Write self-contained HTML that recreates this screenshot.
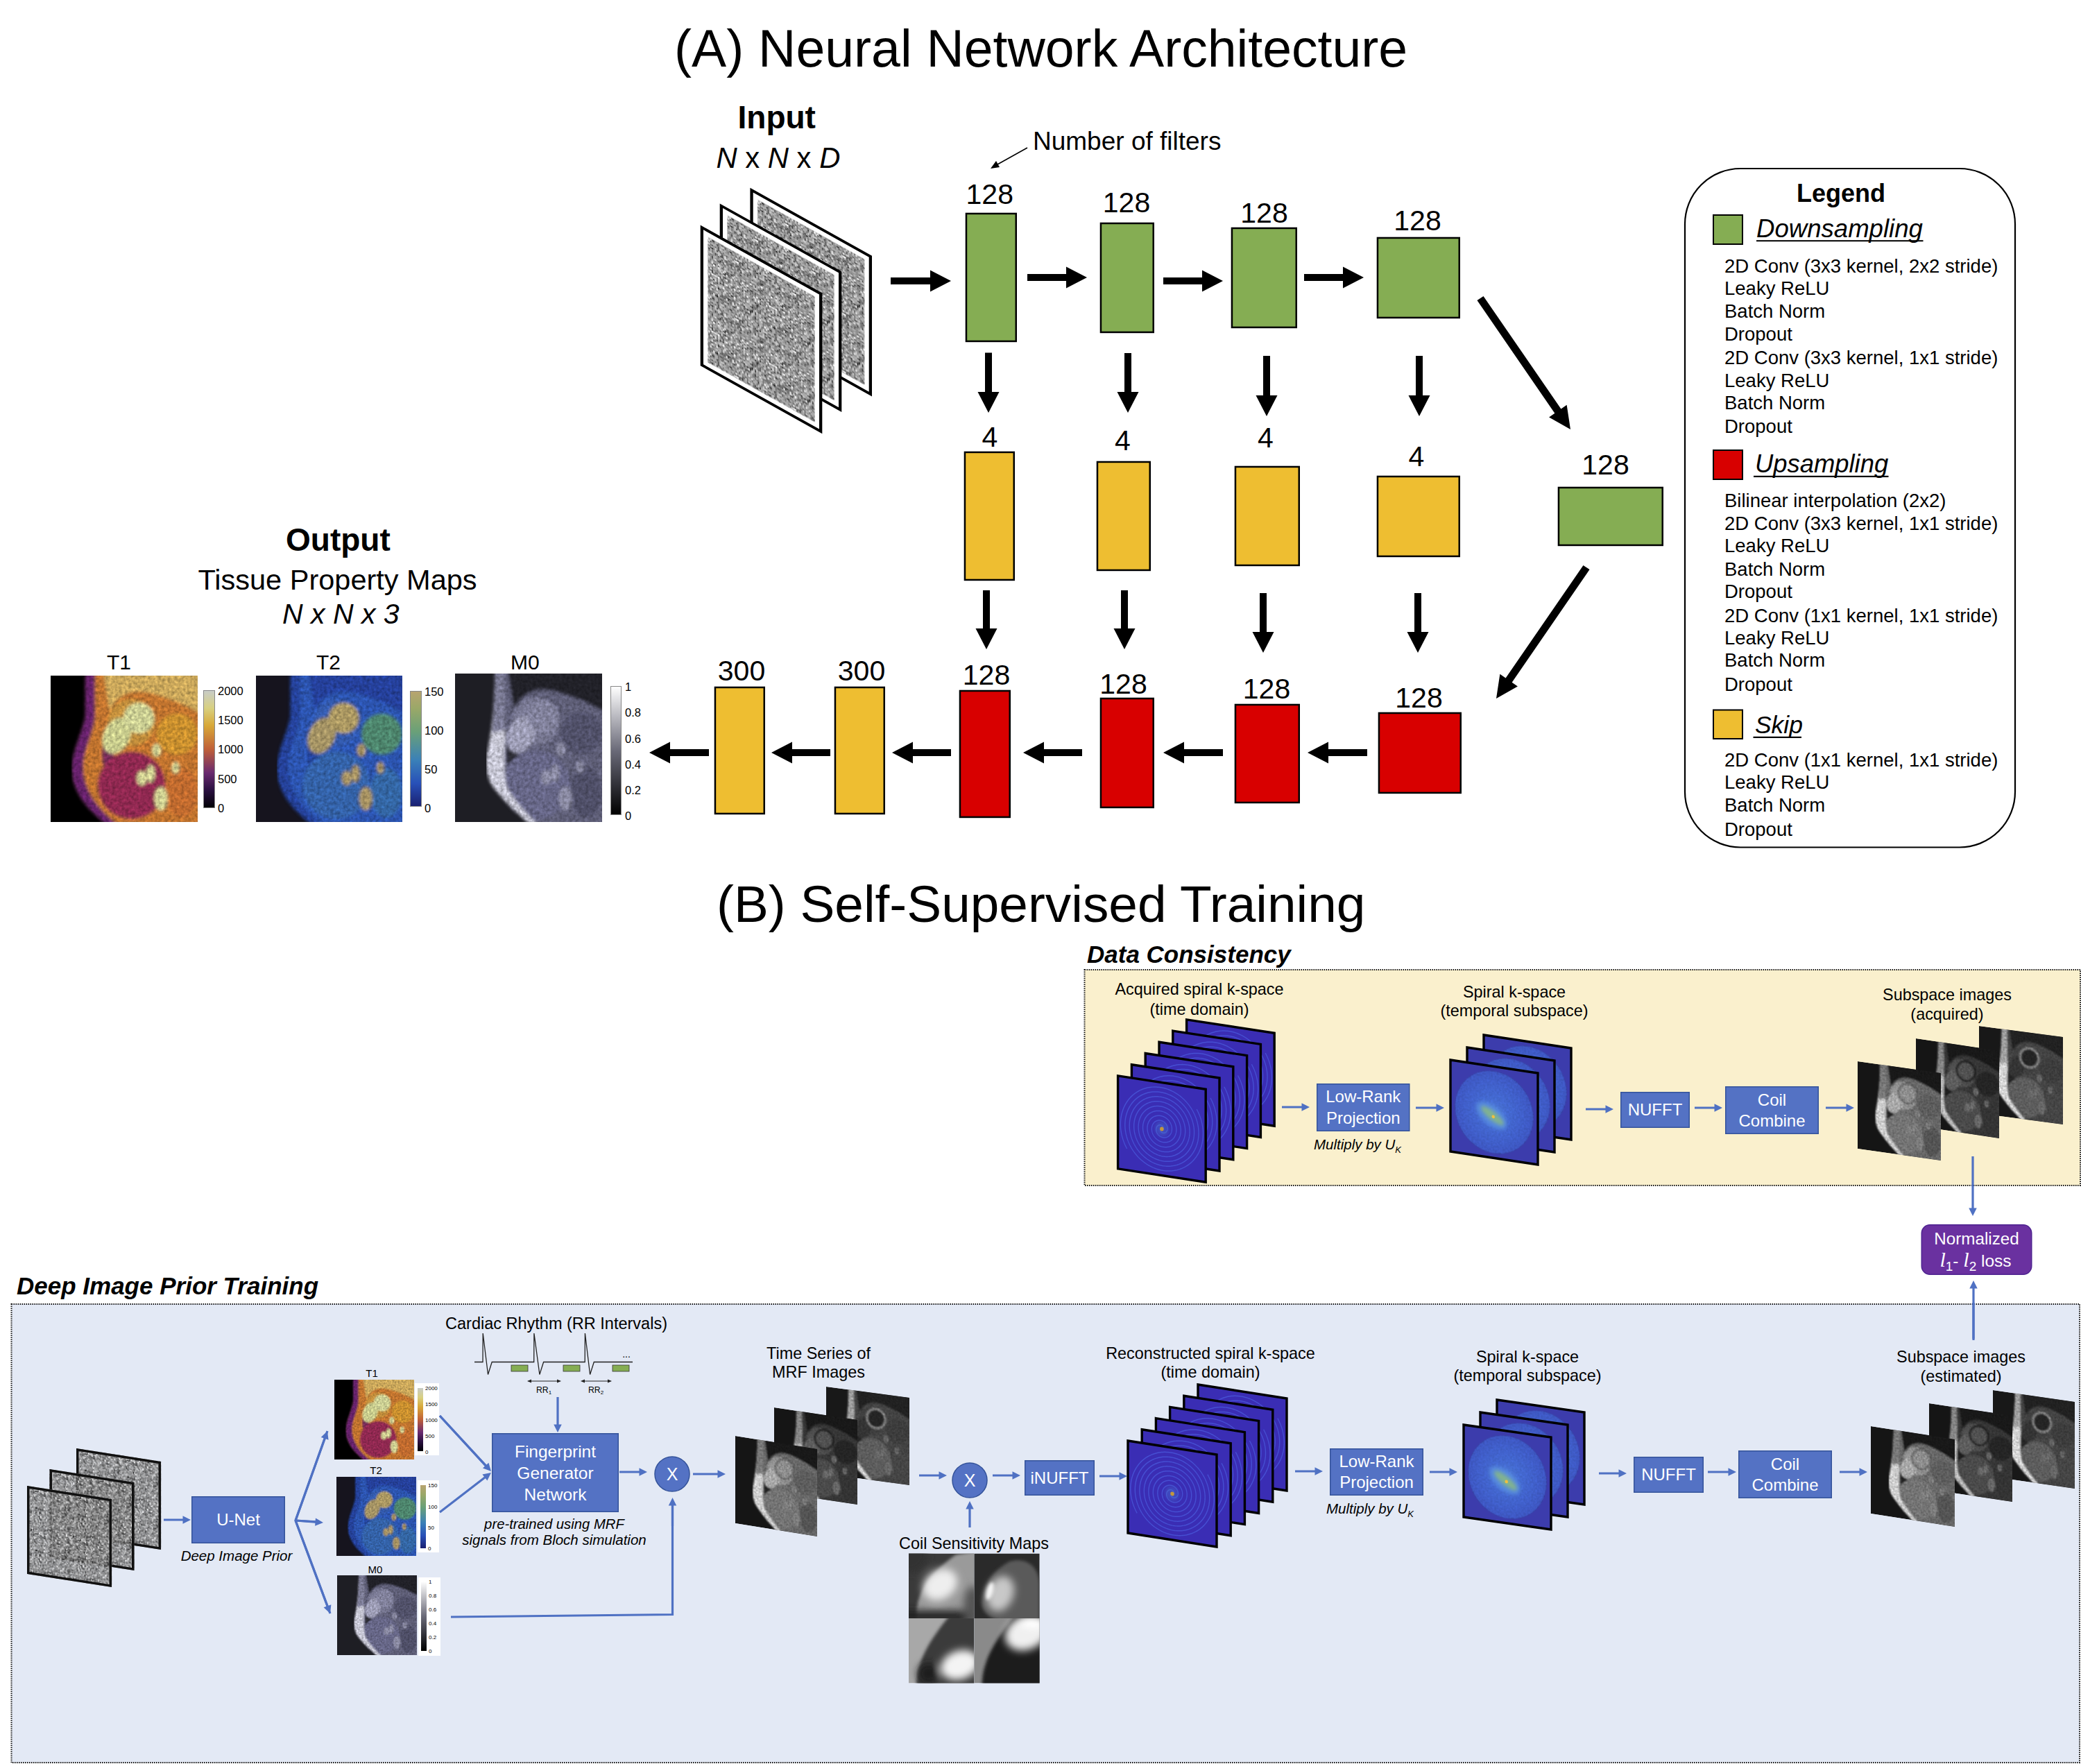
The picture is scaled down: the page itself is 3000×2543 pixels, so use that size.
<!DOCTYPE html>
<html><head><meta charset="utf-8"><style>
html,body{margin:0;padding:0;background:#fff;}
body{width:3000px;height:2543px;overflow:hidden;}
svg{display:block;}
text{font-family:"Liberation Sans", sans-serif;}
</style></head><body>
<svg width="3000" height="2543" viewBox="0 0 3000 2543">
<rect x="0" y="0" width="3000" height="2543" fill="#fff"/>
<defs>
<pattern id="pnoiseA" x="0" y="0" width="82.80" height="82.80" patternUnits="userSpaceOnUse">
<path d="M23.0 4.6h2.3v2.3h-2.3zM80.5 23.0h2.3v2.3h-2.3zM34.5 50.6h2.3v2.3h-2.3zM34.5 55.2h2.3v2.3h-2.3zM2.3 64.4h2.3v2.3h-2.3zM80.5 69.0h2.3v2.3h-2.3zM43.7 75.9h2.3v2.3h-2.3zM73.6 80.5h2.3v2.3h-2.3z" fill="#000000"/>
<path d="M66.7 0.0h2.3v2.3h-2.3zM71.3 0.0h2.3v2.3h-2.3zM78.2 0.0h2.3v2.3h-2.3zM34.5 2.3h2.3v2.3h-2.3zM39.1 2.3h2.3v2.3h-2.3zM48.3 2.3h2.3v2.3h-2.3zM71.3 2.3h2.3v2.3h-2.3zM48.3 6.9h2.3v2.3h-2.3zM16.1 11.5h2.3v2.3h-2.3zM18.4 11.5h2.3v2.3h-2.3zM0.0 13.8h2.3v2.3h-2.3zM2.3 20.7h2.3v2.3h-2.3zM16.1 23.0h2.3v2.3h-2.3zM11.5 25.3h2.3v2.3h-2.3zM29.9 32.2h2.3v2.3h-2.3zM43.7 32.2h2.3v2.3h-2.3zM4.6 34.5h2.3v2.3h-2.3zM27.6 34.5h2.3v2.3h-2.3zM57.5 34.5h2.3v2.3h-2.3zM57.5 39.1h2.3v2.3h-2.3zM6.9 41.4h2.3v2.3h-2.3zM43.7 46.0h2.3v2.3h-2.3zM34.5 48.3h2.3v2.3h-2.3zM16.1 55.2h2.3v2.3h-2.3zM66.7 55.2h2.3v2.3h-2.3zM2.3 57.5h2.3v2.3h-2.3zM59.8 59.8h2.3v2.3h-2.3zM46.0 62.1h2.3v2.3h-2.3zM73.6 64.4h2.3v2.3h-2.3zM18.4 66.7h2.3v2.3h-2.3zM27.6 66.7h2.3v2.3h-2.3zM78.2 66.7h2.3v2.3h-2.3zM23.0 69.0h2.3v2.3h-2.3zM46.0 71.3h2.3v2.3h-2.3zM80.5 71.3h2.3v2.3h-2.3zM25.3 75.9h2.3v2.3h-2.3zM73.6 75.9h2.3v2.3h-2.3zM9.2 80.5h2.3v2.3h-2.3zM62.1 80.5h2.3v2.3h-2.3z" fill="#1c1c1c"/>
<path d="M39.1 0.0h2.3v2.3h-2.3zM41.4 0.0h2.3v2.3h-2.3zM73.6 0.0h2.3v2.3h-2.3zM27.6 2.3h2.3v2.3h-2.3zM20.7 4.6h2.3v2.3h-2.3zM78.2 4.6h2.3v2.3h-2.3zM39.1 6.9h2.3v2.3h-2.3zM78.2 6.9h2.3v2.3h-2.3zM52.9 9.2h2.3v2.3h-2.3zM62.1 9.2h2.3v2.3h-2.3zM29.9 11.5h2.3v2.3h-2.3zM13.8 13.8h2.3v2.3h-2.3zM23.0 13.8h2.3v2.3h-2.3zM41.4 13.8h2.3v2.3h-2.3zM43.7 13.8h2.3v2.3h-2.3zM50.6 16.1h2.3v2.3h-2.3zM55.2 16.1h2.3v2.3h-2.3zM64.4 16.1h2.3v2.3h-2.3zM73.6 16.1h2.3v2.3h-2.3zM16.1 18.4h2.3v2.3h-2.3zM20.7 18.4h2.3v2.3h-2.3zM62.1 18.4h2.3v2.3h-2.3zM9.2 20.7h2.3v2.3h-2.3zM52.9 20.7h2.3v2.3h-2.3zM59.8 20.7h2.3v2.3h-2.3zM78.2 20.7h2.3v2.3h-2.3zM23.0 23.0h2.3v2.3h-2.3zM55.2 23.0h2.3v2.3h-2.3zM59.8 23.0h2.3v2.3h-2.3zM69.0 23.0h2.3v2.3h-2.3zM29.9 25.3h2.3v2.3h-2.3zM20.7 27.6h2.3v2.3h-2.3zM29.9 27.6h2.3v2.3h-2.3zM52.9 27.6h2.3v2.3h-2.3zM50.6 29.9h2.3v2.3h-2.3zM71.3 29.9h2.3v2.3h-2.3zM78.2 29.9h2.3v2.3h-2.3zM2.3 32.2h2.3v2.3h-2.3zM41.4 32.2h2.3v2.3h-2.3zM16.1 34.5h2.3v2.3h-2.3zM43.7 41.4h2.3v2.3h-2.3zM71.3 41.4h2.3v2.3h-2.3zM4.6 43.7h2.3v2.3h-2.3zM20.7 43.7h2.3v2.3h-2.3zM78.2 43.7h2.3v2.3h-2.3zM0.0 46.0h2.3v2.3h-2.3zM36.8 48.3h2.3v2.3h-2.3zM39.1 48.3h2.3v2.3h-2.3zM78.2 48.3h2.3v2.3h-2.3zM71.3 52.9h2.3v2.3h-2.3zM73.6 52.9h2.3v2.3h-2.3zM6.9 55.2h2.3v2.3h-2.3zM59.8 55.2h2.3v2.3h-2.3zM16.1 57.5h2.3v2.3h-2.3zM27.6 57.5h2.3v2.3h-2.3zM64.4 57.5h2.3v2.3h-2.3zM9.2 62.1h2.3v2.3h-2.3zM13.8 62.1h2.3v2.3h-2.3zM43.7 64.4h2.3v2.3h-2.3zM55.2 64.4h2.3v2.3h-2.3zM11.5 66.7h2.3v2.3h-2.3zM32.2 66.7h2.3v2.3h-2.3zM52.9 66.7h2.3v2.3h-2.3zM0.0 69.0h2.3v2.3h-2.3zM6.9 69.0h2.3v2.3h-2.3zM18.4 71.3h2.3v2.3h-2.3zM41.4 73.6h2.3v2.3h-2.3zM46.0 75.9h2.3v2.3h-2.3zM0.0 78.2h2.3v2.3h-2.3z" fill="#393939"/>
<path d="M4.6 0.0h2.3v2.3h-2.3zM29.9 0.0h2.3v2.3h-2.3zM36.8 0.0h2.3v2.3h-2.3zM52.9 0.0h2.3v2.3h-2.3zM62.1 0.0h2.3v2.3h-2.3zM18.4 2.3h2.3v2.3h-2.3zM23.0 2.3h2.3v2.3h-2.3zM29.9 2.3h2.3v2.3h-2.3zM32.2 2.3h2.3v2.3h-2.3zM62.1 2.3h2.3v2.3h-2.3zM16.1 4.6h2.3v2.3h-2.3zM50.6 4.6h2.3v2.3h-2.3zM59.8 4.6h2.3v2.3h-2.3zM64.4 4.6h2.3v2.3h-2.3zM66.7 4.6h2.3v2.3h-2.3zM69.0 4.6h2.3v2.3h-2.3zM13.8 6.9h2.3v2.3h-2.3zM27.6 6.9h2.3v2.3h-2.3zM29.9 6.9h2.3v2.3h-2.3zM34.5 6.9h2.3v2.3h-2.3zM46.0 6.9h2.3v2.3h-2.3zM64.4 6.9h2.3v2.3h-2.3zM25.3 9.2h2.3v2.3h-2.3zM32.2 9.2h2.3v2.3h-2.3zM66.7 9.2h2.3v2.3h-2.3zM75.9 9.2h2.3v2.3h-2.3zM0.0 11.5h2.3v2.3h-2.3zM34.5 11.5h2.3v2.3h-2.3zM57.5 11.5h2.3v2.3h-2.3zM62.1 11.5h2.3v2.3h-2.3zM66.7 11.5h2.3v2.3h-2.3zM80.5 11.5h2.3v2.3h-2.3zM34.5 13.8h2.3v2.3h-2.3zM55.2 13.8h2.3v2.3h-2.3zM4.6 16.1h2.3v2.3h-2.3zM9.2 16.1h2.3v2.3h-2.3zM25.3 16.1h2.3v2.3h-2.3zM32.2 16.1h2.3v2.3h-2.3zM39.1 16.1h2.3v2.3h-2.3zM43.7 16.1h2.3v2.3h-2.3zM46.0 16.1h2.3v2.3h-2.3zM2.3 18.4h2.3v2.3h-2.3zM13.8 18.4h2.3v2.3h-2.3zM25.3 18.4h2.3v2.3h-2.3zM59.8 18.4h2.3v2.3h-2.3zM75.9 18.4h2.3v2.3h-2.3zM25.3 20.7h2.3v2.3h-2.3zM57.5 20.7h2.3v2.3h-2.3zM13.8 23.0h2.3v2.3h-2.3zM36.8 23.0h2.3v2.3h-2.3zM46.0 23.0h2.3v2.3h-2.3zM66.7 23.0h2.3v2.3h-2.3zM75.9 23.0h2.3v2.3h-2.3zM9.2 25.3h2.3v2.3h-2.3zM55.2 25.3h2.3v2.3h-2.3zM64.4 25.3h2.3v2.3h-2.3zM27.6 27.6h2.3v2.3h-2.3zM46.0 27.6h2.3v2.3h-2.3zM59.8 27.6h2.3v2.3h-2.3zM62.1 27.6h2.3v2.3h-2.3zM78.2 27.6h2.3v2.3h-2.3zM0.0 29.9h2.3v2.3h-2.3zM6.9 29.9h2.3v2.3h-2.3zM20.7 29.9h2.3v2.3h-2.3zM25.3 29.9h2.3v2.3h-2.3zM36.8 29.9h2.3v2.3h-2.3zM43.7 29.9h2.3v2.3h-2.3zM55.2 29.9h2.3v2.3h-2.3zM13.8 32.2h2.3v2.3h-2.3zM36.8 32.2h2.3v2.3h-2.3zM48.3 32.2h2.3v2.3h-2.3zM52.9 32.2h2.3v2.3h-2.3zM55.2 32.2h2.3v2.3h-2.3zM57.5 32.2h2.3v2.3h-2.3zM66.7 32.2h2.3v2.3h-2.3zM69.0 32.2h2.3v2.3h-2.3zM2.3 34.5h2.3v2.3h-2.3zM6.9 34.5h2.3v2.3h-2.3zM32.2 34.5h2.3v2.3h-2.3zM43.7 34.5h2.3v2.3h-2.3zM52.9 34.5h2.3v2.3h-2.3zM62.1 34.5h2.3v2.3h-2.3zM66.7 34.5h2.3v2.3h-2.3zM2.3 36.8h2.3v2.3h-2.3zM4.6 36.8h2.3v2.3h-2.3zM16.1 36.8h2.3v2.3h-2.3zM25.3 36.8h2.3v2.3h-2.3zM27.6 36.8h2.3v2.3h-2.3zM73.6 36.8h2.3v2.3h-2.3zM0.0 39.1h2.3v2.3h-2.3zM29.9 39.1h2.3v2.3h-2.3zM34.5 39.1h2.3v2.3h-2.3zM48.3 39.1h2.3v2.3h-2.3zM55.2 39.1h2.3v2.3h-2.3zM32.2 41.4h2.3v2.3h-2.3zM48.3 41.4h2.3v2.3h-2.3zM62.1 41.4h2.3v2.3h-2.3zM75.9 41.4h2.3v2.3h-2.3zM18.4 43.7h2.3v2.3h-2.3zM25.3 43.7h2.3v2.3h-2.3zM29.9 43.7h2.3v2.3h-2.3zM2.3 46.0h2.3v2.3h-2.3zM36.8 46.0h2.3v2.3h-2.3zM39.1 46.0h2.3v2.3h-2.3zM46.0 46.0h2.3v2.3h-2.3zM57.5 46.0h2.3v2.3h-2.3zM64.4 46.0h2.3v2.3h-2.3zM2.3 48.3h2.3v2.3h-2.3zM4.6 48.3h2.3v2.3h-2.3zM6.9 48.3h2.3v2.3h-2.3zM41.4 48.3h2.3v2.3h-2.3zM57.5 48.3h2.3v2.3h-2.3zM75.9 48.3h2.3v2.3h-2.3zM9.2 50.6h2.3v2.3h-2.3zM16.1 50.6h2.3v2.3h-2.3zM32.2 50.6h2.3v2.3h-2.3zM50.6 50.6h2.3v2.3h-2.3zM55.2 50.6h2.3v2.3h-2.3zM66.7 50.6h2.3v2.3h-2.3zM11.5 52.9h2.3v2.3h-2.3zM27.6 52.9h2.3v2.3h-2.3zM55.2 52.9h2.3v2.3h-2.3zM57.5 52.9h2.3v2.3h-2.3zM62.1 52.9h2.3v2.3h-2.3zM78.2 52.9h2.3v2.3h-2.3zM4.6 55.2h2.3v2.3h-2.3zM13.8 55.2h2.3v2.3h-2.3zM20.7 55.2h2.3v2.3h-2.3zM23.0 55.2h2.3v2.3h-2.3zM32.2 55.2h2.3v2.3h-2.3zM36.8 55.2h2.3v2.3h-2.3zM48.3 55.2h2.3v2.3h-2.3zM73.6 55.2h2.3v2.3h-2.3zM78.2 55.2h2.3v2.3h-2.3zM9.2 57.5h2.3v2.3h-2.3zM71.3 57.5h2.3v2.3h-2.3zM4.6 59.8h2.3v2.3h-2.3zM29.9 59.8h2.3v2.3h-2.3zM73.6 59.8h2.3v2.3h-2.3zM2.3 62.1h2.3v2.3h-2.3zM23.0 62.1h2.3v2.3h-2.3zM29.9 62.1h2.3v2.3h-2.3zM32.2 62.1h2.3v2.3h-2.3zM36.8 62.1h2.3v2.3h-2.3zM48.3 62.1h2.3v2.3h-2.3zM6.9 64.4h2.3v2.3h-2.3zM13.8 64.4h2.3v2.3h-2.3zM32.2 64.4h2.3v2.3h-2.3zM59.8 64.4h2.3v2.3h-2.3zM69.0 64.4h2.3v2.3h-2.3zM0.0 66.7h2.3v2.3h-2.3zM39.1 66.7h2.3v2.3h-2.3zM46.0 66.7h2.3v2.3h-2.3zM50.6 66.7h2.3v2.3h-2.3zM34.5 69.0h2.3v2.3h-2.3zM55.2 69.0h2.3v2.3h-2.3zM59.8 69.0h2.3v2.3h-2.3zM62.1 69.0h2.3v2.3h-2.3zM4.6 71.3h2.3v2.3h-2.3zM11.5 71.3h2.3v2.3h-2.3zM20.7 71.3h2.3v2.3h-2.3zM36.8 71.3h2.3v2.3h-2.3zM50.6 71.3h2.3v2.3h-2.3zM2.3 73.6h2.3v2.3h-2.3zM9.2 73.6h2.3v2.3h-2.3zM50.6 73.6h2.3v2.3h-2.3zM2.3 75.9h2.3v2.3h-2.3zM9.2 75.9h2.3v2.3h-2.3zM13.8 75.9h2.3v2.3h-2.3zM16.1 75.9h2.3v2.3h-2.3zM27.6 75.9h2.3v2.3h-2.3zM57.5 75.9h2.3v2.3h-2.3zM62.1 75.9h2.3v2.3h-2.3zM71.3 75.9h2.3v2.3h-2.3zM78.2 75.9h2.3v2.3h-2.3zM2.3 78.2h2.3v2.3h-2.3zM11.5 78.2h2.3v2.3h-2.3zM20.7 78.2h2.3v2.3h-2.3zM29.9 78.2h2.3v2.3h-2.3zM39.1 78.2h2.3v2.3h-2.3zM41.4 78.2h2.3v2.3h-2.3zM50.6 78.2h2.3v2.3h-2.3zM16.1 80.5h2.3v2.3h-2.3zM46.0 80.5h2.3v2.3h-2.3zM78.2 80.5h2.3v2.3h-2.3z" fill="#555555"/>
<path d="M9.2 0.0h2.3v2.3h-2.3zM11.5 0.0h2.3v2.3h-2.3zM32.2 0.0h2.3v2.3h-2.3zM34.5 0.0h2.3v2.3h-2.3zM43.7 0.0h2.3v2.3h-2.3zM46.0 0.0h2.3v2.3h-2.3zM48.3 0.0h2.3v2.3h-2.3zM64.4 0.0h2.3v2.3h-2.3zM69.0 0.0h2.3v2.3h-2.3zM2.3 2.3h2.3v2.3h-2.3zM11.5 2.3h2.3v2.3h-2.3zM13.8 2.3h2.3v2.3h-2.3zM16.1 2.3h2.3v2.3h-2.3zM41.4 2.3h2.3v2.3h-2.3zM43.7 2.3h2.3v2.3h-2.3zM52.9 2.3h2.3v2.3h-2.3zM57.5 2.3h2.3v2.3h-2.3zM78.2 2.3h2.3v2.3h-2.3zM0.0 4.6h2.3v2.3h-2.3zM6.9 4.6h2.3v2.3h-2.3zM9.2 4.6h2.3v2.3h-2.3zM11.5 4.6h2.3v2.3h-2.3zM13.8 4.6h2.3v2.3h-2.3zM32.2 4.6h2.3v2.3h-2.3zM41.4 4.6h2.3v2.3h-2.3zM43.7 4.6h2.3v2.3h-2.3zM57.5 4.6h2.3v2.3h-2.3zM71.3 4.6h2.3v2.3h-2.3zM75.9 4.6h2.3v2.3h-2.3zM6.9 6.9h2.3v2.3h-2.3zM23.0 6.9h2.3v2.3h-2.3zM25.3 6.9h2.3v2.3h-2.3zM32.2 6.9h2.3v2.3h-2.3zM36.8 6.9h2.3v2.3h-2.3zM55.2 6.9h2.3v2.3h-2.3zM57.5 6.9h2.3v2.3h-2.3zM59.8 6.9h2.3v2.3h-2.3zM69.0 6.9h2.3v2.3h-2.3zM75.9 6.9h2.3v2.3h-2.3zM80.5 6.9h2.3v2.3h-2.3zM0.0 9.2h2.3v2.3h-2.3zM6.9 9.2h2.3v2.3h-2.3zM16.1 9.2h2.3v2.3h-2.3zM18.4 9.2h2.3v2.3h-2.3zM29.9 9.2h2.3v2.3h-2.3zM39.1 9.2h2.3v2.3h-2.3zM46.0 9.2h2.3v2.3h-2.3zM78.2 9.2h2.3v2.3h-2.3zM6.9 11.5h2.3v2.3h-2.3zM25.3 11.5h2.3v2.3h-2.3zM32.2 11.5h2.3v2.3h-2.3zM36.8 11.5h2.3v2.3h-2.3zM46.0 11.5h2.3v2.3h-2.3zM48.3 11.5h2.3v2.3h-2.3zM52.9 11.5h2.3v2.3h-2.3zM78.2 11.5h2.3v2.3h-2.3zM4.6 13.8h2.3v2.3h-2.3zM6.9 13.8h2.3v2.3h-2.3zM18.4 13.8h2.3v2.3h-2.3zM25.3 13.8h2.3v2.3h-2.3zM75.9 13.8h2.3v2.3h-2.3zM0.0 16.1h2.3v2.3h-2.3zM11.5 16.1h2.3v2.3h-2.3zM23.0 16.1h2.3v2.3h-2.3zM59.8 16.1h2.3v2.3h-2.3zM66.7 16.1h2.3v2.3h-2.3zM80.5 16.1h2.3v2.3h-2.3zM39.1 18.4h2.3v2.3h-2.3zM48.3 18.4h2.3v2.3h-2.3zM66.7 18.4h2.3v2.3h-2.3zM71.3 18.4h2.3v2.3h-2.3zM80.5 18.4h2.3v2.3h-2.3zM11.5 20.7h2.3v2.3h-2.3zM27.6 20.7h2.3v2.3h-2.3zM32.2 20.7h2.3v2.3h-2.3zM43.7 20.7h2.3v2.3h-2.3zM48.3 20.7h2.3v2.3h-2.3zM50.6 20.7h2.3v2.3h-2.3zM55.2 20.7h2.3v2.3h-2.3zM66.7 20.7h2.3v2.3h-2.3zM75.9 20.7h2.3v2.3h-2.3zM9.2 23.0h2.3v2.3h-2.3zM18.4 23.0h2.3v2.3h-2.3zM27.6 23.0h2.3v2.3h-2.3zM29.9 23.0h2.3v2.3h-2.3zM78.2 23.0h2.3v2.3h-2.3zM0.0 25.3h2.3v2.3h-2.3zM16.1 25.3h2.3v2.3h-2.3zM36.8 25.3h2.3v2.3h-2.3zM43.7 25.3h2.3v2.3h-2.3zM50.6 25.3h2.3v2.3h-2.3zM57.5 25.3h2.3v2.3h-2.3zM75.9 25.3h2.3v2.3h-2.3zM78.2 25.3h2.3v2.3h-2.3zM0.0 27.6h2.3v2.3h-2.3zM11.5 27.6h2.3v2.3h-2.3zM16.1 27.6h2.3v2.3h-2.3zM23.0 27.6h2.3v2.3h-2.3zM32.2 27.6h2.3v2.3h-2.3zM39.1 27.6h2.3v2.3h-2.3zM41.4 27.6h2.3v2.3h-2.3zM50.6 27.6h2.3v2.3h-2.3zM55.2 27.6h2.3v2.3h-2.3zM57.5 27.6h2.3v2.3h-2.3zM69.0 27.6h2.3v2.3h-2.3zM71.3 27.6h2.3v2.3h-2.3zM75.9 27.6h2.3v2.3h-2.3zM2.3 29.9h2.3v2.3h-2.3zM4.6 29.9h2.3v2.3h-2.3zM9.2 29.9h2.3v2.3h-2.3zM34.5 29.9h2.3v2.3h-2.3zM46.0 29.9h2.3v2.3h-2.3zM52.9 29.9h2.3v2.3h-2.3zM4.6 32.2h2.3v2.3h-2.3zM6.9 32.2h2.3v2.3h-2.3zM9.2 32.2h2.3v2.3h-2.3zM16.1 32.2h2.3v2.3h-2.3zM25.3 32.2h2.3v2.3h-2.3zM34.5 32.2h2.3v2.3h-2.3zM39.1 32.2h2.3v2.3h-2.3zM46.0 32.2h2.3v2.3h-2.3zM64.4 32.2h2.3v2.3h-2.3zM71.3 32.2h2.3v2.3h-2.3zM0.0 34.5h2.3v2.3h-2.3zM11.5 34.5h2.3v2.3h-2.3zM29.9 34.5h2.3v2.3h-2.3zM36.8 34.5h2.3v2.3h-2.3zM39.1 34.5h2.3v2.3h-2.3zM48.3 34.5h2.3v2.3h-2.3zM0.0 36.8h2.3v2.3h-2.3zM9.2 36.8h2.3v2.3h-2.3zM23.0 36.8h2.3v2.3h-2.3zM32.2 36.8h2.3v2.3h-2.3zM34.5 36.8h2.3v2.3h-2.3zM43.7 36.8h2.3v2.3h-2.3zM46.0 36.8h2.3v2.3h-2.3zM55.2 36.8h2.3v2.3h-2.3zM80.5 36.8h2.3v2.3h-2.3zM13.8 39.1h2.3v2.3h-2.3zM18.4 39.1h2.3v2.3h-2.3zM20.7 39.1h2.3v2.3h-2.3zM39.1 39.1h2.3v2.3h-2.3zM50.6 39.1h2.3v2.3h-2.3zM80.5 39.1h2.3v2.3h-2.3zM2.3 41.4h2.3v2.3h-2.3zM13.8 41.4h2.3v2.3h-2.3zM23.0 41.4h2.3v2.3h-2.3zM39.1 41.4h2.3v2.3h-2.3zM52.9 41.4h2.3v2.3h-2.3zM55.2 41.4h2.3v2.3h-2.3zM69.0 41.4h2.3v2.3h-2.3zM73.6 41.4h2.3v2.3h-2.3zM78.2 41.4h2.3v2.3h-2.3zM2.3 43.7h2.3v2.3h-2.3zM9.2 43.7h2.3v2.3h-2.3zM11.5 43.7h2.3v2.3h-2.3zM32.2 43.7h2.3v2.3h-2.3zM46.0 43.7h2.3v2.3h-2.3zM48.3 43.7h2.3v2.3h-2.3zM4.6 46.0h2.3v2.3h-2.3zM16.1 46.0h2.3v2.3h-2.3zM50.6 46.0h2.3v2.3h-2.3zM62.1 46.0h2.3v2.3h-2.3zM66.7 46.0h2.3v2.3h-2.3zM71.3 46.0h2.3v2.3h-2.3zM73.6 46.0h2.3v2.3h-2.3zM18.4 48.3h2.3v2.3h-2.3zM29.9 48.3h2.3v2.3h-2.3zM43.7 48.3h2.3v2.3h-2.3zM48.3 48.3h2.3v2.3h-2.3zM52.9 48.3h2.3v2.3h-2.3zM64.4 48.3h2.3v2.3h-2.3zM80.5 48.3h2.3v2.3h-2.3zM4.6 50.6h2.3v2.3h-2.3zM23.0 50.6h2.3v2.3h-2.3zM39.1 50.6h2.3v2.3h-2.3zM41.4 50.6h2.3v2.3h-2.3zM46.0 50.6h2.3v2.3h-2.3zM52.9 50.6h2.3v2.3h-2.3zM59.8 50.6h2.3v2.3h-2.3zM69.0 50.6h2.3v2.3h-2.3zM0.0 52.9h2.3v2.3h-2.3zM16.1 52.9h2.3v2.3h-2.3zM46.0 52.9h2.3v2.3h-2.3zM80.5 52.9h2.3v2.3h-2.3zM11.5 55.2h2.3v2.3h-2.3zM39.1 55.2h2.3v2.3h-2.3zM41.4 55.2h2.3v2.3h-2.3zM55.2 55.2h2.3v2.3h-2.3zM69.0 55.2h2.3v2.3h-2.3zM71.3 55.2h2.3v2.3h-2.3zM75.9 55.2h2.3v2.3h-2.3zM0.0 57.5h2.3v2.3h-2.3zM18.4 57.5h2.3v2.3h-2.3zM20.7 57.5h2.3v2.3h-2.3zM25.3 57.5h2.3v2.3h-2.3zM32.2 57.5h2.3v2.3h-2.3zM39.1 57.5h2.3v2.3h-2.3zM41.4 57.5h2.3v2.3h-2.3zM66.7 57.5h2.3v2.3h-2.3zM78.2 57.5h2.3v2.3h-2.3zM9.2 59.8h2.3v2.3h-2.3zM27.6 59.8h2.3v2.3h-2.3zM39.1 59.8h2.3v2.3h-2.3zM48.3 59.8h2.3v2.3h-2.3zM52.9 59.8h2.3v2.3h-2.3zM55.2 59.8h2.3v2.3h-2.3zM43.7 62.1h2.3v2.3h-2.3zM52.9 62.1h2.3v2.3h-2.3zM57.5 62.1h2.3v2.3h-2.3zM75.9 62.1h2.3v2.3h-2.3zM4.6 64.4h2.3v2.3h-2.3zM11.5 64.4h2.3v2.3h-2.3zM16.1 64.4h2.3v2.3h-2.3zM23.0 64.4h2.3v2.3h-2.3zM27.6 64.4h2.3v2.3h-2.3zM39.1 64.4h2.3v2.3h-2.3zM46.0 64.4h2.3v2.3h-2.3zM64.4 64.4h2.3v2.3h-2.3zM75.9 64.4h2.3v2.3h-2.3zM23.0 66.7h2.3v2.3h-2.3zM29.9 66.7h2.3v2.3h-2.3zM36.8 66.7h2.3v2.3h-2.3zM41.4 66.7h2.3v2.3h-2.3zM55.2 66.7h2.3v2.3h-2.3zM57.5 66.7h2.3v2.3h-2.3zM64.4 66.7h2.3v2.3h-2.3zM66.7 66.7h2.3v2.3h-2.3zM80.5 66.7h2.3v2.3h-2.3zM2.3 69.0h2.3v2.3h-2.3zM11.5 69.0h2.3v2.3h-2.3zM13.8 69.0h2.3v2.3h-2.3zM16.1 69.0h2.3v2.3h-2.3zM20.7 69.0h2.3v2.3h-2.3zM48.3 69.0h2.3v2.3h-2.3zM64.4 69.0h2.3v2.3h-2.3zM71.3 69.0h2.3v2.3h-2.3zM13.8 71.3h2.3v2.3h-2.3zM39.1 71.3h2.3v2.3h-2.3zM52.9 71.3h2.3v2.3h-2.3zM57.5 71.3h2.3v2.3h-2.3zM59.8 71.3h2.3v2.3h-2.3zM64.4 71.3h2.3v2.3h-2.3zM73.6 71.3h2.3v2.3h-2.3zM75.9 71.3h2.3v2.3h-2.3zM25.3 73.6h2.3v2.3h-2.3zM29.9 73.6h2.3v2.3h-2.3zM48.3 73.6h2.3v2.3h-2.3zM64.4 73.6h2.3v2.3h-2.3zM73.6 73.6h2.3v2.3h-2.3zM75.9 73.6h2.3v2.3h-2.3zM78.2 73.6h2.3v2.3h-2.3zM80.5 73.6h2.3v2.3h-2.3zM0.0 75.9h2.3v2.3h-2.3zM18.4 75.9h2.3v2.3h-2.3zM32.2 75.9h2.3v2.3h-2.3zM36.8 75.9h2.3v2.3h-2.3zM39.1 75.9h2.3v2.3h-2.3zM50.6 75.9h2.3v2.3h-2.3zM55.2 75.9h2.3v2.3h-2.3zM75.9 75.9h2.3v2.3h-2.3zM13.8 78.2h2.3v2.3h-2.3zM52.9 78.2h2.3v2.3h-2.3zM59.8 78.2h2.3v2.3h-2.3zM73.6 78.2h2.3v2.3h-2.3zM75.9 78.2h2.3v2.3h-2.3zM11.5 80.5h2.3v2.3h-2.3zM18.4 80.5h2.3v2.3h-2.3zM29.9 80.5h2.3v2.3h-2.3zM34.5 80.5h2.3v2.3h-2.3zM36.8 80.5h2.3v2.3h-2.3zM48.3 80.5h2.3v2.3h-2.3zM57.5 80.5h2.3v2.3h-2.3zM59.8 80.5h2.3v2.3h-2.3zM71.3 80.5h2.3v2.3h-2.3z" fill="#717171"/>
<path d="M0.0 0.0h2.3v2.3h-2.3zM16.1 0.0h2.3v2.3h-2.3zM18.4 0.0h2.3v2.3h-2.3zM25.3 0.0h2.3v2.3h-2.3zM50.6 0.0h2.3v2.3h-2.3zM55.2 0.0h2.3v2.3h-2.3zM57.5 0.0h2.3v2.3h-2.3zM0.0 2.3h2.3v2.3h-2.3zM20.7 2.3h2.3v2.3h-2.3zM55.2 2.3h2.3v2.3h-2.3zM64.4 2.3h2.3v2.3h-2.3zM66.7 2.3h2.3v2.3h-2.3zM80.5 2.3h2.3v2.3h-2.3zM4.6 4.6h2.3v2.3h-2.3zM25.3 4.6h2.3v2.3h-2.3zM27.6 4.6h2.3v2.3h-2.3zM29.9 4.6h2.3v2.3h-2.3zM34.5 4.6h2.3v2.3h-2.3zM36.8 4.6h2.3v2.3h-2.3zM62.1 4.6h2.3v2.3h-2.3zM0.0 6.9h2.3v2.3h-2.3zM9.2 6.9h2.3v2.3h-2.3zM11.5 6.9h2.3v2.3h-2.3zM20.7 6.9h2.3v2.3h-2.3zM41.4 6.9h2.3v2.3h-2.3zM43.7 6.9h2.3v2.3h-2.3zM50.6 6.9h2.3v2.3h-2.3zM73.6 6.9h2.3v2.3h-2.3zM4.6 9.2h2.3v2.3h-2.3zM9.2 9.2h2.3v2.3h-2.3zM13.8 9.2h2.3v2.3h-2.3zM27.6 9.2h2.3v2.3h-2.3zM41.4 9.2h2.3v2.3h-2.3zM48.3 9.2h2.3v2.3h-2.3zM55.2 9.2h2.3v2.3h-2.3zM64.4 9.2h2.3v2.3h-2.3zM73.6 9.2h2.3v2.3h-2.3zM11.5 11.5h2.3v2.3h-2.3zM27.6 11.5h2.3v2.3h-2.3zM41.4 11.5h2.3v2.3h-2.3zM43.7 11.5h2.3v2.3h-2.3zM50.6 11.5h2.3v2.3h-2.3zM71.3 11.5h2.3v2.3h-2.3zM73.6 11.5h2.3v2.3h-2.3zM9.2 13.8h2.3v2.3h-2.3zM16.1 13.8h2.3v2.3h-2.3zM36.8 13.8h2.3v2.3h-2.3zM39.1 13.8h2.3v2.3h-2.3zM48.3 13.8h2.3v2.3h-2.3zM50.6 13.8h2.3v2.3h-2.3zM59.8 13.8h2.3v2.3h-2.3zM62.1 13.8h2.3v2.3h-2.3zM66.7 13.8h2.3v2.3h-2.3zM69.0 13.8h2.3v2.3h-2.3zM71.3 13.8h2.3v2.3h-2.3zM13.8 16.1h2.3v2.3h-2.3zM29.9 16.1h2.3v2.3h-2.3zM36.8 16.1h2.3v2.3h-2.3zM48.3 16.1h2.3v2.3h-2.3zM52.9 16.1h2.3v2.3h-2.3zM62.1 16.1h2.3v2.3h-2.3zM4.6 18.4h2.3v2.3h-2.3zM18.4 18.4h2.3v2.3h-2.3zM23.0 18.4h2.3v2.3h-2.3zM34.5 18.4h2.3v2.3h-2.3zM36.8 18.4h2.3v2.3h-2.3zM41.4 18.4h2.3v2.3h-2.3zM43.7 18.4h2.3v2.3h-2.3zM52.9 18.4h2.3v2.3h-2.3zM69.0 18.4h2.3v2.3h-2.3zM73.6 18.4h2.3v2.3h-2.3zM78.2 18.4h2.3v2.3h-2.3zM0.0 20.7h2.3v2.3h-2.3zM6.9 20.7h2.3v2.3h-2.3zM13.8 20.7h2.3v2.3h-2.3zM18.4 20.7h2.3v2.3h-2.3zM23.0 20.7h2.3v2.3h-2.3zM46.0 20.7h2.3v2.3h-2.3zM62.1 20.7h2.3v2.3h-2.3zM0.0 23.0h2.3v2.3h-2.3zM4.6 23.0h2.3v2.3h-2.3zM32.2 23.0h2.3v2.3h-2.3zM34.5 23.0h2.3v2.3h-2.3zM39.1 23.0h2.3v2.3h-2.3zM57.5 23.0h2.3v2.3h-2.3zM62.1 23.0h2.3v2.3h-2.3zM71.3 23.0h2.3v2.3h-2.3zM2.3 25.3h2.3v2.3h-2.3zM4.6 25.3h2.3v2.3h-2.3zM18.4 25.3h2.3v2.3h-2.3zM32.2 25.3h2.3v2.3h-2.3zM41.4 25.3h2.3v2.3h-2.3zM62.1 25.3h2.3v2.3h-2.3zM69.0 25.3h2.3v2.3h-2.3zM80.5 25.3h2.3v2.3h-2.3zM9.2 27.6h2.3v2.3h-2.3zM18.4 27.6h2.3v2.3h-2.3zM43.7 27.6h2.3v2.3h-2.3zM48.3 27.6h2.3v2.3h-2.3zM18.4 29.9h2.3v2.3h-2.3zM23.0 29.9h2.3v2.3h-2.3zM27.6 29.9h2.3v2.3h-2.3zM32.2 29.9h2.3v2.3h-2.3zM39.1 29.9h2.3v2.3h-2.3zM41.4 29.9h2.3v2.3h-2.3zM64.4 29.9h2.3v2.3h-2.3zM66.7 29.9h2.3v2.3h-2.3zM69.0 29.9h2.3v2.3h-2.3zM73.6 29.9h2.3v2.3h-2.3zM11.5 32.2h2.3v2.3h-2.3zM18.4 32.2h2.3v2.3h-2.3zM23.0 32.2h2.3v2.3h-2.3zM62.1 32.2h2.3v2.3h-2.3zM73.6 32.2h2.3v2.3h-2.3zM80.5 32.2h2.3v2.3h-2.3zM9.2 34.5h2.3v2.3h-2.3zM13.8 34.5h2.3v2.3h-2.3zM20.7 34.5h2.3v2.3h-2.3zM23.0 34.5h2.3v2.3h-2.3zM25.3 34.5h2.3v2.3h-2.3zM50.6 34.5h2.3v2.3h-2.3zM64.4 34.5h2.3v2.3h-2.3zM69.0 34.5h2.3v2.3h-2.3zM71.3 34.5h2.3v2.3h-2.3zM75.9 34.5h2.3v2.3h-2.3zM13.8 36.8h2.3v2.3h-2.3zM39.1 36.8h2.3v2.3h-2.3zM41.4 36.8h2.3v2.3h-2.3zM48.3 36.8h2.3v2.3h-2.3zM50.6 36.8h2.3v2.3h-2.3zM57.5 36.8h2.3v2.3h-2.3zM62.1 36.8h2.3v2.3h-2.3zM69.0 36.8h2.3v2.3h-2.3zM71.3 36.8h2.3v2.3h-2.3zM75.9 36.8h2.3v2.3h-2.3zM78.2 36.8h2.3v2.3h-2.3zM6.9 39.1h2.3v2.3h-2.3zM9.2 39.1h2.3v2.3h-2.3zM16.1 39.1h2.3v2.3h-2.3zM23.0 39.1h2.3v2.3h-2.3zM25.3 39.1h2.3v2.3h-2.3zM27.6 39.1h2.3v2.3h-2.3zM32.2 39.1h2.3v2.3h-2.3zM41.4 39.1h2.3v2.3h-2.3zM52.9 39.1h2.3v2.3h-2.3zM59.8 39.1h2.3v2.3h-2.3zM62.1 39.1h2.3v2.3h-2.3zM64.4 39.1h2.3v2.3h-2.3zM66.7 39.1h2.3v2.3h-2.3zM69.0 39.1h2.3v2.3h-2.3zM71.3 39.1h2.3v2.3h-2.3zM9.2 41.4h2.3v2.3h-2.3zM11.5 41.4h2.3v2.3h-2.3zM18.4 41.4h2.3v2.3h-2.3zM20.7 41.4h2.3v2.3h-2.3zM41.4 41.4h2.3v2.3h-2.3zM57.5 41.4h2.3v2.3h-2.3zM59.8 41.4h2.3v2.3h-2.3zM64.4 41.4h2.3v2.3h-2.3zM80.5 41.4h2.3v2.3h-2.3zM0.0 43.7h2.3v2.3h-2.3zM6.9 43.7h2.3v2.3h-2.3zM13.8 43.7h2.3v2.3h-2.3zM43.7 43.7h2.3v2.3h-2.3zM55.2 43.7h2.3v2.3h-2.3zM57.5 43.7h2.3v2.3h-2.3zM64.4 43.7h2.3v2.3h-2.3zM66.7 43.7h2.3v2.3h-2.3zM69.0 43.7h2.3v2.3h-2.3zM73.6 43.7h2.3v2.3h-2.3zM6.9 46.0h2.3v2.3h-2.3zM9.2 46.0h2.3v2.3h-2.3zM11.5 46.0h2.3v2.3h-2.3zM13.8 46.0h2.3v2.3h-2.3zM20.7 46.0h2.3v2.3h-2.3zM32.2 46.0h2.3v2.3h-2.3zM41.4 46.0h2.3v2.3h-2.3zM52.9 46.0h2.3v2.3h-2.3zM59.8 46.0h2.3v2.3h-2.3zM69.0 46.0h2.3v2.3h-2.3zM0.0 48.3h2.3v2.3h-2.3zM9.2 48.3h2.3v2.3h-2.3zM16.1 48.3h2.3v2.3h-2.3zM20.7 48.3h2.3v2.3h-2.3zM23.0 48.3h2.3v2.3h-2.3zM55.2 48.3h2.3v2.3h-2.3zM62.1 48.3h2.3v2.3h-2.3zM69.0 48.3h2.3v2.3h-2.3zM71.3 48.3h2.3v2.3h-2.3zM73.6 48.3h2.3v2.3h-2.3zM2.3 50.6h2.3v2.3h-2.3zM13.8 50.6h2.3v2.3h-2.3zM25.3 50.6h2.3v2.3h-2.3zM43.7 50.6h2.3v2.3h-2.3zM73.6 50.6h2.3v2.3h-2.3zM75.9 50.6h2.3v2.3h-2.3zM2.3 52.9h2.3v2.3h-2.3zM6.9 52.9h2.3v2.3h-2.3zM9.2 52.9h2.3v2.3h-2.3zM18.4 52.9h2.3v2.3h-2.3zM20.7 52.9h2.3v2.3h-2.3zM23.0 52.9h2.3v2.3h-2.3zM25.3 52.9h2.3v2.3h-2.3zM29.9 52.9h2.3v2.3h-2.3zM34.5 52.9h2.3v2.3h-2.3zM41.4 52.9h2.3v2.3h-2.3zM48.3 52.9h2.3v2.3h-2.3zM52.9 52.9h2.3v2.3h-2.3zM64.4 52.9h2.3v2.3h-2.3zM69.0 52.9h2.3v2.3h-2.3zM75.9 52.9h2.3v2.3h-2.3zM0.0 55.2h2.3v2.3h-2.3zM2.3 55.2h2.3v2.3h-2.3zM27.6 55.2h2.3v2.3h-2.3zM46.0 55.2h2.3v2.3h-2.3zM52.9 55.2h2.3v2.3h-2.3zM80.5 55.2h2.3v2.3h-2.3zM46.0 57.5h2.3v2.3h-2.3zM50.6 57.5h2.3v2.3h-2.3zM57.5 57.5h2.3v2.3h-2.3zM59.8 57.5h2.3v2.3h-2.3zM62.1 57.5h2.3v2.3h-2.3zM73.6 57.5h2.3v2.3h-2.3zM75.9 57.5h2.3v2.3h-2.3zM2.3 59.8h2.3v2.3h-2.3zM6.9 59.8h2.3v2.3h-2.3zM11.5 59.8h2.3v2.3h-2.3zM13.8 59.8h2.3v2.3h-2.3zM32.2 59.8h2.3v2.3h-2.3zM34.5 59.8h2.3v2.3h-2.3zM36.8 59.8h2.3v2.3h-2.3zM46.0 59.8h2.3v2.3h-2.3zM57.5 59.8h2.3v2.3h-2.3zM64.4 59.8h2.3v2.3h-2.3zM69.0 59.8h2.3v2.3h-2.3zM71.3 59.8h2.3v2.3h-2.3zM80.5 59.8h2.3v2.3h-2.3zM6.9 62.1h2.3v2.3h-2.3zM16.1 62.1h2.3v2.3h-2.3zM18.4 62.1h2.3v2.3h-2.3zM20.7 62.1h2.3v2.3h-2.3zM27.6 62.1h2.3v2.3h-2.3zM34.5 62.1h2.3v2.3h-2.3zM41.4 62.1h2.3v2.3h-2.3zM50.6 62.1h2.3v2.3h-2.3zM59.8 62.1h2.3v2.3h-2.3zM64.4 62.1h2.3v2.3h-2.3zM66.7 62.1h2.3v2.3h-2.3zM71.3 62.1h2.3v2.3h-2.3zM73.6 62.1h2.3v2.3h-2.3zM80.5 62.1h2.3v2.3h-2.3zM9.2 64.4h2.3v2.3h-2.3zM50.6 64.4h2.3v2.3h-2.3zM57.5 64.4h2.3v2.3h-2.3zM71.3 64.4h2.3v2.3h-2.3zM80.5 64.4h2.3v2.3h-2.3zM59.8 66.7h2.3v2.3h-2.3zM71.3 66.7h2.3v2.3h-2.3zM73.6 66.7h2.3v2.3h-2.3zM75.9 66.7h2.3v2.3h-2.3zM25.3 69.0h2.3v2.3h-2.3zM27.6 69.0h2.3v2.3h-2.3zM36.8 69.0h2.3v2.3h-2.3zM39.1 69.0h2.3v2.3h-2.3zM41.4 69.0h2.3v2.3h-2.3zM43.7 69.0h2.3v2.3h-2.3zM46.0 69.0h2.3v2.3h-2.3zM50.6 69.0h2.3v2.3h-2.3zM57.5 69.0h2.3v2.3h-2.3zM66.7 69.0h2.3v2.3h-2.3zM78.2 69.0h2.3v2.3h-2.3zM0.0 71.3h2.3v2.3h-2.3zM2.3 71.3h2.3v2.3h-2.3zM6.9 71.3h2.3v2.3h-2.3zM23.0 71.3h2.3v2.3h-2.3zM34.5 71.3h2.3v2.3h-2.3zM43.7 71.3h2.3v2.3h-2.3zM48.3 71.3h2.3v2.3h-2.3zM62.1 71.3h2.3v2.3h-2.3zM78.2 71.3h2.3v2.3h-2.3zM4.6 73.6h2.3v2.3h-2.3zM6.9 73.6h2.3v2.3h-2.3zM11.5 73.6h2.3v2.3h-2.3zM18.4 73.6h2.3v2.3h-2.3zM32.2 73.6h2.3v2.3h-2.3zM39.1 73.6h2.3v2.3h-2.3zM46.0 73.6h2.3v2.3h-2.3zM55.2 73.6h2.3v2.3h-2.3zM59.8 73.6h2.3v2.3h-2.3zM66.7 73.6h2.3v2.3h-2.3zM69.0 73.6h2.3v2.3h-2.3zM20.7 75.9h2.3v2.3h-2.3zM29.9 75.9h2.3v2.3h-2.3zM52.9 75.9h2.3v2.3h-2.3zM59.8 75.9h2.3v2.3h-2.3zM80.5 75.9h2.3v2.3h-2.3zM4.6 78.2h2.3v2.3h-2.3zM6.9 78.2h2.3v2.3h-2.3zM9.2 78.2h2.3v2.3h-2.3zM25.3 78.2h2.3v2.3h-2.3zM27.6 78.2h2.3v2.3h-2.3zM34.5 78.2h2.3v2.3h-2.3zM36.8 78.2h2.3v2.3h-2.3zM43.7 78.2h2.3v2.3h-2.3zM46.0 78.2h2.3v2.3h-2.3zM69.0 78.2h2.3v2.3h-2.3zM80.5 78.2h2.3v2.3h-2.3zM0.0 80.5h2.3v2.3h-2.3zM4.6 80.5h2.3v2.3h-2.3zM6.9 80.5h2.3v2.3h-2.3zM20.7 80.5h2.3v2.3h-2.3zM23.0 80.5h2.3v2.3h-2.3zM39.1 80.5h2.3v2.3h-2.3zM43.7 80.5h2.3v2.3h-2.3zM50.6 80.5h2.3v2.3h-2.3zM69.0 80.5h2.3v2.3h-2.3z" fill="#8e8e8e"/>
<path d="M6.9 0.0h2.3v2.3h-2.3zM20.7 0.0h2.3v2.3h-2.3zM27.6 0.0h2.3v2.3h-2.3zM59.8 0.0h2.3v2.3h-2.3zM80.5 0.0h2.3v2.3h-2.3zM4.6 2.3h2.3v2.3h-2.3zM6.9 2.3h2.3v2.3h-2.3zM59.8 2.3h2.3v2.3h-2.3zM75.9 2.3h2.3v2.3h-2.3zM39.1 4.6h2.3v2.3h-2.3zM48.3 4.6h2.3v2.3h-2.3zM55.2 4.6h2.3v2.3h-2.3zM80.5 4.6h2.3v2.3h-2.3zM2.3 6.9h2.3v2.3h-2.3zM16.1 6.9h2.3v2.3h-2.3zM62.1 6.9h2.3v2.3h-2.3zM66.7 6.9h2.3v2.3h-2.3zM71.3 6.9h2.3v2.3h-2.3zM2.3 9.2h2.3v2.3h-2.3zM11.5 9.2h2.3v2.3h-2.3zM20.7 9.2h2.3v2.3h-2.3zM23.0 9.2h2.3v2.3h-2.3zM36.8 9.2h2.3v2.3h-2.3zM43.7 9.2h2.3v2.3h-2.3zM50.6 9.2h2.3v2.3h-2.3zM57.5 9.2h2.3v2.3h-2.3zM59.8 9.2h2.3v2.3h-2.3zM69.0 9.2h2.3v2.3h-2.3zM71.3 9.2h2.3v2.3h-2.3zM80.5 9.2h2.3v2.3h-2.3zM2.3 11.5h2.3v2.3h-2.3zM4.6 11.5h2.3v2.3h-2.3zM20.7 11.5h2.3v2.3h-2.3zM23.0 11.5h2.3v2.3h-2.3zM39.1 11.5h2.3v2.3h-2.3zM75.9 11.5h2.3v2.3h-2.3zM20.7 13.8h2.3v2.3h-2.3zM27.6 13.8h2.3v2.3h-2.3zM46.0 13.8h2.3v2.3h-2.3zM57.5 13.8h2.3v2.3h-2.3zM64.4 13.8h2.3v2.3h-2.3zM78.2 13.8h2.3v2.3h-2.3zM80.5 13.8h2.3v2.3h-2.3zM2.3 16.1h2.3v2.3h-2.3zM16.1 16.1h2.3v2.3h-2.3zM18.4 16.1h2.3v2.3h-2.3zM20.7 16.1h2.3v2.3h-2.3zM27.6 16.1h2.3v2.3h-2.3zM34.5 16.1h2.3v2.3h-2.3zM41.4 16.1h2.3v2.3h-2.3zM57.5 16.1h2.3v2.3h-2.3zM69.0 16.1h2.3v2.3h-2.3zM71.3 16.1h2.3v2.3h-2.3zM75.9 16.1h2.3v2.3h-2.3zM78.2 16.1h2.3v2.3h-2.3zM29.9 18.4h2.3v2.3h-2.3zM32.2 18.4h2.3v2.3h-2.3zM46.0 18.4h2.3v2.3h-2.3zM4.6 20.7h2.3v2.3h-2.3zM16.1 20.7h2.3v2.3h-2.3zM29.9 20.7h2.3v2.3h-2.3zM34.5 20.7h2.3v2.3h-2.3zM36.8 20.7h2.3v2.3h-2.3zM39.1 20.7h2.3v2.3h-2.3zM41.4 20.7h2.3v2.3h-2.3zM64.4 20.7h2.3v2.3h-2.3zM71.3 20.7h2.3v2.3h-2.3zM80.5 20.7h2.3v2.3h-2.3zM2.3 23.0h2.3v2.3h-2.3zM11.5 23.0h2.3v2.3h-2.3zM25.3 23.0h2.3v2.3h-2.3zM41.4 23.0h2.3v2.3h-2.3zM43.7 23.0h2.3v2.3h-2.3zM64.4 23.0h2.3v2.3h-2.3zM73.6 23.0h2.3v2.3h-2.3zM13.8 25.3h2.3v2.3h-2.3zM20.7 25.3h2.3v2.3h-2.3zM23.0 25.3h2.3v2.3h-2.3zM39.1 25.3h2.3v2.3h-2.3zM52.9 25.3h2.3v2.3h-2.3zM59.8 25.3h2.3v2.3h-2.3zM66.7 25.3h2.3v2.3h-2.3zM73.6 25.3h2.3v2.3h-2.3zM13.8 27.6h2.3v2.3h-2.3zM64.4 27.6h2.3v2.3h-2.3zM73.6 27.6h2.3v2.3h-2.3zM11.5 29.9h2.3v2.3h-2.3zM16.1 29.9h2.3v2.3h-2.3zM29.9 29.9h2.3v2.3h-2.3zM48.3 29.9h2.3v2.3h-2.3zM59.8 29.9h2.3v2.3h-2.3zM62.1 29.9h2.3v2.3h-2.3zM75.9 29.9h2.3v2.3h-2.3zM80.5 29.9h2.3v2.3h-2.3zM0.0 32.2h2.3v2.3h-2.3zM20.7 32.2h2.3v2.3h-2.3zM27.6 32.2h2.3v2.3h-2.3zM32.2 32.2h2.3v2.3h-2.3zM50.6 32.2h2.3v2.3h-2.3zM18.4 34.5h2.3v2.3h-2.3zM41.4 34.5h2.3v2.3h-2.3zM55.2 34.5h2.3v2.3h-2.3zM59.8 34.5h2.3v2.3h-2.3zM73.6 34.5h2.3v2.3h-2.3zM78.2 34.5h2.3v2.3h-2.3zM80.5 34.5h2.3v2.3h-2.3zM6.9 36.8h2.3v2.3h-2.3zM18.4 36.8h2.3v2.3h-2.3zM29.9 36.8h2.3v2.3h-2.3zM36.8 36.8h2.3v2.3h-2.3zM52.9 36.8h2.3v2.3h-2.3zM59.8 36.8h2.3v2.3h-2.3zM64.4 36.8h2.3v2.3h-2.3zM66.7 36.8h2.3v2.3h-2.3zM2.3 39.1h2.3v2.3h-2.3zM11.5 39.1h2.3v2.3h-2.3zM36.8 39.1h2.3v2.3h-2.3zM43.7 39.1h2.3v2.3h-2.3zM46.0 39.1h2.3v2.3h-2.3zM75.9 39.1h2.3v2.3h-2.3zM78.2 39.1h2.3v2.3h-2.3zM4.6 41.4h2.3v2.3h-2.3zM27.6 41.4h2.3v2.3h-2.3zM29.9 41.4h2.3v2.3h-2.3zM36.8 41.4h2.3v2.3h-2.3zM46.0 41.4h2.3v2.3h-2.3zM50.6 41.4h2.3v2.3h-2.3zM66.7 41.4h2.3v2.3h-2.3zM23.0 43.7h2.3v2.3h-2.3zM34.5 43.7h2.3v2.3h-2.3zM36.8 43.7h2.3v2.3h-2.3zM39.1 43.7h2.3v2.3h-2.3zM41.4 43.7h2.3v2.3h-2.3zM52.9 43.7h2.3v2.3h-2.3zM59.8 43.7h2.3v2.3h-2.3zM80.5 43.7h2.3v2.3h-2.3zM23.0 46.0h2.3v2.3h-2.3zM27.6 46.0h2.3v2.3h-2.3zM29.9 46.0h2.3v2.3h-2.3zM55.2 46.0h2.3v2.3h-2.3zM75.9 46.0h2.3v2.3h-2.3zM80.5 46.0h2.3v2.3h-2.3zM11.5 48.3h2.3v2.3h-2.3zM13.8 48.3h2.3v2.3h-2.3zM25.3 48.3h2.3v2.3h-2.3zM18.4 50.6h2.3v2.3h-2.3zM20.7 50.6h2.3v2.3h-2.3zM27.6 50.6h2.3v2.3h-2.3zM71.3 50.6h2.3v2.3h-2.3zM78.2 50.6h2.3v2.3h-2.3zM80.5 50.6h2.3v2.3h-2.3zM4.6 52.9h2.3v2.3h-2.3zM36.8 52.9h2.3v2.3h-2.3zM39.1 52.9h2.3v2.3h-2.3zM50.6 52.9h2.3v2.3h-2.3zM66.7 52.9h2.3v2.3h-2.3zM9.2 55.2h2.3v2.3h-2.3zM18.4 55.2h2.3v2.3h-2.3zM25.3 55.2h2.3v2.3h-2.3zM29.9 55.2h2.3v2.3h-2.3zM43.7 55.2h2.3v2.3h-2.3zM50.6 55.2h2.3v2.3h-2.3zM6.9 57.5h2.3v2.3h-2.3zM11.5 57.5h2.3v2.3h-2.3zM23.0 57.5h2.3v2.3h-2.3zM34.5 57.5h2.3v2.3h-2.3zM43.7 57.5h2.3v2.3h-2.3zM48.3 57.5h2.3v2.3h-2.3zM55.2 57.5h2.3v2.3h-2.3zM69.0 57.5h2.3v2.3h-2.3zM0.0 59.8h2.3v2.3h-2.3zM41.4 59.8h2.3v2.3h-2.3zM66.7 59.8h2.3v2.3h-2.3zM78.2 59.8h2.3v2.3h-2.3zM4.6 62.1h2.3v2.3h-2.3zM39.1 62.1h2.3v2.3h-2.3zM62.1 62.1h2.3v2.3h-2.3zM69.0 62.1h2.3v2.3h-2.3zM0.0 64.4h2.3v2.3h-2.3zM18.4 64.4h2.3v2.3h-2.3zM29.9 64.4h2.3v2.3h-2.3zM52.9 64.4h2.3v2.3h-2.3zM2.3 66.7h2.3v2.3h-2.3zM4.6 66.7h2.3v2.3h-2.3zM6.9 66.7h2.3v2.3h-2.3zM9.2 66.7h2.3v2.3h-2.3zM16.1 66.7h2.3v2.3h-2.3zM25.3 66.7h2.3v2.3h-2.3zM34.5 66.7h2.3v2.3h-2.3zM48.3 66.7h2.3v2.3h-2.3zM62.1 66.7h2.3v2.3h-2.3zM69.0 66.7h2.3v2.3h-2.3zM4.6 69.0h2.3v2.3h-2.3zM9.2 69.0h2.3v2.3h-2.3zM18.4 69.0h2.3v2.3h-2.3zM29.9 69.0h2.3v2.3h-2.3zM32.2 69.0h2.3v2.3h-2.3zM52.9 69.0h2.3v2.3h-2.3zM73.6 69.0h2.3v2.3h-2.3zM75.9 69.0h2.3v2.3h-2.3zM16.1 71.3h2.3v2.3h-2.3zM25.3 71.3h2.3v2.3h-2.3zM29.9 71.3h2.3v2.3h-2.3zM41.4 71.3h2.3v2.3h-2.3zM69.0 71.3h2.3v2.3h-2.3zM71.3 71.3h2.3v2.3h-2.3zM0.0 73.6h2.3v2.3h-2.3zM13.8 73.6h2.3v2.3h-2.3zM23.0 73.6h2.3v2.3h-2.3zM27.6 73.6h2.3v2.3h-2.3zM34.5 73.6h2.3v2.3h-2.3zM52.9 73.6h2.3v2.3h-2.3zM57.5 73.6h2.3v2.3h-2.3zM4.6 75.9h2.3v2.3h-2.3zM11.5 75.9h2.3v2.3h-2.3zM23.0 75.9h2.3v2.3h-2.3zM64.4 75.9h2.3v2.3h-2.3zM66.7 75.9h2.3v2.3h-2.3zM69.0 75.9h2.3v2.3h-2.3zM18.4 78.2h2.3v2.3h-2.3zM55.2 78.2h2.3v2.3h-2.3zM57.5 78.2h2.3v2.3h-2.3zM64.4 78.2h2.3v2.3h-2.3zM66.7 78.2h2.3v2.3h-2.3zM71.3 78.2h2.3v2.3h-2.3zM13.8 80.5h2.3v2.3h-2.3zM25.3 80.5h2.3v2.3h-2.3zM27.6 80.5h2.3v2.3h-2.3zM41.4 80.5h2.3v2.3h-2.3zM52.9 80.5h2.3v2.3h-2.3zM66.7 80.5h2.3v2.3h-2.3zM75.9 80.5h2.3v2.3h-2.3z" fill="#aaaaaa"/>
<path d="M2.3 0.0h2.3v2.3h-2.3zM23.0 0.0h2.3v2.3h-2.3zM75.9 0.0h2.3v2.3h-2.3zM9.2 2.3h2.3v2.3h-2.3zM25.3 2.3h2.3v2.3h-2.3zM50.6 2.3h2.3v2.3h-2.3zM73.6 2.3h2.3v2.3h-2.3zM73.6 4.6h2.3v2.3h-2.3zM4.6 6.9h2.3v2.3h-2.3zM18.4 6.9h2.3v2.3h-2.3zM52.9 6.9h2.3v2.3h-2.3zM34.5 9.2h2.3v2.3h-2.3zM55.2 11.5h2.3v2.3h-2.3zM64.4 11.5h2.3v2.3h-2.3zM2.3 13.8h2.3v2.3h-2.3zM29.9 13.8h2.3v2.3h-2.3zM32.2 13.8h2.3v2.3h-2.3zM52.9 13.8h2.3v2.3h-2.3zM6.9 16.1h2.3v2.3h-2.3zM0.0 18.4h2.3v2.3h-2.3zM6.9 18.4h2.3v2.3h-2.3zM9.2 18.4h2.3v2.3h-2.3zM11.5 18.4h2.3v2.3h-2.3zM27.6 18.4h2.3v2.3h-2.3zM55.2 18.4h2.3v2.3h-2.3zM57.5 18.4h2.3v2.3h-2.3zM64.4 18.4h2.3v2.3h-2.3zM20.7 20.7h2.3v2.3h-2.3zM69.0 20.7h2.3v2.3h-2.3zM73.6 20.7h2.3v2.3h-2.3zM6.9 23.0h2.3v2.3h-2.3zM20.7 23.0h2.3v2.3h-2.3zM48.3 23.0h2.3v2.3h-2.3zM6.9 25.3h2.3v2.3h-2.3zM25.3 25.3h2.3v2.3h-2.3zM27.6 25.3h2.3v2.3h-2.3zM46.0 25.3h2.3v2.3h-2.3zM48.3 25.3h2.3v2.3h-2.3zM71.3 25.3h2.3v2.3h-2.3zM2.3 27.6h2.3v2.3h-2.3zM4.6 27.6h2.3v2.3h-2.3zM6.9 27.6h2.3v2.3h-2.3zM25.3 27.6h2.3v2.3h-2.3zM36.8 27.6h2.3v2.3h-2.3zM80.5 27.6h2.3v2.3h-2.3zM13.8 29.9h2.3v2.3h-2.3zM57.5 29.9h2.3v2.3h-2.3zM75.9 32.2h2.3v2.3h-2.3zM78.2 32.2h2.3v2.3h-2.3zM46.0 34.5h2.3v2.3h-2.3zM11.5 36.8h2.3v2.3h-2.3zM73.6 39.1h2.3v2.3h-2.3zM0.0 41.4h2.3v2.3h-2.3zM16.1 41.4h2.3v2.3h-2.3zM34.5 41.4h2.3v2.3h-2.3zM27.6 43.7h2.3v2.3h-2.3zM50.6 43.7h2.3v2.3h-2.3zM62.1 43.7h2.3v2.3h-2.3zM75.9 43.7h2.3v2.3h-2.3zM48.3 46.0h2.3v2.3h-2.3zM78.2 46.0h2.3v2.3h-2.3zM27.6 48.3h2.3v2.3h-2.3zM50.6 48.3h2.3v2.3h-2.3zM0.0 50.6h2.3v2.3h-2.3zM6.9 50.6h2.3v2.3h-2.3zM11.5 50.6h2.3v2.3h-2.3zM29.9 50.6h2.3v2.3h-2.3zM48.3 50.6h2.3v2.3h-2.3zM57.5 50.6h2.3v2.3h-2.3zM62.1 50.6h2.3v2.3h-2.3zM64.4 50.6h2.3v2.3h-2.3zM32.2 52.9h2.3v2.3h-2.3zM59.8 52.9h2.3v2.3h-2.3zM57.5 55.2h2.3v2.3h-2.3zM62.1 55.2h2.3v2.3h-2.3zM64.4 55.2h2.3v2.3h-2.3zM4.6 57.5h2.3v2.3h-2.3zM29.9 57.5h2.3v2.3h-2.3zM18.4 59.8h2.3v2.3h-2.3zM23.0 59.8h2.3v2.3h-2.3zM50.6 59.8h2.3v2.3h-2.3zM25.3 62.1h2.3v2.3h-2.3zM20.7 64.4h2.3v2.3h-2.3zM25.3 64.4h2.3v2.3h-2.3zM34.5 64.4h2.3v2.3h-2.3zM41.4 64.4h2.3v2.3h-2.3zM62.1 64.4h2.3v2.3h-2.3zM78.2 64.4h2.3v2.3h-2.3zM43.7 66.7h2.3v2.3h-2.3zM69.0 69.0h2.3v2.3h-2.3zM9.2 71.3h2.3v2.3h-2.3zM27.6 71.3h2.3v2.3h-2.3zM55.2 71.3h2.3v2.3h-2.3zM36.8 73.6h2.3v2.3h-2.3zM43.7 73.6h2.3v2.3h-2.3zM62.1 73.6h2.3v2.3h-2.3zM71.3 73.6h2.3v2.3h-2.3zM6.9 75.9h2.3v2.3h-2.3zM41.4 75.9h2.3v2.3h-2.3zM32.2 78.2h2.3v2.3h-2.3zM48.3 78.2h2.3v2.3h-2.3zM62.1 78.2h2.3v2.3h-2.3zM78.2 78.2h2.3v2.3h-2.3zM2.3 80.5h2.3v2.3h-2.3zM32.2 80.5h2.3v2.3h-2.3zM64.4 80.5h2.3v2.3h-2.3zM80.5 80.5h2.3v2.3h-2.3z" fill="#c6c6c6"/>
<path d="M13.8 0.0h2.3v2.3h-2.3zM36.8 2.3h2.3v2.3h-2.3zM46.0 2.3h2.3v2.3h-2.3zM69.0 2.3h2.3v2.3h-2.3zM2.3 4.6h2.3v2.3h-2.3zM18.4 4.6h2.3v2.3h-2.3zM46.0 4.6h2.3v2.3h-2.3zM13.8 11.5h2.3v2.3h-2.3zM59.8 11.5h2.3v2.3h-2.3zM69.0 11.5h2.3v2.3h-2.3zM11.5 13.8h2.3v2.3h-2.3zM73.6 13.8h2.3v2.3h-2.3zM50.6 18.4h2.3v2.3h-2.3zM50.6 23.0h2.3v2.3h-2.3zM34.5 25.3h2.3v2.3h-2.3zM34.5 27.6h2.3v2.3h-2.3zM66.7 27.6h2.3v2.3h-2.3zM59.8 32.2h2.3v2.3h-2.3zM34.5 34.5h2.3v2.3h-2.3zM20.7 36.8h2.3v2.3h-2.3zM25.3 41.4h2.3v2.3h-2.3zM16.1 43.7h2.3v2.3h-2.3zM25.3 46.0h2.3v2.3h-2.3zM34.5 46.0h2.3v2.3h-2.3zM32.2 48.3h2.3v2.3h-2.3zM46.0 48.3h2.3v2.3h-2.3zM36.8 50.6h2.3v2.3h-2.3zM13.8 52.9h2.3v2.3h-2.3zM43.7 52.9h2.3v2.3h-2.3zM13.8 57.5h2.3v2.3h-2.3zM20.7 59.8h2.3v2.3h-2.3zM43.7 59.8h2.3v2.3h-2.3zM62.1 59.8h2.3v2.3h-2.3zM75.9 59.8h2.3v2.3h-2.3zM11.5 62.1h2.3v2.3h-2.3zM55.2 62.1h2.3v2.3h-2.3zM78.2 62.1h2.3v2.3h-2.3zM13.8 66.7h2.3v2.3h-2.3zM20.7 66.7h2.3v2.3h-2.3zM66.7 71.3h2.3v2.3h-2.3zM16.1 73.6h2.3v2.3h-2.3zM20.7 73.6h2.3v2.3h-2.3zM34.5 75.9h2.3v2.3h-2.3zM16.1 78.2h2.3v2.3h-2.3zM23.0 78.2h2.3v2.3h-2.3zM55.2 80.5h2.3v2.3h-2.3z" fill="#e3e3e3"/>
<path d="M52.9 4.6h2.3v2.3h-2.3zM9.2 11.5h2.3v2.3h-2.3zM52.9 23.0h2.3v2.3h-2.3zM4.6 39.1h2.3v2.3h-2.3zM71.3 43.7h2.3v2.3h-2.3zM18.4 46.0h2.3v2.3h-2.3zM59.8 48.3h2.3v2.3h-2.3zM66.7 48.3h2.3v2.3h-2.3zM36.8 57.5h2.3v2.3h-2.3zM52.9 57.5h2.3v2.3h-2.3zM80.5 57.5h2.3v2.3h-2.3zM16.1 59.8h2.3v2.3h-2.3zM25.3 59.8h2.3v2.3h-2.3zM0.0 62.1h2.3v2.3h-2.3zM36.8 64.4h2.3v2.3h-2.3zM48.3 64.4h2.3v2.3h-2.3zM66.7 64.4h2.3v2.3h-2.3zM32.2 71.3h2.3v2.3h-2.3zM48.3 75.9h2.3v2.3h-2.3z" fill="#ffffff"/>
</pattern>
<pattern id="pnoiseB" x="0" y="0" width="61.20" height="61.20" patternUnits="userSpaceOnUse">
<path d="M5.1 0.0h1.7v1.7h-1.7zM5.1 1.7h1.7v1.7h-1.7zM42.5 3.4h1.7v1.7h-1.7zM11.9 5.1h1.7v1.7h-1.7zM0.0 22.1h1.7v1.7h-1.7zM54.4 22.1h1.7v1.7h-1.7zM11.9 28.9h1.7v1.7h-1.7zM13.6 28.9h1.7v1.7h-1.7zM44.2 30.6h1.7v1.7h-1.7zM20.4 37.4h1.7v1.7h-1.7zM17.0 40.8h1.7v1.7h-1.7zM27.2 40.8h1.7v1.7h-1.7zM25.5 44.2h1.7v1.7h-1.7zM57.8 51.0h1.7v1.7h-1.7z" fill="#000000"/>
<path d="M8.5 0.0h1.7v1.7h-1.7zM42.5 1.7h1.7v1.7h-1.7zM15.3 3.4h1.7v1.7h-1.7zM23.8 3.4h1.7v1.7h-1.7zM44.2 5.1h1.7v1.7h-1.7zM59.5 5.1h1.7v1.7h-1.7zM34.0 6.8h1.7v1.7h-1.7zM45.9 6.8h1.7v1.7h-1.7zM23.8 10.2h1.7v1.7h-1.7zM39.1 11.9h1.7v1.7h-1.7zM27.2 13.6h1.7v1.7h-1.7zM44.2 13.6h1.7v1.7h-1.7zM45.9 15.3h1.7v1.7h-1.7zM34.0 17.0h1.7v1.7h-1.7zM20.4 20.4h1.7v1.7h-1.7zM20.4 22.1h1.7v1.7h-1.7zM39.1 22.1h1.7v1.7h-1.7zM59.5 23.8h1.7v1.7h-1.7zM54.4 25.5h1.7v1.7h-1.7zM59.5 25.5h1.7v1.7h-1.7zM32.3 27.2h1.7v1.7h-1.7zM30.6 28.9h1.7v1.7h-1.7zM18.7 30.6h1.7v1.7h-1.7zM49.3 30.6h1.7v1.7h-1.7zM54.4 30.6h1.7v1.7h-1.7zM32.3 32.3h1.7v1.7h-1.7zM56.1 32.3h1.7v1.7h-1.7zM32.3 34.0h1.7v1.7h-1.7zM11.9 35.7h1.7v1.7h-1.7zM18.7 35.7h1.7v1.7h-1.7zM42.5 35.7h1.7v1.7h-1.7zM51.0 35.7h1.7v1.7h-1.7zM52.7 35.7h1.7v1.7h-1.7zM39.1 37.4h1.7v1.7h-1.7zM13.6 39.1h1.7v1.7h-1.7zM10.2 40.8h1.7v1.7h-1.7zM15.3 40.8h1.7v1.7h-1.7zM22.1 40.8h1.7v1.7h-1.7zM59.5 40.8h1.7v1.7h-1.7zM37.4 42.5h1.7v1.7h-1.7zM18.7 44.2h1.7v1.7h-1.7zM47.6 44.2h1.7v1.7h-1.7zM3.4 49.3h1.7v1.7h-1.7zM22.1 49.3h1.7v1.7h-1.7zM3.4 52.7h1.7v1.7h-1.7zM23.8 52.7h1.7v1.7h-1.7zM25.5 59.5h1.7v1.7h-1.7z" fill="#1c1c1c"/>
<path d="M0.0 0.0h1.7v1.7h-1.7zM1.7 0.0h1.7v1.7h-1.7zM23.8 0.0h1.7v1.7h-1.7zM57.8 0.0h1.7v1.7h-1.7zM6.8 3.4h1.7v1.7h-1.7zM25.5 3.4h1.7v1.7h-1.7zM27.2 3.4h1.7v1.7h-1.7zM40.8 3.4h1.7v1.7h-1.7zM54.4 3.4h1.7v1.7h-1.7zM13.6 5.1h1.7v1.7h-1.7zM15.3 5.1h1.7v1.7h-1.7zM34.0 5.1h1.7v1.7h-1.7zM5.1 6.8h1.7v1.7h-1.7zM8.5 6.8h1.7v1.7h-1.7zM18.7 6.8h1.7v1.7h-1.7zM39.1 6.8h1.7v1.7h-1.7zM57.8 6.8h1.7v1.7h-1.7zM8.5 8.5h1.7v1.7h-1.7zM15.3 8.5h1.7v1.7h-1.7zM20.4 8.5h1.7v1.7h-1.7zM22.1 8.5h1.7v1.7h-1.7zM25.5 8.5h1.7v1.7h-1.7zM30.6 8.5h1.7v1.7h-1.7zM25.5 10.2h1.7v1.7h-1.7zM32.3 10.2h1.7v1.7h-1.7zM57.8 10.2h1.7v1.7h-1.7zM59.5 10.2h1.7v1.7h-1.7zM22.1 13.6h1.7v1.7h-1.7zM37.4 13.6h1.7v1.7h-1.7zM42.5 13.6h1.7v1.7h-1.7zM10.2 15.3h1.7v1.7h-1.7zM28.9 15.3h1.7v1.7h-1.7zM44.2 15.3h1.7v1.7h-1.7zM10.2 17.0h1.7v1.7h-1.7zM37.4 17.0h1.7v1.7h-1.7zM59.5 17.0h1.7v1.7h-1.7zM52.7 18.7h1.7v1.7h-1.7zM54.4 20.4h1.7v1.7h-1.7zM59.5 20.4h1.7v1.7h-1.7zM32.3 22.1h1.7v1.7h-1.7zM51.0 23.8h1.7v1.7h-1.7zM23.8 25.5h1.7v1.7h-1.7zM45.9 25.5h1.7v1.7h-1.7zM52.7 25.5h1.7v1.7h-1.7zM57.8 25.5h1.7v1.7h-1.7zM1.7 27.2h1.7v1.7h-1.7zM22.1 27.2h1.7v1.7h-1.7zM44.2 27.2h1.7v1.7h-1.7zM20.4 30.6h1.7v1.7h-1.7zM22.1 30.6h1.7v1.7h-1.7zM27.2 30.6h1.7v1.7h-1.7zM40.8 30.6h1.7v1.7h-1.7zM52.7 30.6h1.7v1.7h-1.7zM10.2 32.3h1.7v1.7h-1.7zM25.5 32.3h1.7v1.7h-1.7zM35.7 32.3h1.7v1.7h-1.7zM54.4 32.3h1.7v1.7h-1.7zM5.1 34.0h1.7v1.7h-1.7zM17.0 34.0h1.7v1.7h-1.7zM18.7 34.0h1.7v1.7h-1.7zM54.4 34.0h1.7v1.7h-1.7zM0.0 35.7h1.7v1.7h-1.7zM5.1 35.7h1.7v1.7h-1.7zM17.0 35.7h1.7v1.7h-1.7zM45.9 35.7h1.7v1.7h-1.7zM49.3 35.7h1.7v1.7h-1.7zM5.1 37.4h1.7v1.7h-1.7zM28.9 37.4h1.7v1.7h-1.7zM44.2 37.4h1.7v1.7h-1.7zM49.3 37.4h1.7v1.7h-1.7zM54.4 39.1h1.7v1.7h-1.7zM57.8 39.1h1.7v1.7h-1.7zM52.7 40.8h1.7v1.7h-1.7zM17.0 42.5h1.7v1.7h-1.7zM39.1 42.5h1.7v1.7h-1.7zM51.0 42.5h1.7v1.7h-1.7zM0.0 44.2h1.7v1.7h-1.7zM17.0 44.2h1.7v1.7h-1.7zM37.4 44.2h1.7v1.7h-1.7zM54.4 44.2h1.7v1.7h-1.7zM18.7 45.9h1.7v1.7h-1.7zM39.1 45.9h1.7v1.7h-1.7zM56.1 45.9h1.7v1.7h-1.7zM10.2 47.6h1.7v1.7h-1.7zM32.3 47.6h1.7v1.7h-1.7zM51.0 47.6h1.7v1.7h-1.7zM10.2 49.3h1.7v1.7h-1.7zM39.1 52.7h1.7v1.7h-1.7zM45.9 52.7h1.7v1.7h-1.7zM57.8 52.7h1.7v1.7h-1.7zM59.5 52.7h1.7v1.7h-1.7zM25.5 54.4h1.7v1.7h-1.7zM42.5 54.4h1.7v1.7h-1.7zM52.7 54.4h1.7v1.7h-1.7zM54.4 54.4h1.7v1.7h-1.7zM1.7 56.1h1.7v1.7h-1.7zM5.1 56.1h1.7v1.7h-1.7zM15.3 56.1h1.7v1.7h-1.7zM49.3 56.1h1.7v1.7h-1.7zM57.8 56.1h1.7v1.7h-1.7zM0.0 57.8h1.7v1.7h-1.7zM28.9 57.8h1.7v1.7h-1.7zM30.6 57.8h1.7v1.7h-1.7zM32.3 57.8h1.7v1.7h-1.7zM34.0 57.8h1.7v1.7h-1.7zM20.4 59.5h1.7v1.7h-1.7zM28.9 59.5h1.7v1.7h-1.7zM32.3 59.5h1.7v1.7h-1.7zM39.1 59.5h1.7v1.7h-1.7zM52.7 59.5h1.7v1.7h-1.7z" fill="#393939"/>
<path d="M20.4 0.0h1.7v1.7h-1.7zM35.7 0.0h1.7v1.7h-1.7zM54.4 0.0h1.7v1.7h-1.7zM3.4 1.7h1.7v1.7h-1.7zM28.9 1.7h1.7v1.7h-1.7zM47.6 1.7h1.7v1.7h-1.7zM1.7 3.4h1.7v1.7h-1.7zM30.6 3.4h1.7v1.7h-1.7zM51.0 3.4h1.7v1.7h-1.7zM56.1 3.4h1.7v1.7h-1.7zM57.8 3.4h1.7v1.7h-1.7zM37.4 5.1h1.7v1.7h-1.7zM51.0 5.1h1.7v1.7h-1.7zM0.0 6.8h1.7v1.7h-1.7zM6.8 6.8h1.7v1.7h-1.7zM10.2 6.8h1.7v1.7h-1.7zM20.4 6.8h1.7v1.7h-1.7zM23.8 6.8h1.7v1.7h-1.7zM25.5 6.8h1.7v1.7h-1.7zM37.4 6.8h1.7v1.7h-1.7zM40.8 6.8h1.7v1.7h-1.7zM47.6 6.8h1.7v1.7h-1.7zM52.7 6.8h1.7v1.7h-1.7zM11.9 8.5h1.7v1.7h-1.7zM18.7 8.5h1.7v1.7h-1.7zM23.8 8.5h1.7v1.7h-1.7zM40.8 8.5h1.7v1.7h-1.7zM54.4 8.5h1.7v1.7h-1.7zM57.8 8.5h1.7v1.7h-1.7zM59.5 8.5h1.7v1.7h-1.7zM20.4 10.2h1.7v1.7h-1.7zM28.9 10.2h1.7v1.7h-1.7zM37.4 10.2h1.7v1.7h-1.7zM39.1 10.2h1.7v1.7h-1.7zM42.5 10.2h1.7v1.7h-1.7zM44.2 10.2h1.7v1.7h-1.7zM45.9 10.2h1.7v1.7h-1.7zM0.0 11.9h1.7v1.7h-1.7zM13.6 11.9h1.7v1.7h-1.7zM20.4 11.9h1.7v1.7h-1.7zM34.0 11.9h1.7v1.7h-1.7zM49.3 11.9h1.7v1.7h-1.7zM57.8 11.9h1.7v1.7h-1.7zM59.5 11.9h1.7v1.7h-1.7zM0.0 13.6h1.7v1.7h-1.7zM1.7 13.6h1.7v1.7h-1.7zM8.5 13.6h1.7v1.7h-1.7zM10.2 13.6h1.7v1.7h-1.7zM17.0 13.6h1.7v1.7h-1.7zM32.3 13.6h1.7v1.7h-1.7zM47.6 13.6h1.7v1.7h-1.7zM1.7 15.3h1.7v1.7h-1.7zM13.6 15.3h1.7v1.7h-1.7zM42.5 15.3h1.7v1.7h-1.7zM51.0 15.3h1.7v1.7h-1.7zM11.9 17.0h1.7v1.7h-1.7zM17.0 17.0h1.7v1.7h-1.7zM20.4 17.0h1.7v1.7h-1.7zM22.1 17.0h1.7v1.7h-1.7zM56.1 17.0h1.7v1.7h-1.7zM6.8 18.7h1.7v1.7h-1.7zM11.9 18.7h1.7v1.7h-1.7zM13.6 18.7h1.7v1.7h-1.7zM37.4 18.7h1.7v1.7h-1.7zM39.1 18.7h1.7v1.7h-1.7zM44.2 18.7h1.7v1.7h-1.7zM45.9 18.7h1.7v1.7h-1.7zM56.1 18.7h1.7v1.7h-1.7zM59.5 18.7h1.7v1.7h-1.7zM0.0 20.4h1.7v1.7h-1.7zM1.7 20.4h1.7v1.7h-1.7zM5.1 20.4h1.7v1.7h-1.7zM15.3 20.4h1.7v1.7h-1.7zM23.8 20.4h1.7v1.7h-1.7zM25.5 20.4h1.7v1.7h-1.7zM34.0 20.4h1.7v1.7h-1.7zM11.9 22.1h1.7v1.7h-1.7zM27.2 22.1h1.7v1.7h-1.7zM37.4 22.1h1.7v1.7h-1.7zM40.8 22.1h1.7v1.7h-1.7zM42.5 22.1h1.7v1.7h-1.7zM56.1 22.1h1.7v1.7h-1.7zM57.8 22.1h1.7v1.7h-1.7zM5.1 23.8h1.7v1.7h-1.7zM30.6 23.8h1.7v1.7h-1.7zM42.5 23.8h1.7v1.7h-1.7zM54.4 23.8h1.7v1.7h-1.7zM5.1 25.5h1.7v1.7h-1.7zM15.3 25.5h1.7v1.7h-1.7zM40.8 25.5h1.7v1.7h-1.7zM49.3 25.5h1.7v1.7h-1.7zM37.4 27.2h1.7v1.7h-1.7zM45.9 27.2h1.7v1.7h-1.7zM51.0 27.2h1.7v1.7h-1.7zM56.1 27.2h1.7v1.7h-1.7zM59.5 27.2h1.7v1.7h-1.7zM6.8 28.9h1.7v1.7h-1.7zM22.1 28.9h1.7v1.7h-1.7zM40.8 28.9h1.7v1.7h-1.7zM45.9 28.9h1.7v1.7h-1.7zM56.1 28.9h1.7v1.7h-1.7zM1.7 30.6h1.7v1.7h-1.7zM15.3 30.6h1.7v1.7h-1.7zM17.0 30.6h1.7v1.7h-1.7zM57.8 30.6h1.7v1.7h-1.7zM1.7 32.3h1.7v1.7h-1.7zM11.9 32.3h1.7v1.7h-1.7zM15.3 32.3h1.7v1.7h-1.7zM30.6 32.3h1.7v1.7h-1.7zM59.5 32.3h1.7v1.7h-1.7zM8.5 34.0h1.7v1.7h-1.7zM25.5 34.0h1.7v1.7h-1.7zM35.7 34.0h1.7v1.7h-1.7zM37.4 34.0h1.7v1.7h-1.7zM1.7 35.7h1.7v1.7h-1.7zM3.4 35.7h1.7v1.7h-1.7zM13.6 35.7h1.7v1.7h-1.7zM25.5 35.7h1.7v1.7h-1.7zM0.0 37.4h1.7v1.7h-1.7zM3.4 37.4h1.7v1.7h-1.7zM10.2 37.4h1.7v1.7h-1.7zM17.0 37.4h1.7v1.7h-1.7zM34.0 37.4h1.7v1.7h-1.7zM40.8 37.4h1.7v1.7h-1.7zM56.1 37.4h1.7v1.7h-1.7zM25.5 39.1h1.7v1.7h-1.7zM30.6 39.1h1.7v1.7h-1.7zM40.8 39.1h1.7v1.7h-1.7zM1.7 40.8h1.7v1.7h-1.7zM34.0 40.8h1.7v1.7h-1.7zM37.4 40.8h1.7v1.7h-1.7zM30.6 42.5h1.7v1.7h-1.7zM32.3 42.5h1.7v1.7h-1.7zM34.0 42.5h1.7v1.7h-1.7zM57.8 42.5h1.7v1.7h-1.7zM1.7 44.2h1.7v1.7h-1.7zM20.4 44.2h1.7v1.7h-1.7zM28.9 44.2h1.7v1.7h-1.7zM40.8 44.2h1.7v1.7h-1.7zM49.3 44.2h1.7v1.7h-1.7zM15.3 45.9h1.7v1.7h-1.7zM20.4 45.9h1.7v1.7h-1.7zM28.9 45.9h1.7v1.7h-1.7zM45.9 45.9h1.7v1.7h-1.7zM15.3 47.6h1.7v1.7h-1.7zM25.5 47.6h1.7v1.7h-1.7zM35.7 47.6h1.7v1.7h-1.7zM1.7 49.3h1.7v1.7h-1.7zM5.1 49.3h1.7v1.7h-1.7zM15.3 49.3h1.7v1.7h-1.7zM18.7 49.3h1.7v1.7h-1.7zM34.0 49.3h1.7v1.7h-1.7zM35.7 49.3h1.7v1.7h-1.7zM42.5 49.3h1.7v1.7h-1.7zM49.3 49.3h1.7v1.7h-1.7zM54.4 49.3h1.7v1.7h-1.7zM59.5 49.3h1.7v1.7h-1.7zM0.0 51.0h1.7v1.7h-1.7zM8.5 51.0h1.7v1.7h-1.7zM18.7 51.0h1.7v1.7h-1.7zM22.1 51.0h1.7v1.7h-1.7zM30.6 51.0h1.7v1.7h-1.7zM39.1 51.0h1.7v1.7h-1.7zM54.4 51.0h1.7v1.7h-1.7zM59.5 51.0h1.7v1.7h-1.7zM0.0 52.7h1.7v1.7h-1.7zM6.8 52.7h1.7v1.7h-1.7zM15.3 52.7h1.7v1.7h-1.7zM27.2 52.7h1.7v1.7h-1.7zM17.0 54.4h1.7v1.7h-1.7zM20.4 54.4h1.7v1.7h-1.7zM22.1 54.4h1.7v1.7h-1.7zM34.0 54.4h1.7v1.7h-1.7zM40.8 54.4h1.7v1.7h-1.7zM59.5 54.4h1.7v1.7h-1.7zM20.4 56.1h1.7v1.7h-1.7zM35.7 56.1h1.7v1.7h-1.7zM44.2 56.1h1.7v1.7h-1.7zM45.9 56.1h1.7v1.7h-1.7zM51.0 56.1h1.7v1.7h-1.7zM56.1 56.1h1.7v1.7h-1.7zM59.5 56.1h1.7v1.7h-1.7zM17.0 57.8h1.7v1.7h-1.7zM22.1 57.8h1.7v1.7h-1.7zM35.7 57.8h1.7v1.7h-1.7zM39.1 57.8h1.7v1.7h-1.7zM8.5 59.5h1.7v1.7h-1.7zM11.9 59.5h1.7v1.7h-1.7zM13.6 59.5h1.7v1.7h-1.7zM23.8 59.5h1.7v1.7h-1.7zM27.2 59.5h1.7v1.7h-1.7zM35.7 59.5h1.7v1.7h-1.7zM37.4 59.5h1.7v1.7h-1.7zM42.5 59.5h1.7v1.7h-1.7zM44.2 59.5h1.7v1.7h-1.7zM51.0 59.5h1.7v1.7h-1.7zM59.5 59.5h1.7v1.7h-1.7z" fill="#555555"/>
<path d="M6.8 0.0h1.7v1.7h-1.7zM15.3 0.0h1.7v1.7h-1.7zM18.7 0.0h1.7v1.7h-1.7zM25.5 0.0h1.7v1.7h-1.7zM30.6 0.0h1.7v1.7h-1.7zM39.1 0.0h1.7v1.7h-1.7zM40.8 0.0h1.7v1.7h-1.7zM42.5 0.0h1.7v1.7h-1.7zM52.7 0.0h1.7v1.7h-1.7zM59.5 0.0h1.7v1.7h-1.7zM8.5 1.7h1.7v1.7h-1.7zM10.2 1.7h1.7v1.7h-1.7zM17.0 1.7h1.7v1.7h-1.7zM23.8 1.7h1.7v1.7h-1.7zM30.6 1.7h1.7v1.7h-1.7zM34.0 1.7h1.7v1.7h-1.7zM35.7 1.7h1.7v1.7h-1.7zM39.1 1.7h1.7v1.7h-1.7zM3.4 3.4h1.7v1.7h-1.7zM8.5 3.4h1.7v1.7h-1.7zM32.3 3.4h1.7v1.7h-1.7zM34.0 3.4h1.7v1.7h-1.7zM49.3 3.4h1.7v1.7h-1.7zM8.5 5.1h1.7v1.7h-1.7zM10.2 5.1h1.7v1.7h-1.7zM23.8 5.1h1.7v1.7h-1.7zM32.3 5.1h1.7v1.7h-1.7zM40.8 5.1h1.7v1.7h-1.7zM49.3 5.1h1.7v1.7h-1.7zM13.6 6.8h1.7v1.7h-1.7zM44.2 6.8h1.7v1.7h-1.7zM56.1 6.8h1.7v1.7h-1.7zM59.5 6.8h1.7v1.7h-1.7zM5.1 8.5h1.7v1.7h-1.7zM6.8 8.5h1.7v1.7h-1.7zM10.2 8.5h1.7v1.7h-1.7zM17.0 8.5h1.7v1.7h-1.7zM37.4 8.5h1.7v1.7h-1.7zM39.1 8.5h1.7v1.7h-1.7zM47.6 8.5h1.7v1.7h-1.7zM6.8 10.2h1.7v1.7h-1.7zM13.6 10.2h1.7v1.7h-1.7zM17.0 10.2h1.7v1.7h-1.7zM18.7 10.2h1.7v1.7h-1.7zM22.1 10.2h1.7v1.7h-1.7zM34.0 10.2h1.7v1.7h-1.7zM49.3 10.2h1.7v1.7h-1.7zM54.4 10.2h1.7v1.7h-1.7zM56.1 10.2h1.7v1.7h-1.7zM8.5 11.9h1.7v1.7h-1.7zM11.9 11.9h1.7v1.7h-1.7zM15.3 11.9h1.7v1.7h-1.7zM18.7 11.9h1.7v1.7h-1.7zM25.5 11.9h1.7v1.7h-1.7zM27.2 11.9h1.7v1.7h-1.7zM44.2 11.9h1.7v1.7h-1.7zM51.0 11.9h1.7v1.7h-1.7zM56.1 11.9h1.7v1.7h-1.7zM3.4 13.6h1.7v1.7h-1.7zM5.1 13.6h1.7v1.7h-1.7zM11.9 13.6h1.7v1.7h-1.7zM13.6 13.6h1.7v1.7h-1.7zM20.4 13.6h1.7v1.7h-1.7zM40.8 13.6h1.7v1.7h-1.7zM52.7 13.6h1.7v1.7h-1.7zM54.4 13.6h1.7v1.7h-1.7zM0.0 15.3h1.7v1.7h-1.7zM3.4 15.3h1.7v1.7h-1.7zM8.5 15.3h1.7v1.7h-1.7zM22.1 15.3h1.7v1.7h-1.7zM35.7 15.3h1.7v1.7h-1.7zM37.4 15.3h1.7v1.7h-1.7zM39.1 15.3h1.7v1.7h-1.7zM47.6 15.3h1.7v1.7h-1.7zM49.3 15.3h1.7v1.7h-1.7zM57.8 15.3h1.7v1.7h-1.7zM0.0 17.0h1.7v1.7h-1.7zM1.7 17.0h1.7v1.7h-1.7zM15.3 17.0h1.7v1.7h-1.7zM25.5 17.0h1.7v1.7h-1.7zM35.7 17.0h1.7v1.7h-1.7zM39.1 17.0h1.7v1.7h-1.7zM40.8 17.0h1.7v1.7h-1.7zM44.2 17.0h1.7v1.7h-1.7zM47.6 17.0h1.7v1.7h-1.7zM49.3 17.0h1.7v1.7h-1.7zM54.4 17.0h1.7v1.7h-1.7zM57.8 17.0h1.7v1.7h-1.7zM8.5 18.7h1.7v1.7h-1.7zM25.5 18.7h1.7v1.7h-1.7zM32.3 18.7h1.7v1.7h-1.7zM35.7 18.7h1.7v1.7h-1.7zM47.6 18.7h1.7v1.7h-1.7zM3.4 20.4h1.7v1.7h-1.7zM18.7 20.4h1.7v1.7h-1.7zM27.2 20.4h1.7v1.7h-1.7zM39.1 20.4h1.7v1.7h-1.7zM40.8 20.4h1.7v1.7h-1.7zM57.8 20.4h1.7v1.7h-1.7zM6.8 22.1h1.7v1.7h-1.7zM10.2 22.1h1.7v1.7h-1.7zM23.8 22.1h1.7v1.7h-1.7zM30.6 22.1h1.7v1.7h-1.7zM45.9 22.1h1.7v1.7h-1.7zM51.0 22.1h1.7v1.7h-1.7zM59.5 22.1h1.7v1.7h-1.7zM8.5 23.8h1.7v1.7h-1.7zM13.6 23.8h1.7v1.7h-1.7zM17.0 23.8h1.7v1.7h-1.7zM20.4 23.8h1.7v1.7h-1.7zM45.9 23.8h1.7v1.7h-1.7zM57.8 23.8h1.7v1.7h-1.7zM0.0 25.5h1.7v1.7h-1.7zM30.6 25.5h1.7v1.7h-1.7zM32.3 25.5h1.7v1.7h-1.7zM37.4 25.5h1.7v1.7h-1.7zM0.0 27.2h1.7v1.7h-1.7zM3.4 27.2h1.7v1.7h-1.7zM6.8 27.2h1.7v1.7h-1.7zM13.6 27.2h1.7v1.7h-1.7zM17.0 27.2h1.7v1.7h-1.7zM34.0 27.2h1.7v1.7h-1.7zM35.7 27.2h1.7v1.7h-1.7zM40.8 27.2h1.7v1.7h-1.7zM47.6 27.2h1.7v1.7h-1.7zM49.3 27.2h1.7v1.7h-1.7zM52.7 27.2h1.7v1.7h-1.7zM54.4 27.2h1.7v1.7h-1.7zM5.1 28.9h1.7v1.7h-1.7zM15.3 28.9h1.7v1.7h-1.7zM17.0 28.9h1.7v1.7h-1.7zM18.7 28.9h1.7v1.7h-1.7zM34.0 28.9h1.7v1.7h-1.7zM37.4 28.9h1.7v1.7h-1.7zM42.5 28.9h1.7v1.7h-1.7zM47.6 28.9h1.7v1.7h-1.7zM52.7 28.9h1.7v1.7h-1.7zM57.8 28.9h1.7v1.7h-1.7zM11.9 30.6h1.7v1.7h-1.7zM23.8 30.6h1.7v1.7h-1.7zM28.9 30.6h1.7v1.7h-1.7zM34.0 30.6h1.7v1.7h-1.7zM37.4 30.6h1.7v1.7h-1.7zM51.0 30.6h1.7v1.7h-1.7zM56.1 30.6h1.7v1.7h-1.7zM0.0 32.3h1.7v1.7h-1.7zM3.4 32.3h1.7v1.7h-1.7zM13.6 32.3h1.7v1.7h-1.7zM18.7 32.3h1.7v1.7h-1.7zM20.4 32.3h1.7v1.7h-1.7zM22.1 32.3h1.7v1.7h-1.7zM28.9 32.3h1.7v1.7h-1.7zM34.0 32.3h1.7v1.7h-1.7zM42.5 32.3h1.7v1.7h-1.7zM45.9 32.3h1.7v1.7h-1.7zM47.6 32.3h1.7v1.7h-1.7zM51.0 32.3h1.7v1.7h-1.7zM0.0 34.0h1.7v1.7h-1.7zM3.4 34.0h1.7v1.7h-1.7zM6.8 34.0h1.7v1.7h-1.7zM11.9 34.0h1.7v1.7h-1.7zM13.6 34.0h1.7v1.7h-1.7zM34.0 34.0h1.7v1.7h-1.7zM42.5 34.0h1.7v1.7h-1.7zM44.2 34.0h1.7v1.7h-1.7zM49.3 34.0h1.7v1.7h-1.7zM56.1 34.0h1.7v1.7h-1.7zM40.8 35.7h1.7v1.7h-1.7zM11.9 37.4h1.7v1.7h-1.7zM25.5 37.4h1.7v1.7h-1.7zM30.6 37.4h1.7v1.7h-1.7zM37.4 37.4h1.7v1.7h-1.7zM51.0 37.4h1.7v1.7h-1.7zM11.9 39.1h1.7v1.7h-1.7zM22.1 39.1h1.7v1.7h-1.7zM34.0 39.1h1.7v1.7h-1.7zM35.7 39.1h1.7v1.7h-1.7zM49.3 39.1h1.7v1.7h-1.7zM51.0 39.1h1.7v1.7h-1.7zM52.7 39.1h1.7v1.7h-1.7zM3.4 40.8h1.7v1.7h-1.7zM5.1 40.8h1.7v1.7h-1.7zM32.3 40.8h1.7v1.7h-1.7zM40.8 40.8h1.7v1.7h-1.7zM42.5 40.8h1.7v1.7h-1.7zM0.0 42.5h1.7v1.7h-1.7zM1.7 42.5h1.7v1.7h-1.7zM8.5 42.5h1.7v1.7h-1.7zM13.6 42.5h1.7v1.7h-1.7zM25.5 42.5h1.7v1.7h-1.7zM44.2 42.5h1.7v1.7h-1.7zM47.6 42.5h1.7v1.7h-1.7zM49.3 42.5h1.7v1.7h-1.7zM10.2 44.2h1.7v1.7h-1.7zM13.6 44.2h1.7v1.7h-1.7zM23.8 44.2h1.7v1.7h-1.7zM30.6 44.2h1.7v1.7h-1.7zM35.7 44.2h1.7v1.7h-1.7zM42.5 44.2h1.7v1.7h-1.7zM45.9 44.2h1.7v1.7h-1.7zM3.4 45.9h1.7v1.7h-1.7zM8.5 45.9h1.7v1.7h-1.7zM10.2 45.9h1.7v1.7h-1.7zM13.6 45.9h1.7v1.7h-1.7zM32.3 45.9h1.7v1.7h-1.7zM37.4 45.9h1.7v1.7h-1.7zM49.3 45.9h1.7v1.7h-1.7zM51.0 45.9h1.7v1.7h-1.7zM52.7 45.9h1.7v1.7h-1.7zM54.4 45.9h1.7v1.7h-1.7zM57.8 45.9h1.7v1.7h-1.7zM59.5 45.9h1.7v1.7h-1.7zM1.7 47.6h1.7v1.7h-1.7zM22.1 47.6h1.7v1.7h-1.7zM27.2 47.6h1.7v1.7h-1.7zM40.8 47.6h1.7v1.7h-1.7zM47.6 47.6h1.7v1.7h-1.7zM54.4 47.6h1.7v1.7h-1.7zM56.1 47.6h1.7v1.7h-1.7zM0.0 49.3h1.7v1.7h-1.7zM17.0 49.3h1.7v1.7h-1.7zM23.8 49.3h1.7v1.7h-1.7zM27.2 49.3h1.7v1.7h-1.7zM32.3 49.3h1.7v1.7h-1.7zM39.1 49.3h1.7v1.7h-1.7zM57.8 49.3h1.7v1.7h-1.7zM6.8 51.0h1.7v1.7h-1.7zM11.9 51.0h1.7v1.7h-1.7zM13.6 51.0h1.7v1.7h-1.7zM32.3 51.0h1.7v1.7h-1.7zM40.8 51.0h1.7v1.7h-1.7zM45.9 51.0h1.7v1.7h-1.7zM47.6 51.0h1.7v1.7h-1.7zM49.3 51.0h1.7v1.7h-1.7zM52.7 51.0h1.7v1.7h-1.7zM5.1 52.7h1.7v1.7h-1.7zM11.9 52.7h1.7v1.7h-1.7zM22.1 52.7h1.7v1.7h-1.7zM28.9 52.7h1.7v1.7h-1.7zM30.6 52.7h1.7v1.7h-1.7zM34.0 52.7h1.7v1.7h-1.7zM44.2 52.7h1.7v1.7h-1.7zM6.8 54.4h1.7v1.7h-1.7zM27.2 54.4h1.7v1.7h-1.7zM32.3 54.4h1.7v1.7h-1.7zM39.1 54.4h1.7v1.7h-1.7zM45.9 54.4h1.7v1.7h-1.7zM49.3 54.4h1.7v1.7h-1.7zM57.8 54.4h1.7v1.7h-1.7zM0.0 56.1h1.7v1.7h-1.7zM3.4 56.1h1.7v1.7h-1.7zM8.5 56.1h1.7v1.7h-1.7zM10.2 56.1h1.7v1.7h-1.7zM18.7 56.1h1.7v1.7h-1.7zM22.1 56.1h1.7v1.7h-1.7zM28.9 56.1h1.7v1.7h-1.7zM34.0 56.1h1.7v1.7h-1.7zM37.4 56.1h1.7v1.7h-1.7zM39.1 56.1h1.7v1.7h-1.7zM40.8 56.1h1.7v1.7h-1.7zM47.6 56.1h1.7v1.7h-1.7zM54.4 56.1h1.7v1.7h-1.7zM8.5 57.8h1.7v1.7h-1.7zM15.3 57.8h1.7v1.7h-1.7zM23.8 57.8h1.7v1.7h-1.7zM25.5 57.8h1.7v1.7h-1.7zM45.9 57.8h1.7v1.7h-1.7zM0.0 59.5h1.7v1.7h-1.7zM3.4 59.5h1.7v1.7h-1.7zM10.2 59.5h1.7v1.7h-1.7zM17.0 59.5h1.7v1.7h-1.7zM47.6 59.5h1.7v1.7h-1.7z" fill="#717171"/>
<path d="M11.9 0.0h1.7v1.7h-1.7zM17.0 0.0h1.7v1.7h-1.7zM22.1 0.0h1.7v1.7h-1.7zM28.9 0.0h1.7v1.7h-1.7zM34.0 0.0h1.7v1.7h-1.7zM37.4 0.0h1.7v1.7h-1.7zM45.9 0.0h1.7v1.7h-1.7zM47.6 0.0h1.7v1.7h-1.7zM11.9 1.7h1.7v1.7h-1.7zM13.6 1.7h1.7v1.7h-1.7zM15.3 1.7h1.7v1.7h-1.7zM22.1 1.7h1.7v1.7h-1.7zM27.2 1.7h1.7v1.7h-1.7zM37.4 1.7h1.7v1.7h-1.7zM40.8 1.7h1.7v1.7h-1.7zM45.9 1.7h1.7v1.7h-1.7zM51.0 1.7h1.7v1.7h-1.7zM52.7 1.7h1.7v1.7h-1.7zM57.8 1.7h1.7v1.7h-1.7zM18.7 3.4h1.7v1.7h-1.7zM22.1 3.4h1.7v1.7h-1.7zM37.4 3.4h1.7v1.7h-1.7zM39.1 3.4h1.7v1.7h-1.7zM44.2 3.4h1.7v1.7h-1.7zM45.9 3.4h1.7v1.7h-1.7zM52.7 3.4h1.7v1.7h-1.7zM59.5 3.4h1.7v1.7h-1.7zM5.1 5.1h1.7v1.7h-1.7zM6.8 5.1h1.7v1.7h-1.7zM28.9 5.1h1.7v1.7h-1.7zM35.7 5.1h1.7v1.7h-1.7zM39.1 5.1h1.7v1.7h-1.7zM42.5 5.1h1.7v1.7h-1.7zM52.7 5.1h1.7v1.7h-1.7zM56.1 5.1h1.7v1.7h-1.7zM57.8 5.1h1.7v1.7h-1.7zM3.4 6.8h1.7v1.7h-1.7zM17.0 6.8h1.7v1.7h-1.7zM28.9 6.8h1.7v1.7h-1.7zM30.6 6.8h1.7v1.7h-1.7zM35.7 6.8h1.7v1.7h-1.7zM13.6 8.5h1.7v1.7h-1.7zM28.9 8.5h1.7v1.7h-1.7zM32.3 8.5h1.7v1.7h-1.7zM34.0 8.5h1.7v1.7h-1.7zM42.5 8.5h1.7v1.7h-1.7zM44.2 8.5h1.7v1.7h-1.7zM45.9 8.5h1.7v1.7h-1.7zM51.0 8.5h1.7v1.7h-1.7zM52.7 8.5h1.7v1.7h-1.7zM56.1 8.5h1.7v1.7h-1.7zM0.0 10.2h1.7v1.7h-1.7zM5.1 10.2h1.7v1.7h-1.7zM15.3 10.2h1.7v1.7h-1.7zM27.2 10.2h1.7v1.7h-1.7zM30.6 10.2h1.7v1.7h-1.7zM35.7 10.2h1.7v1.7h-1.7zM47.6 10.2h1.7v1.7h-1.7zM3.4 11.9h1.7v1.7h-1.7zM22.1 11.9h1.7v1.7h-1.7zM35.7 11.9h1.7v1.7h-1.7zM37.4 11.9h1.7v1.7h-1.7zM42.5 11.9h1.7v1.7h-1.7zM47.6 11.9h1.7v1.7h-1.7zM6.8 13.6h1.7v1.7h-1.7zM18.7 13.6h1.7v1.7h-1.7zM25.5 13.6h1.7v1.7h-1.7zM35.7 13.6h1.7v1.7h-1.7zM45.9 13.6h1.7v1.7h-1.7zM51.0 13.6h1.7v1.7h-1.7zM6.8 15.3h1.7v1.7h-1.7zM11.9 15.3h1.7v1.7h-1.7zM15.3 15.3h1.7v1.7h-1.7zM20.4 15.3h1.7v1.7h-1.7zM23.8 15.3h1.7v1.7h-1.7zM27.2 15.3h1.7v1.7h-1.7zM32.3 15.3h1.7v1.7h-1.7zM40.8 15.3h1.7v1.7h-1.7zM59.5 15.3h1.7v1.7h-1.7zM6.8 17.0h1.7v1.7h-1.7zM8.5 17.0h1.7v1.7h-1.7zM13.6 17.0h1.7v1.7h-1.7zM18.7 17.0h1.7v1.7h-1.7zM28.9 17.0h1.7v1.7h-1.7zM51.0 17.0h1.7v1.7h-1.7zM3.4 18.7h1.7v1.7h-1.7zM5.1 18.7h1.7v1.7h-1.7zM18.7 18.7h1.7v1.7h-1.7zM20.4 18.7h1.7v1.7h-1.7zM22.1 18.7h1.7v1.7h-1.7zM27.2 18.7h1.7v1.7h-1.7zM28.9 18.7h1.7v1.7h-1.7zM34.0 18.7h1.7v1.7h-1.7zM40.8 18.7h1.7v1.7h-1.7zM49.3 18.7h1.7v1.7h-1.7zM54.4 18.7h1.7v1.7h-1.7zM6.8 20.4h1.7v1.7h-1.7zM8.5 20.4h1.7v1.7h-1.7zM10.2 20.4h1.7v1.7h-1.7zM11.9 20.4h1.7v1.7h-1.7zM17.0 20.4h1.7v1.7h-1.7zM22.1 20.4h1.7v1.7h-1.7zM28.9 20.4h1.7v1.7h-1.7zM30.6 20.4h1.7v1.7h-1.7zM32.3 20.4h1.7v1.7h-1.7zM37.4 20.4h1.7v1.7h-1.7zM44.2 20.4h1.7v1.7h-1.7zM47.6 20.4h1.7v1.7h-1.7zM52.7 20.4h1.7v1.7h-1.7zM1.7 22.1h1.7v1.7h-1.7zM13.6 22.1h1.7v1.7h-1.7zM15.3 22.1h1.7v1.7h-1.7zM17.0 22.1h1.7v1.7h-1.7zM18.7 22.1h1.7v1.7h-1.7zM28.9 22.1h1.7v1.7h-1.7zM34.0 22.1h1.7v1.7h-1.7zM44.2 22.1h1.7v1.7h-1.7zM52.7 22.1h1.7v1.7h-1.7zM0.0 23.8h1.7v1.7h-1.7zM1.7 23.8h1.7v1.7h-1.7zM6.8 23.8h1.7v1.7h-1.7zM10.2 23.8h1.7v1.7h-1.7zM11.9 23.8h1.7v1.7h-1.7zM15.3 23.8h1.7v1.7h-1.7zM22.1 23.8h1.7v1.7h-1.7zM27.2 23.8h1.7v1.7h-1.7zM35.7 23.8h1.7v1.7h-1.7zM44.2 23.8h1.7v1.7h-1.7zM49.3 23.8h1.7v1.7h-1.7zM52.7 23.8h1.7v1.7h-1.7zM3.4 25.5h1.7v1.7h-1.7zM13.6 25.5h1.7v1.7h-1.7zM17.0 25.5h1.7v1.7h-1.7zM18.7 25.5h1.7v1.7h-1.7zM20.4 25.5h1.7v1.7h-1.7zM22.1 25.5h1.7v1.7h-1.7zM27.2 25.5h1.7v1.7h-1.7zM28.9 25.5h1.7v1.7h-1.7zM34.0 25.5h1.7v1.7h-1.7zM39.1 25.5h1.7v1.7h-1.7zM42.5 25.5h1.7v1.7h-1.7zM44.2 25.5h1.7v1.7h-1.7zM51.0 25.5h1.7v1.7h-1.7zM8.5 27.2h1.7v1.7h-1.7zM11.9 27.2h1.7v1.7h-1.7zM18.7 27.2h1.7v1.7h-1.7zM20.4 27.2h1.7v1.7h-1.7zM23.8 27.2h1.7v1.7h-1.7zM25.5 27.2h1.7v1.7h-1.7zM39.1 27.2h1.7v1.7h-1.7zM42.5 27.2h1.7v1.7h-1.7zM8.5 28.9h1.7v1.7h-1.7zM10.2 28.9h1.7v1.7h-1.7zM20.4 28.9h1.7v1.7h-1.7zM28.9 28.9h1.7v1.7h-1.7zM32.3 28.9h1.7v1.7h-1.7zM35.7 28.9h1.7v1.7h-1.7zM44.2 28.9h1.7v1.7h-1.7zM59.5 28.9h1.7v1.7h-1.7zM5.1 30.6h1.7v1.7h-1.7zM10.2 30.6h1.7v1.7h-1.7zM13.6 30.6h1.7v1.7h-1.7zM25.5 30.6h1.7v1.7h-1.7zM30.6 30.6h1.7v1.7h-1.7zM35.7 30.6h1.7v1.7h-1.7zM42.5 30.6h1.7v1.7h-1.7zM5.1 32.3h1.7v1.7h-1.7zM8.5 32.3h1.7v1.7h-1.7zM23.8 32.3h1.7v1.7h-1.7zM37.4 32.3h1.7v1.7h-1.7zM49.3 32.3h1.7v1.7h-1.7zM52.7 32.3h1.7v1.7h-1.7zM1.7 34.0h1.7v1.7h-1.7zM10.2 34.0h1.7v1.7h-1.7zM23.8 34.0h1.7v1.7h-1.7zM28.9 34.0h1.7v1.7h-1.7zM39.1 34.0h1.7v1.7h-1.7zM51.0 34.0h1.7v1.7h-1.7zM52.7 34.0h1.7v1.7h-1.7zM57.8 34.0h1.7v1.7h-1.7zM8.5 35.7h1.7v1.7h-1.7zM20.4 35.7h1.7v1.7h-1.7zM27.2 35.7h1.7v1.7h-1.7zM28.9 35.7h1.7v1.7h-1.7zM30.6 35.7h1.7v1.7h-1.7zM32.3 35.7h1.7v1.7h-1.7zM44.2 35.7h1.7v1.7h-1.7zM54.4 35.7h1.7v1.7h-1.7zM56.1 35.7h1.7v1.7h-1.7zM59.5 35.7h1.7v1.7h-1.7zM8.5 37.4h1.7v1.7h-1.7zM22.1 37.4h1.7v1.7h-1.7zM23.8 37.4h1.7v1.7h-1.7zM27.2 37.4h1.7v1.7h-1.7zM32.3 37.4h1.7v1.7h-1.7zM35.7 37.4h1.7v1.7h-1.7zM45.9 37.4h1.7v1.7h-1.7zM47.6 37.4h1.7v1.7h-1.7zM59.5 37.4h1.7v1.7h-1.7zM0.0 39.1h1.7v1.7h-1.7zM5.1 39.1h1.7v1.7h-1.7zM18.7 39.1h1.7v1.7h-1.7zM20.4 39.1h1.7v1.7h-1.7zM23.8 39.1h1.7v1.7h-1.7zM28.9 39.1h1.7v1.7h-1.7zM32.3 39.1h1.7v1.7h-1.7zM37.4 39.1h1.7v1.7h-1.7zM42.5 39.1h1.7v1.7h-1.7zM45.9 39.1h1.7v1.7h-1.7zM59.5 39.1h1.7v1.7h-1.7zM8.5 40.8h1.7v1.7h-1.7zM20.4 40.8h1.7v1.7h-1.7zM35.7 40.8h1.7v1.7h-1.7zM39.1 40.8h1.7v1.7h-1.7zM44.2 40.8h1.7v1.7h-1.7zM49.3 40.8h1.7v1.7h-1.7zM54.4 40.8h1.7v1.7h-1.7zM56.1 40.8h1.7v1.7h-1.7zM3.4 42.5h1.7v1.7h-1.7zM6.8 42.5h1.7v1.7h-1.7zM10.2 42.5h1.7v1.7h-1.7zM27.2 42.5h1.7v1.7h-1.7zM28.9 42.5h1.7v1.7h-1.7zM40.8 42.5h1.7v1.7h-1.7zM52.7 42.5h1.7v1.7h-1.7zM56.1 42.5h1.7v1.7h-1.7zM5.1 44.2h1.7v1.7h-1.7zM8.5 44.2h1.7v1.7h-1.7zM11.9 44.2h1.7v1.7h-1.7zM34.0 44.2h1.7v1.7h-1.7zM39.1 44.2h1.7v1.7h-1.7zM56.1 44.2h1.7v1.7h-1.7zM57.8 44.2h1.7v1.7h-1.7zM0.0 45.9h1.7v1.7h-1.7zM1.7 45.9h1.7v1.7h-1.7zM5.1 45.9h1.7v1.7h-1.7zM23.8 45.9h1.7v1.7h-1.7zM30.6 45.9h1.7v1.7h-1.7zM34.0 45.9h1.7v1.7h-1.7zM35.7 45.9h1.7v1.7h-1.7zM40.8 45.9h1.7v1.7h-1.7zM42.5 45.9h1.7v1.7h-1.7zM44.2 45.9h1.7v1.7h-1.7zM47.6 45.9h1.7v1.7h-1.7zM0.0 47.6h1.7v1.7h-1.7zM6.8 47.6h1.7v1.7h-1.7zM8.5 47.6h1.7v1.7h-1.7zM11.9 47.6h1.7v1.7h-1.7zM20.4 47.6h1.7v1.7h-1.7zM23.8 47.6h1.7v1.7h-1.7zM28.9 47.6h1.7v1.7h-1.7zM30.6 47.6h1.7v1.7h-1.7zM37.4 47.6h1.7v1.7h-1.7zM44.2 47.6h1.7v1.7h-1.7zM45.9 47.6h1.7v1.7h-1.7zM49.3 47.6h1.7v1.7h-1.7zM6.8 49.3h1.7v1.7h-1.7zM11.9 49.3h1.7v1.7h-1.7zM20.4 49.3h1.7v1.7h-1.7zM25.5 49.3h1.7v1.7h-1.7zM37.4 49.3h1.7v1.7h-1.7zM40.8 49.3h1.7v1.7h-1.7zM1.7 51.0h1.7v1.7h-1.7zM3.4 51.0h1.7v1.7h-1.7zM5.1 51.0h1.7v1.7h-1.7zM10.2 51.0h1.7v1.7h-1.7zM27.2 51.0h1.7v1.7h-1.7zM28.9 51.0h1.7v1.7h-1.7zM42.5 51.0h1.7v1.7h-1.7zM44.2 51.0h1.7v1.7h-1.7zM56.1 51.0h1.7v1.7h-1.7zM1.7 52.7h1.7v1.7h-1.7zM13.6 52.7h1.7v1.7h-1.7zM17.0 52.7h1.7v1.7h-1.7zM18.7 52.7h1.7v1.7h-1.7zM37.4 52.7h1.7v1.7h-1.7zM40.8 52.7h1.7v1.7h-1.7zM42.5 52.7h1.7v1.7h-1.7zM51.0 52.7h1.7v1.7h-1.7zM52.7 52.7h1.7v1.7h-1.7zM11.9 54.4h1.7v1.7h-1.7zM30.6 54.4h1.7v1.7h-1.7zM35.7 54.4h1.7v1.7h-1.7zM37.4 54.4h1.7v1.7h-1.7zM44.2 54.4h1.7v1.7h-1.7zM6.8 56.1h1.7v1.7h-1.7zM11.9 56.1h1.7v1.7h-1.7zM13.6 56.1h1.7v1.7h-1.7zM17.0 56.1h1.7v1.7h-1.7zM23.8 56.1h1.7v1.7h-1.7zM25.5 56.1h1.7v1.7h-1.7zM30.6 56.1h1.7v1.7h-1.7zM42.5 56.1h1.7v1.7h-1.7zM52.7 56.1h1.7v1.7h-1.7zM1.7 57.8h1.7v1.7h-1.7zM5.1 57.8h1.7v1.7h-1.7zM6.8 57.8h1.7v1.7h-1.7zM10.2 57.8h1.7v1.7h-1.7zM11.9 57.8h1.7v1.7h-1.7zM13.6 57.8h1.7v1.7h-1.7zM18.7 57.8h1.7v1.7h-1.7zM20.4 57.8h1.7v1.7h-1.7zM27.2 57.8h1.7v1.7h-1.7zM42.5 57.8h1.7v1.7h-1.7zM49.3 57.8h1.7v1.7h-1.7zM56.1 57.8h1.7v1.7h-1.7zM59.5 57.8h1.7v1.7h-1.7zM5.1 59.5h1.7v1.7h-1.7zM18.7 59.5h1.7v1.7h-1.7zM22.1 59.5h1.7v1.7h-1.7zM34.0 59.5h1.7v1.7h-1.7zM45.9 59.5h1.7v1.7h-1.7zM54.4 59.5h1.7v1.7h-1.7zM57.8 59.5h1.7v1.7h-1.7z" fill="#8e8e8e"/>
<path d="M3.4 0.0h1.7v1.7h-1.7zM10.2 0.0h1.7v1.7h-1.7zM27.2 0.0h1.7v1.7h-1.7zM49.3 0.0h1.7v1.7h-1.7zM0.0 1.7h1.7v1.7h-1.7zM6.8 1.7h1.7v1.7h-1.7zM25.5 1.7h1.7v1.7h-1.7zM32.3 1.7h1.7v1.7h-1.7zM49.3 1.7h1.7v1.7h-1.7zM54.4 1.7h1.7v1.7h-1.7zM5.1 3.4h1.7v1.7h-1.7zM11.9 3.4h1.7v1.7h-1.7zM13.6 3.4h1.7v1.7h-1.7zM20.4 3.4h1.7v1.7h-1.7zM35.7 3.4h1.7v1.7h-1.7zM1.7 5.1h1.7v1.7h-1.7zM17.0 5.1h1.7v1.7h-1.7zM18.7 5.1h1.7v1.7h-1.7zM25.5 5.1h1.7v1.7h-1.7zM30.6 5.1h1.7v1.7h-1.7zM54.4 5.1h1.7v1.7h-1.7zM51.0 6.8h1.7v1.7h-1.7zM0.0 8.5h1.7v1.7h-1.7zM3.4 8.5h1.7v1.7h-1.7zM27.2 8.5h1.7v1.7h-1.7zM49.3 8.5h1.7v1.7h-1.7zM3.4 10.2h1.7v1.7h-1.7zM8.5 10.2h1.7v1.7h-1.7zM51.0 10.2h1.7v1.7h-1.7zM52.7 10.2h1.7v1.7h-1.7zM1.7 11.9h1.7v1.7h-1.7zM5.1 11.9h1.7v1.7h-1.7zM6.8 11.9h1.7v1.7h-1.7zM28.9 11.9h1.7v1.7h-1.7zM30.6 11.9h1.7v1.7h-1.7zM32.3 11.9h1.7v1.7h-1.7zM52.7 11.9h1.7v1.7h-1.7zM54.4 11.9h1.7v1.7h-1.7zM23.8 13.6h1.7v1.7h-1.7zM28.9 13.6h1.7v1.7h-1.7zM30.6 13.6h1.7v1.7h-1.7zM39.1 13.6h1.7v1.7h-1.7zM49.3 13.6h1.7v1.7h-1.7zM59.5 13.6h1.7v1.7h-1.7zM17.0 15.3h1.7v1.7h-1.7zM18.7 15.3h1.7v1.7h-1.7zM54.4 15.3h1.7v1.7h-1.7zM56.1 15.3h1.7v1.7h-1.7zM3.4 17.0h1.7v1.7h-1.7zM5.1 17.0h1.7v1.7h-1.7zM23.8 17.0h1.7v1.7h-1.7zM30.6 17.0h1.7v1.7h-1.7zM52.7 17.0h1.7v1.7h-1.7zM1.7 18.7h1.7v1.7h-1.7zM10.2 18.7h1.7v1.7h-1.7zM42.5 18.7h1.7v1.7h-1.7zM51.0 18.7h1.7v1.7h-1.7zM57.8 18.7h1.7v1.7h-1.7zM13.6 20.4h1.7v1.7h-1.7zM35.7 20.4h1.7v1.7h-1.7zM42.5 20.4h1.7v1.7h-1.7zM45.9 20.4h1.7v1.7h-1.7zM3.4 22.1h1.7v1.7h-1.7zM5.1 22.1h1.7v1.7h-1.7zM25.5 22.1h1.7v1.7h-1.7zM35.7 22.1h1.7v1.7h-1.7zM49.3 22.1h1.7v1.7h-1.7zM3.4 23.8h1.7v1.7h-1.7zM18.7 23.8h1.7v1.7h-1.7zM25.5 23.8h1.7v1.7h-1.7zM28.9 23.8h1.7v1.7h-1.7zM32.3 23.8h1.7v1.7h-1.7zM34.0 23.8h1.7v1.7h-1.7zM37.4 23.8h1.7v1.7h-1.7zM39.1 23.8h1.7v1.7h-1.7zM56.1 23.8h1.7v1.7h-1.7zM1.7 25.5h1.7v1.7h-1.7zM6.8 25.5h1.7v1.7h-1.7zM8.5 25.5h1.7v1.7h-1.7zM11.9 25.5h1.7v1.7h-1.7zM25.5 25.5h1.7v1.7h-1.7zM35.7 25.5h1.7v1.7h-1.7zM56.1 25.5h1.7v1.7h-1.7zM10.2 27.2h1.7v1.7h-1.7zM27.2 27.2h1.7v1.7h-1.7zM28.9 27.2h1.7v1.7h-1.7zM0.0 28.9h1.7v1.7h-1.7zM1.7 28.9h1.7v1.7h-1.7zM3.4 28.9h1.7v1.7h-1.7zM25.5 28.9h1.7v1.7h-1.7zM39.1 28.9h1.7v1.7h-1.7zM49.3 28.9h1.7v1.7h-1.7zM54.4 28.9h1.7v1.7h-1.7zM0.0 30.6h1.7v1.7h-1.7zM3.4 30.6h1.7v1.7h-1.7zM8.5 30.6h1.7v1.7h-1.7zM32.3 30.6h1.7v1.7h-1.7zM39.1 30.6h1.7v1.7h-1.7zM47.6 30.6h1.7v1.7h-1.7zM59.5 30.6h1.7v1.7h-1.7zM6.8 32.3h1.7v1.7h-1.7zM17.0 32.3h1.7v1.7h-1.7zM40.8 32.3h1.7v1.7h-1.7zM15.3 34.0h1.7v1.7h-1.7zM20.4 34.0h1.7v1.7h-1.7zM30.6 34.0h1.7v1.7h-1.7zM40.8 34.0h1.7v1.7h-1.7zM47.6 34.0h1.7v1.7h-1.7zM59.5 34.0h1.7v1.7h-1.7zM6.8 35.7h1.7v1.7h-1.7zM23.8 35.7h1.7v1.7h-1.7zM34.0 35.7h1.7v1.7h-1.7zM39.1 35.7h1.7v1.7h-1.7zM57.8 35.7h1.7v1.7h-1.7zM1.7 37.4h1.7v1.7h-1.7zM6.8 37.4h1.7v1.7h-1.7zM13.6 37.4h1.7v1.7h-1.7zM15.3 37.4h1.7v1.7h-1.7zM18.7 37.4h1.7v1.7h-1.7zM42.5 37.4h1.7v1.7h-1.7zM52.7 37.4h1.7v1.7h-1.7zM54.4 37.4h1.7v1.7h-1.7zM57.8 37.4h1.7v1.7h-1.7zM3.4 39.1h1.7v1.7h-1.7zM6.8 39.1h1.7v1.7h-1.7zM8.5 39.1h1.7v1.7h-1.7zM17.0 39.1h1.7v1.7h-1.7zM27.2 39.1h1.7v1.7h-1.7zM44.2 39.1h1.7v1.7h-1.7zM56.1 39.1h1.7v1.7h-1.7zM11.9 40.8h1.7v1.7h-1.7zM13.6 40.8h1.7v1.7h-1.7zM23.8 40.8h1.7v1.7h-1.7zM30.6 40.8h1.7v1.7h-1.7zM45.9 40.8h1.7v1.7h-1.7zM47.6 40.8h1.7v1.7h-1.7zM11.9 42.5h1.7v1.7h-1.7zM20.4 42.5h1.7v1.7h-1.7zM22.1 42.5h1.7v1.7h-1.7zM35.7 42.5h1.7v1.7h-1.7zM59.5 42.5h1.7v1.7h-1.7zM3.4 44.2h1.7v1.7h-1.7zM6.8 44.2h1.7v1.7h-1.7zM15.3 44.2h1.7v1.7h-1.7zM22.1 44.2h1.7v1.7h-1.7zM32.3 44.2h1.7v1.7h-1.7zM44.2 44.2h1.7v1.7h-1.7zM51.0 44.2h1.7v1.7h-1.7zM52.7 44.2h1.7v1.7h-1.7zM59.5 44.2h1.7v1.7h-1.7zM6.8 45.9h1.7v1.7h-1.7zM17.0 45.9h1.7v1.7h-1.7zM22.1 45.9h1.7v1.7h-1.7zM25.5 45.9h1.7v1.7h-1.7zM27.2 45.9h1.7v1.7h-1.7zM5.1 47.6h1.7v1.7h-1.7zM18.7 47.6h1.7v1.7h-1.7zM34.0 47.6h1.7v1.7h-1.7zM39.1 47.6h1.7v1.7h-1.7zM52.7 47.6h1.7v1.7h-1.7zM57.8 47.6h1.7v1.7h-1.7zM59.5 47.6h1.7v1.7h-1.7zM8.5 49.3h1.7v1.7h-1.7zM13.6 49.3h1.7v1.7h-1.7zM28.9 49.3h1.7v1.7h-1.7zM30.6 49.3h1.7v1.7h-1.7zM45.9 49.3h1.7v1.7h-1.7zM47.6 49.3h1.7v1.7h-1.7zM52.7 49.3h1.7v1.7h-1.7zM56.1 49.3h1.7v1.7h-1.7zM15.3 51.0h1.7v1.7h-1.7zM20.4 51.0h1.7v1.7h-1.7zM23.8 51.0h1.7v1.7h-1.7zM25.5 51.0h1.7v1.7h-1.7zM34.0 51.0h1.7v1.7h-1.7zM35.7 51.0h1.7v1.7h-1.7zM8.5 52.7h1.7v1.7h-1.7zM10.2 52.7h1.7v1.7h-1.7zM20.4 52.7h1.7v1.7h-1.7zM25.5 52.7h1.7v1.7h-1.7zM54.4 52.7h1.7v1.7h-1.7zM56.1 52.7h1.7v1.7h-1.7zM0.0 54.4h1.7v1.7h-1.7zM3.4 54.4h1.7v1.7h-1.7zM5.1 54.4h1.7v1.7h-1.7zM8.5 54.4h1.7v1.7h-1.7zM28.9 54.4h1.7v1.7h-1.7zM47.6 54.4h1.7v1.7h-1.7zM51.0 54.4h1.7v1.7h-1.7zM56.1 54.4h1.7v1.7h-1.7zM3.4 57.8h1.7v1.7h-1.7zM37.4 57.8h1.7v1.7h-1.7zM44.2 57.8h1.7v1.7h-1.7zM47.6 57.8h1.7v1.7h-1.7zM51.0 57.8h1.7v1.7h-1.7zM52.7 57.8h1.7v1.7h-1.7zM54.4 57.8h1.7v1.7h-1.7zM57.8 57.8h1.7v1.7h-1.7zM15.3 59.5h1.7v1.7h-1.7zM49.3 59.5h1.7v1.7h-1.7z" fill="#aaaaaa"/>
<path d="M13.6 0.0h1.7v1.7h-1.7zM18.7 1.7h1.7v1.7h-1.7zM20.4 1.7h1.7v1.7h-1.7zM59.5 1.7h1.7v1.7h-1.7zM10.2 3.4h1.7v1.7h-1.7zM47.6 3.4h1.7v1.7h-1.7zM3.4 5.1h1.7v1.7h-1.7zM20.4 5.1h1.7v1.7h-1.7zM22.1 5.1h1.7v1.7h-1.7zM47.6 5.1h1.7v1.7h-1.7zM1.7 6.8h1.7v1.7h-1.7zM11.9 6.8h1.7v1.7h-1.7zM15.3 6.8h1.7v1.7h-1.7zM27.2 6.8h1.7v1.7h-1.7zM32.3 6.8h1.7v1.7h-1.7zM42.5 6.8h1.7v1.7h-1.7zM49.3 6.8h1.7v1.7h-1.7zM1.7 8.5h1.7v1.7h-1.7zM35.7 8.5h1.7v1.7h-1.7zM10.2 10.2h1.7v1.7h-1.7zM11.9 10.2h1.7v1.7h-1.7zM17.0 11.9h1.7v1.7h-1.7zM23.8 11.9h1.7v1.7h-1.7zM40.8 11.9h1.7v1.7h-1.7zM15.3 13.6h1.7v1.7h-1.7zM30.6 15.3h1.7v1.7h-1.7zM27.2 17.0h1.7v1.7h-1.7zM32.3 17.0h1.7v1.7h-1.7zM42.5 17.0h1.7v1.7h-1.7zM45.9 17.0h1.7v1.7h-1.7zM0.0 18.7h1.7v1.7h-1.7zM15.3 18.7h1.7v1.7h-1.7zM17.0 18.7h1.7v1.7h-1.7zM23.8 18.7h1.7v1.7h-1.7zM30.6 18.7h1.7v1.7h-1.7zM49.3 20.4h1.7v1.7h-1.7zM8.5 22.1h1.7v1.7h-1.7zM22.1 22.1h1.7v1.7h-1.7zM47.6 22.1h1.7v1.7h-1.7zM40.8 23.8h1.7v1.7h-1.7zM47.6 23.8h1.7v1.7h-1.7zM10.2 25.5h1.7v1.7h-1.7zM47.6 25.5h1.7v1.7h-1.7zM15.3 27.2h1.7v1.7h-1.7zM30.6 27.2h1.7v1.7h-1.7zM57.8 27.2h1.7v1.7h-1.7zM27.2 28.9h1.7v1.7h-1.7zM6.8 30.6h1.7v1.7h-1.7zM45.9 30.6h1.7v1.7h-1.7zM39.1 32.3h1.7v1.7h-1.7zM44.2 32.3h1.7v1.7h-1.7zM57.8 32.3h1.7v1.7h-1.7zM22.1 34.0h1.7v1.7h-1.7zM27.2 34.0h1.7v1.7h-1.7zM45.9 34.0h1.7v1.7h-1.7zM10.2 35.7h1.7v1.7h-1.7zM22.1 35.7h1.7v1.7h-1.7zM35.7 35.7h1.7v1.7h-1.7zM37.4 35.7h1.7v1.7h-1.7zM1.7 39.1h1.7v1.7h-1.7zM10.2 39.1h1.7v1.7h-1.7zM15.3 39.1h1.7v1.7h-1.7zM47.6 39.1h1.7v1.7h-1.7zM0.0 40.8h1.7v1.7h-1.7zM25.5 40.8h1.7v1.7h-1.7zM28.9 40.8h1.7v1.7h-1.7zM51.0 40.8h1.7v1.7h-1.7zM57.8 40.8h1.7v1.7h-1.7zM15.3 42.5h1.7v1.7h-1.7zM18.7 42.5h1.7v1.7h-1.7zM23.8 42.5h1.7v1.7h-1.7zM42.5 42.5h1.7v1.7h-1.7zM45.9 42.5h1.7v1.7h-1.7zM3.4 47.6h1.7v1.7h-1.7zM13.6 47.6h1.7v1.7h-1.7zM17.0 47.6h1.7v1.7h-1.7zM44.2 49.3h1.7v1.7h-1.7zM17.0 51.0h1.7v1.7h-1.7zM51.0 51.0h1.7v1.7h-1.7zM32.3 52.7h1.7v1.7h-1.7zM35.7 52.7h1.7v1.7h-1.7zM1.7 54.4h1.7v1.7h-1.7zM10.2 54.4h1.7v1.7h-1.7zM13.6 54.4h1.7v1.7h-1.7zM15.3 54.4h1.7v1.7h-1.7zM18.7 54.4h1.7v1.7h-1.7zM23.8 54.4h1.7v1.7h-1.7zM1.7 59.5h1.7v1.7h-1.7zM30.6 59.5h1.7v1.7h-1.7zM40.8 59.5h1.7v1.7h-1.7zM56.1 59.5h1.7v1.7h-1.7z" fill="#c6c6c6"/>
<path d="M32.3 0.0h1.7v1.7h-1.7zM44.2 0.0h1.7v1.7h-1.7zM51.0 0.0h1.7v1.7h-1.7zM44.2 1.7h1.7v1.7h-1.7zM0.0 3.4h1.7v1.7h-1.7zM28.9 3.4h1.7v1.7h-1.7zM0.0 5.1h1.7v1.7h-1.7zM27.2 5.1h1.7v1.7h-1.7zM45.9 5.1h1.7v1.7h-1.7zM1.7 10.2h1.7v1.7h-1.7zM10.2 11.9h1.7v1.7h-1.7zM34.0 13.6h1.7v1.7h-1.7zM56.1 13.6h1.7v1.7h-1.7zM57.8 13.6h1.7v1.7h-1.7zM5.1 15.3h1.7v1.7h-1.7zM25.5 15.3h1.7v1.7h-1.7zM52.7 15.3h1.7v1.7h-1.7zM51.0 20.4h1.7v1.7h-1.7zM56.1 20.4h1.7v1.7h-1.7zM5.1 27.2h1.7v1.7h-1.7zM51.0 28.9h1.7v1.7h-1.7zM27.2 32.3h1.7v1.7h-1.7zM15.3 35.7h1.7v1.7h-1.7zM47.6 35.7h1.7v1.7h-1.7zM6.8 40.8h1.7v1.7h-1.7zM5.1 42.5h1.7v1.7h-1.7zM54.4 42.5h1.7v1.7h-1.7zM11.9 45.9h1.7v1.7h-1.7zM37.4 51.0h1.7v1.7h-1.7zM49.3 52.7h1.7v1.7h-1.7zM27.2 56.1h1.7v1.7h-1.7zM32.3 56.1h1.7v1.7h-1.7zM40.8 57.8h1.7v1.7h-1.7zM6.8 59.5h1.7v1.7h-1.7z" fill="#e3e3e3"/>
<path d="M56.1 0.0h1.7v1.7h-1.7zM1.7 1.7h1.7v1.7h-1.7zM56.1 1.7h1.7v1.7h-1.7zM17.0 3.4h1.7v1.7h-1.7zM22.1 6.8h1.7v1.7h-1.7zM54.4 6.8h1.7v1.7h-1.7zM40.8 10.2h1.7v1.7h-1.7zM45.9 11.9h1.7v1.7h-1.7zM34.0 15.3h1.7v1.7h-1.7zM23.8 23.8h1.7v1.7h-1.7zM23.8 28.9h1.7v1.7h-1.7zM39.1 39.1h1.7v1.7h-1.7zM18.7 40.8h1.7v1.7h-1.7zM27.2 44.2h1.7v1.7h-1.7zM42.5 47.6h1.7v1.7h-1.7zM51.0 49.3h1.7v1.7h-1.7zM47.6 52.7h1.7v1.7h-1.7z" fill="#ffffff"/>
</pattern>
<filter id="nblur" x="0" y="0" width="1" height="1"><feGaussianBlur stdDeviation="0.6"/></filter>
<filter id="fnoise" x="0" y="0" width="1" height="1" color-interpolation-filters="sRGB">
<feTurbulence type="fractalNoise" baseFrequency="0.9" numOctaves="3" seed="7" result="t"/>
<feColorMatrix in="t" type="matrix" values="2.8 0 0 0 -0.92  2.8 0 0 0 -0.92  2.8 0 0 0 -0.92  0 0 0 0 1" result="g"/>
<feGaussianBlur in="g" stdDeviation="0.45"/>
</filter>
<filter id="fnoise2" x="0" y="0" width="1" height="1" color-interpolation-filters="sRGB">
<feTurbulence type="fractalNoise" baseFrequency="0.9" numOctaves="3" seed="11" result="t"/>
<feColorMatrix in="t" type="matrix" values="2.5 0 0 0 -0.72  2.5 0 0 0 -0.72  2.5 0 0 0 -0.72  0 0 0 0 1" result="g"/>
<feGaussianBlur in="g" stdDeviation="0.4"/>
</filter>
<filter id="sb" x="-10%" y="-10%" width="120%" height="120%"><feGaussianBlur stdDeviation="0.9"/></filter>
<filter id="sb2" x="-30%" y="-30%" width="160%" height="160%"><feGaussianBlur stdDeviation="2"/></filter>
<filter id="sb4" x="-50%" y="-50%" width="200%" height="200%"><feGaussianBlur stdDeviation="5"/></filter>
<filter id="sb8" x="-50%" y="-50%" width="200%" height="200%"><feGaussianBlur stdDeviation="9"/></filter>
<clipPath id="c100"><rect x="0" y="0" width="100" height="100"/></clipPath>
<linearGradient id="gT1" x1="0" y1="1" x2="0" y2="0">
<stop offset="0" stop-color="#000004"/><stop offset="0.15" stop-color="#2a1040"/><stop offset="0.3" stop-color="#6a2a70"/>
<stop offset="0.5" stop-color="#c06038"/><stop offset="0.7" stop-color="#d8a838"/><stop offset="0.85" stop-color="#d8d080"/><stop offset="1" stop-color="#c8ccc8"/>
</linearGradient>
<linearGradient id="gT2" x1="0" y1="1" x2="0" y2="0">
<stop offset="0" stop-color="#1a2070"/><stop offset="0.2" stop-color="#2850b8"/><stop offset="0.4" stop-color="#3a80b8"/>
<stop offset="0.65" stop-color="#6aa078"/><stop offset="0.85" stop-color="#9aa868"/><stop offset="1" stop-color="#b8a470"/>
</linearGradient>
<linearGradient id="gM0" x1="0" y1="1" x2="0" y2="0">
<stop offset="0" stop-color="#000"/><stop offset="0.5" stop-color="#6a6a78"/><stop offset="1" stop-color="#fff"/>
</linearGradient>
<radialGradient id="gKsub" cx="0.5" cy="0.5" r="0.5">
<stop offset="0" stop-color="#5a90e8"/><stop offset="0.35" stop-color="#4a76e0"/>
<stop offset="0.75" stop-color="#4464d4"/><stop offset="0.97" stop-color="#4058c8"/><stop offset="1" stop-color="#3c3cac"/>
</radialGradient>
<filter id="speck" x="0" y="0" width="100%" height="100%" color-interpolation-filters="sRGB">
<feTurbulence type="fractalNoise" baseFrequency="0.45" numOctaves="2" seed="4" result="n"/>
<feColorMatrix in="n" type="matrix" values="1 0 0 0 0  1 0 0 0 0  1 0 0 0 0  0 0 0 0 1" result="g"/>
<feComposite in="SourceGraphic" in2="g" operator="arithmetic" k1="0.55" k2="0.6" k3="0" k4="0"/>
</filter>
<g id="t1map" clip-path="url(#c100)">
<rect x="0" y="0" width="100" height="100" fill="#000"/>
<g filter="url(#speck)">
<g filter="url(#sb)">
<path d="M 23.5 -2 L 23.5 27 C 22 38, 15 50, 14.5 62 C 14 75, 20 88, 38.6 102 L 102 102 L 102 -2 Z" fill="#dc8434"/>
<path d="M 36 -2 L 102 -2 L 102 26 C 92 20, 80 15, 68 12 C 56 9, 46 12, 40 24 Z" fill="#e8c068"/>
<ellipse cx="39" cy="54" rx="4" ry="11" fill="#8a3068"/>
<circle cx="86" cy="40" r="14" fill="#e6a434"/>
<circle cx="55" cy="75" r="23" fill="#a42e5c"/>
<ellipse cx="89" cy="80" rx="11" ry="17" fill="#dc7a34"/>
<circle cx="55" cy="32" r="16" fill="#e0a444"/>
<ellipse cx="45" cy="41" rx="9" ry="13" transform="rotate(25 45 41)" fill="#e4e8a0"/>
<circle cx="60" cy="29" r="10.5" fill="#e8eca8"/>
<ellipse cx="72" cy="51" rx="3" ry="4.5" fill="#eef0a8"/>
<ellipse cx="68" cy="67" rx="3" ry="6" fill="#eef0a8"/>
<ellipse cx="62" cy="70" rx="3.5" ry="5" fill="#eef0a8"/>
<ellipse cx="85" cy="63" rx="2.5" ry="4" fill="#eef0a8"/>
<ellipse cx="75" cy="84" rx="4.5" ry="8" fill="#eef0a8"/>
<path d="M 23.5 -2 L 23.5 27 C 22 38, 15 50, 14.5 62 C 14 75, 20 88, 38.6 102 L 46 102 C 30 90, 22 76, 22 63 C 22 50, 29 40, 30 28 L 30 -2 Z" fill="#74287a"/>
</g></g></g>
<g id="t2map" clip-path="url(#c100)">
<rect x="0" y="0" width="100" height="100" fill="#16141e"/>
<g filter="url(#speck)">
<g filter="url(#sb)">
<path d="M 23.5 -2 L 23.5 27 C 22 38, 15 50, 14.5 62 C 14 75, 20 88, 38.6 102 L 102 102 L 102 -2 Z" fill="#3060c8"/>
<path d="M 36 -2 L 102 -2 L 102 26 C 92 20, 80 15, 68 12 C 56 9, 46 12, 40 24 Z" fill="#2a4ab0"/>
<ellipse cx="39" cy="54" rx="4" ry="11" fill="#2a50b8"/>
<circle cx="86" cy="40" r="14" fill="#58987c"/>
<circle cx="55" cy="75" r="23" fill="#3a70c0"/>
<ellipse cx="89" cy="80" rx="11" ry="17" fill="#3a74bc"/>
<circle cx="55" cy="32" r="16" fill="#3a68c8"/>
<ellipse cx="45" cy="41" rx="9" ry="13" transform="rotate(25 45 41)" fill="#bca872"/>
<circle cx="60" cy="29" r="10.5" fill="#c4ae70"/>
<ellipse cx="72" cy="51" rx="3" ry="4.5" fill="#c0a870"/>
<ellipse cx="68" cy="67" rx="3" ry="6" fill="#c0a870"/>
<ellipse cx="62" cy="70" rx="3.5" ry="5" fill="#c0a870"/>
<ellipse cx="85" cy="63" rx="2.5" ry="4" fill="#c0a870"/>
<ellipse cx="75" cy="84" rx="4.5" ry="8" fill="#c0a870"/>
<path d="M 23.5 -2 L 23.5 27 C 22 38, 15 50, 14.5 62 C 14 75, 20 88, 38.6 102 L 46 102 C 30 90, 22 76, 22 63 C 22 50, 29 40, 30 28 L 30 -2 Z" fill="#2c4cb0"/>
</g></g></g>
<g id="m0map" clip-path="url(#c100)">
<rect x="0" y="0" width="100" height="100" fill="#1e1e24"/>
<g filter="url(#speck)">
<g filter="url(#sb)">
<path d="M 27 -2 C 27 20, 25 38, 22 52 C 20 64, 22 72, 27 78 C 35 88, 45 96, 51 102 L 102 102 L 102 -2 Z" fill="#6c6c88"/>
<path d="M 36 -2 L 102 -2 L 102 26 C 92 20, 80 15, 68 12 C 56 9, 46 12, 40 24 Z" fill="#26262e"/>
<ellipse cx="39" cy="54" rx="4" ry="11" fill="#30303a"/>
<circle cx="86" cy="40" r="14" fill="#5c5c78"/>
<circle cx="55" cy="75" r="23" fill="#74749a"/>
<ellipse cx="89" cy="80" rx="11" ry="17" fill="#5a5a76"/>
<circle cx="55" cy="32" r="16" fill="#8a8aa8"/>
<ellipse cx="45" cy="41" rx="9" ry="13" transform="rotate(25 45 41)" fill="#b4b4d0"/>
<circle cx="60" cy="29" r="10.5" fill="#9494b2"/>
<ellipse cx="72" cy="51" rx="3" ry="4.5" fill="#a0a0bc"/>
<ellipse cx="68" cy="67" rx="3" ry="6" fill="#a0a0bc"/>
<ellipse cx="62" cy="70" rx="3.5" ry="5" fill="#a0a0bc"/>
<ellipse cx="85" cy="63" rx="2.5" ry="4" fill="#a0a0bc"/>
<ellipse cx="75" cy="84" rx="4.5" ry="8" fill="#a0a0bc"/>
<path d="M 27 -2 C 27 20, 25 38, 22 52 C 20 64, 22 72, 27 78 C 35 88, 45 96, 51 102 L 56 102 C 50 95, 40 86, 35 76 C 33 66, 33 54, 34 44 C 34 30, 33 15, 33 -2 Z" fill="#e4e4f4"/>
<path d="M 27 -2 L 33 -2 C 33 15, 34 30, 34 38 L 25 40 C 26 25, 27 15, 27 -2 Z" fill="#8e8eac"/>
</g></g></g>
<g id="mri0" clip-path="url(#c100)">
<rect x="0" y="0" width="100" height="100" fill="#151515"/>
<g filter="url(#speck)">
<g filter="url(#sb)">
<path d="M 27 -2 C 27 20, 25 38, 22 52 C 20 64, 22 72, 27 78 C 35 88, 45 96, 51 102 L 102 102 L 102 -2 Z" fill="#767676"/>
<path d="M 36 -2 L 102 -2 L 102 26 C 92 20, 80 15, 68 12 C 56 9, 46 12, 40 24 Z" fill="#1e1e1e"/>
<ellipse cx="39" cy="54" rx="4" ry="11" fill="#282828"/>
<circle cx="86" cy="40" r="14" fill="#6a6a6a"/>
<circle cx="55" cy="75" r="23" fill="#848484"/>
<ellipse cx="89" cy="80" rx="11" ry="17" fill="#606060"/>
<circle cx="55" cy="32" r="16" fill="#a8a8a8"/>
<ellipse cx="45" cy="41" rx="9" ry="13" transform="rotate(25 45 41)" fill="#c0c0c0"/>
<circle cx="60" cy="29" r="10.5" fill="#a2a2a2"/>
<circle cx="60" cy="29" r="11" fill="none" stroke="#707070" stroke-width="2.2"/>
<ellipse cx="72" cy="51" rx="3" ry="4.5" fill="#909090"/>
<ellipse cx="68" cy="67" rx="3" ry="6" fill="#909090"/>
<ellipse cx="62" cy="70" rx="3.5" ry="5" fill="#909090"/>
<ellipse cx="85" cy="63" rx="2.5" ry="4" fill="#909090"/>
<ellipse cx="75" cy="84" rx="4.5" ry="8" fill="#909090"/>
<path d="M 27 -2 C 27 20, 25 38, 22 52 C 20 64, 22 72, 27 78 C 35 88, 45 96, 51 102 L 56 102 C 50 95, 40 86, 35 76 C 33 66, 33 54, 34 44 C 34 30, 33 15, 33 -2 Z" fill="#ececec"/>
<path d="M 27 -2 L 33 -2 C 33 15, 34 30, 34 38 L 25 40 C 26 25, 27 15, 27 -2 Z" fill="#8a8a8a"/>
</g></g></g>
<g id="mri1" clip-path="url(#c100)">
<rect x="0" y="0" width="100" height="100" fill="#151515"/>
<g filter="url(#speck)">
<g filter="url(#sb)">
<path d="M 27 -2 C 27 20, 25 38, 22 52 C 20 64, 22 72, 27 78 C 35 88, 45 96, 51 102 L 102 102 L 102 -2 Z" fill="#3c3c3c"/>
<path d="M 36 -2 L 102 -2 L 102 26 C 92 20, 80 15, 68 12 C 56 9, 46 12, 40 24 Z" fill="#1a1a1a"/>
<ellipse cx="39" cy="54" rx="4" ry="11" fill="#222"/>
<circle cx="86" cy="40" r="14" fill="#2c2c2c"/>
<circle cx="55" cy="75" r="23" fill="#555"/>
<ellipse cx="89" cy="80" rx="11" ry="17" fill="#3a3a3a"/>
<circle cx="55" cy="32" r="16" fill="#5a5a5a"/>
<ellipse cx="45" cy="41" rx="9" ry="13" transform="rotate(25 45 41)" fill="#6a6a6a"/>
<circle cx="60" cy="29" r="10.5" fill="#5c5c5c"/>
<circle cx="60" cy="29" r="11" fill="none" stroke="#1e1e1e" stroke-width="2.2"/>
<ellipse cx="72" cy="51" rx="3" ry="4.5" fill="#777"/>
<ellipse cx="68" cy="67" rx="3" ry="6" fill="#777"/>
<ellipse cx="62" cy="70" rx="3.5" ry="5" fill="#777"/>
<ellipse cx="85" cy="63" rx="2.5" ry="4" fill="#777"/>
<ellipse cx="75" cy="84" rx="4.5" ry="8" fill="#777"/>
<path d="M 27 -2 C 27 20, 25 38, 22 52 C 20 64, 22 72, 27 78 C 35 88, 45 96, 51 102 L 56 102 C 50 95, 40 86, 35 76 C 33 66, 33 54, 34 44 C 34 30, 33 15, 33 -2 Z" fill="#d8d8d8"/>
<path d="M 27 -2 L 33 -2 C 33 15, 34 30, 34 38 L 25 40 C 26 25, 27 15, 27 -2 Z" fill="#9a9a9a"/>
</g></g></g>
<g id="mri2" clip-path="url(#c100)">
<rect x="0" y="0" width="100" height="100" fill="#181818"/>
<g filter="url(#speck)">
<g filter="url(#sb)">
<path d="M 27 -2 C 27 20, 25 38, 22 52 C 20 64, 22 72, 27 78 C 35 88, 45 96, 51 102 L 102 102 L 102 -2 Z" fill="#4e4e4e"/>
<path d="M 36 -2 L 102 -2 L 102 26 C 92 20, 80 15, 68 12 C 56 9, 46 12, 40 24 Z" fill="#282828"/>
<ellipse cx="39" cy="54" rx="4" ry="11" fill="#2a2a2a"/>
<circle cx="86" cy="40" r="14" fill="#444"/>
<circle cx="55" cy="75" r="23" fill="#6a6a6a"/>
<ellipse cx="89" cy="80" rx="11" ry="17" fill="#505050"/>
<circle cx="55" cy="32" r="16" fill="#4a4a4a"/>
<ellipse cx="45" cy="41" rx="9" ry="13" transform="rotate(25 45 41)" fill="#3a3a3a"/>
<circle cx="60" cy="29" r="10.5" fill="#2c2c2c"/>
<circle cx="60" cy="29" r="11" fill="none" stroke="#9a9a9a" stroke-width="2.2"/>
<ellipse cx="72" cy="51" rx="3" ry="4.5" fill="#777"/>
<ellipse cx="68" cy="67" rx="3" ry="6" fill="#777"/>
<ellipse cx="62" cy="70" rx="3.5" ry="5" fill="#777"/>
<ellipse cx="85" cy="63" rx="2.5" ry="4" fill="#777"/>
<ellipse cx="75" cy="84" rx="4.5" ry="8" fill="#777"/>
<path d="M 27 -2 C 27 20, 25 38, 22 52 C 20 64, 22 72, 27 78 C 35 88, 45 96, 51 102 L 56 102 C 50 95, 40 86, 35 76 C 33 66, 33 54, 34 44 C 34 30, 33 15, 33 -2 Z" fill="#f4f4f4"/>
<path d="M 27 -2 L 33 -2 C 33 15, 34 30, 34 38 L 25 40 C 26 25, 27 15, 27 -2 Z" fill="#b8b8b8"/>
</g></g></g>
<g id="kspiral">
<rect x="0" y="0" width="100" height="100" fill="#3a2db4"/>
<g clip-path="url(#c100)"><path d="M 51.20 50.00 L 51.25 49.96 L 51.30 49.92 L 51.35 49.87 L 51.40 49.82 L 51.44 49.77 L 51.48 49.71 L 51.52 49.65 L 51.56 49.59 L 51.60 49.52 L 51.63 49.46 L 51.66 49.39 L 51.69 49.31 L 51.72 49.24 L 51.74 49.16 L 51.76 49.08 L 51.77 49.00 L 51.78 48.92 L 51.79 48.83 L 51.79 48.75 L 51.79 48.66 L 51.79 48.57 L 51.78 48.48 L 51.77 48.39 L 51.76 48.29 L 51.74 48.20 L 51.71 48.11 L 51.69 48.01 L 51.65 47.92 L 51.62 47.83 L 51.58 47.73 L 51.53 47.64 L 51.48 47.55 L 51.43 47.46 L 51.37 47.37 L 51.31 47.28 L 51.24 47.19 L 51.17 47.10 L 51.09 47.02 L 51.01 46.93 L 50.93 46.85 L 50.84 46.77 L 50.75 46.70 L 50.65 46.62 L 50.55 46.55 L 50.44 46.49 L 50.34 46.42 L 50.22 46.36 L 50.11 46.30 L 49.99 46.25 L 49.87 46.20 L 49.74 46.16 L 49.61 46.11 L 49.48 46.08 L 49.35 46.04 L 49.21 46.02 L 49.07 45.99 L 48.93 45.97 L 48.79 45.96 L 48.64 45.95 L 48.49 45.95 L 48.34 45.95 L 48.19 45.96 L 48.04 45.97 L 47.89 45.99 L 47.74 46.02 L 47.58 46.05 L 47.43 46.08 L 47.27 46.12 L 47.12 46.17 L 46.97 46.23 L 46.81 46.29 L 46.66 46.35 L 46.51 46.42 L 46.36 46.50 L 46.21 46.59 L 46.06 46.68 L 45.92 46.77 L 45.77 46.87 L 45.63 46.98 L 45.49 47.10 L 45.36 47.21 L 45.22 47.34 L 45.10 47.47 L 44.97 47.61 L 44.85 47.75 L 44.73 47.90 L 44.62 48.05 L 44.51 48.21 L 44.40 48.37 L 44.30 48.54 L 44.21 48.71 L 44.12 48.89 L 44.03 49.07 L 43.96 49.25 L 43.88 49.44 L 43.82 49.64 L 43.76 49.83 L 43.70 50.04 L 43.65 50.24 L 43.61 50.45 L 43.58 50.66 L 43.55 50.87 L 43.53 51.08 L 43.52 51.30 L 43.51 51.52 L 43.52 51.74 L 43.52 51.96 L 43.54 52.19 L 43.57 52.41 L 43.60 52.64 L 43.64 52.86 L 43.69 53.09 L 43.75 53.31 L 43.81 53.54 L 43.88 53.76 L 43.96 53.99 L 44.05 54.21 L 44.15 54.43 L 44.25 54.65 L 44.37 54.86 L 44.49 55.08 L 44.62 55.29 L 44.75 55.50 L 44.90 55.70 L 45.05 55.90 L 45.21 56.10 L 45.38 56.29 L 45.55 56.48 L 45.73 56.66 L 45.92 56.84 L 46.12 57.01 L 46.32 57.18 L 46.53 57.34 L 46.75 57.50 L 46.97 57.65 L 47.20 57.79 L 47.44 57.92 L 47.68 58.05 L 47.93 58.17 L 48.18 58.29 L 48.44 58.39 L 48.70 58.49 L 48.97 58.58 L 49.24 58.66 L 49.51 58.73 L 49.79 58.79 L 50.07 58.85 L 50.36 58.89 L 50.65 58.93 L 50.94 58.95 L 51.24 58.97 L 51.53 58.98 L 51.83 58.98 L 52.13 58.96 L 52.43 58.94 L 52.73 58.91 L 53.03 58.86 L 53.33 58.81 L 53.63 58.75 L 53.93 58.67 L 54.23 58.59 L 54.53 58.49 L 54.83 58.39 L 55.12 58.27 L 55.41 58.15 L 55.70 58.01 L 55.99 57.87 L 56.27 57.71 L 56.55 57.55 L 56.82 57.37 L 57.09 57.18 L 57.36 56.99 L 57.62 56.78 L 57.87 56.57 L 58.12 56.34 L 58.36 56.11 L 58.60 55.87 L 58.82 55.62 L 59.04 55.36 L 59.26 55.09 L 59.46 54.81 L 59.66 54.53 L 59.85 54.24 L 60.03 53.94 L 60.20 53.63 L 60.36 53.32 L 60.51 53.00 L 60.65 52.67 L 60.78 52.34 L 60.90 52.00 L 61.01 51.66 L 61.11 51.31 L 61.20 50.96 L 61.28 50.60 L 61.34 50.24 L 61.40 49.87 L 61.44 49.50 L 61.47 49.13 L 61.49 48.76 L 61.49 48.38 L 61.49 48.01 L 61.47 47.63 L 61.44 47.25 L 61.39 46.87 L 61.33 46.49 L 61.27 46.11 L 61.18 45.73 L 61.09 45.36 L 60.98 44.98 L 60.86 44.61 L 60.73 44.24 L 60.58 43.87 L 60.42 43.51 L 60.25 43.15 L 60.07 42.79 L 59.88 42.44 L 59.67 42.09 L 59.45 41.75 L 59.22 41.42 L 58.97 41.09 L 58.72 40.77 L 58.45 40.45 L 58.17 40.15 L 57.89 39.85 L 57.59 39.56 L 57.28 39.28 L 56.96 39.01 L 56.63 38.74 L 56.29 38.49 L 55.94 38.25 L 55.58 38.02 L 55.21 37.80 L 54.83 37.59 L 54.45 37.39 L 54.06 37.20 L 53.66 37.03 L 53.25 36.87 L 52.84 36.72 L 52.42 36.58 L 52.00 36.46 L 51.57 36.35 L 51.13 36.26 L 50.70 36.18 L 50.25 36.11 L 49.81 36.06 L 49.36 36.02 L 48.90 35.99 L 48.45 35.98 L 47.99 35.99 L 47.53 36.01 L 47.07 36.05 L 46.62 36.10 L 46.16 36.16 L 45.70 36.24 L 45.24 36.34 L 44.79 36.45 L 44.34 36.58 L 43.89 36.72 L 43.44 36.87 L 43.00 37.05 L 42.56 37.23 L 42.12 37.43 L 41.70 37.65 L 41.27 37.88 L 40.86 38.13 L 40.45 38.39 L 40.04 38.66 L 39.65 38.95 L 39.26 39.25 L 38.89 39.56 L 38.52 39.89 L 38.16 40.23 L 37.81 40.59 L 37.47 40.95 L 37.14 41.33 L 36.83 41.72 L 36.52 42.12 L 36.23 42.53 L 35.95 42.95 L 35.69 43.39 L 35.43 43.83 L 35.20 44.28 L 34.97 44.74 L 34.76 45.21 L 34.56 45.69 L 34.38 46.18 L 34.22 46.67 L 34.07 47.17 L 33.93 47.67 L 33.81 48.18 L 33.71 48.70 L 33.63 49.22 L 33.56 49.75 L 33.51 50.28 L 33.47 50.81 L 33.46 51.34 L 33.46 51.88 L 33.47 52.42 L 33.51 52.96 L 33.56 53.49 L 33.63 54.03 L 33.72 54.57 L 33.82 55.11 L 33.95 55.64 L 34.09 56.17 L 34.25 56.70 L 34.42 57.22 L 34.62 57.74 L 34.83 58.26 L 35.05 58.77 L 35.30 59.27 L 35.56 59.77 L 35.84 60.26 L 36.14 60.74 L 36.45 61.21 L 36.78 61.67 L 37.12 62.13 L 37.48 62.57 L 37.85 63.01 L 38.24 63.43 L 38.65 63.84 L 39.07 64.24 L 39.50 64.62 L 39.95 65.00 L 40.40 65.36 L 40.88 65.70 L 41.36 66.03 L 41.86 66.35 L 42.36 66.65 L 42.88 66.93 L 43.41 67.20 L 43.95 67.45 L 44.50 67.69 L 45.05 67.91 L 45.62 68.11 L 46.19 68.29 L 46.77 68.45 L 47.36 68.60 L 47.95 68.72 L 48.55 68.83 L 49.15 68.92 L 49.76 68.99 L 50.37 69.04 L 50.99 69.07 L 51.60 69.08 L 52.22 69.07 L 52.84 69.04 L 53.46 68.99 L 54.08 68.92 L 54.70 68.83 L 55.31 68.72 L 55.93 68.59 L 56.54 68.44 L 57.14 68.27 L 57.75 68.08 L 58.35 67.87 L 58.94 67.64 L 59.53 67.39 L 60.11 67.12 L 60.68 66.83 L 61.24 66.52 L 61.80 66.19 L 62.34 65.84 L 62.88 65.48 L 63.40 65.10 L 63.92 64.70 L 64.42 64.28 L 64.91 63.84 L 65.38 63.39 L 65.85 62.92 L 66.30 62.44 L 66.73 61.94 L 67.15 61.43 L 67.55 60.90 L 67.93 60.35 L 68.30 59.80 L 68.66 59.23 L 68.99 58.65 L 69.31 58.05 L 69.60 57.45 L 69.88 56.83 L 70.14 56.20 L 70.38 55.57 L 70.60 54.92 L 70.80 54.27 L 70.97 53.61 L 71.13 52.94 L 71.27 52.27 L 71.38 51.58 L 71.47 50.90 L 71.54 50.21 L 71.59 49.52 L 71.61 48.82 L 71.62 48.12 L 71.60 47.42 L 71.55 46.72 L 71.49 46.02 L 71.40 45.33 L 71.29 44.63 L 71.16 43.93 L 71.00 43.24 L 70.82 42.55 L 70.62 41.87 L 70.40 41.19 L 70.15 40.52 L 69.88 39.85 L 69.59 39.19 L 69.28 38.54 L 68.95 37.90 L 68.59 37.27 L 68.21 36.65 L 67.82 36.04 L 67.40 35.44 L 66.96 34.86 L 66.50 34.28 L 66.03 33.72 L 65.53 33.18 L 65.02 32.65 L 64.49 32.14 L 63.94 31.64 L 63.37 31.16 L 62.79 30.70 L 62.19 30.25 L 61.57 29.83 L 60.94 29.42 L 60.30 29.03 L 59.64 28.66 L 58.97 28.32 L 58.29 27.99 L 57.60 27.69 L 56.89 27.40 L 56.18 27.14 L 55.45 26.91 L 54.72 26.69 L 53.97 26.50 L 53.22 26.34 L 52.47 26.19 L 51.71 26.07 L 50.94 25.98 L 50.17 25.91 L 49.39 25.86 L 48.62 25.84 L 47.84 25.85 L 47.06 25.88 L 46.27 25.94 L 45.49 26.02 L 44.72 26.12 L 43.94 26.25 L 43.16 26.41 L 42.39 26.59 L 41.63 26.80 L 40.87 27.03 L 40.12 27.29 L 39.37 27.57 L 38.63 27.88 L 37.90 28.21 L 37.18 28.57 L 36.47 28.94 L 35.77 29.35 L 35.09 29.77 L 34.41 30.22 L 33.75 30.69 L 33.11 31.18 L 32.47 31.70 L 31.86 32.23 L 31.26 32.79 L 30.68 33.37 L 30.11 33.96 L 29.57 34.58 L 29.04 35.21 L 28.53 35.87 L 28.04 36.54 L 27.58 37.22 L 27.13 37.92 L 26.71 38.64 L 26.31 39.37 L 25.93 40.12 L 25.58 40.88 L 25.25 41.65 L 24.95 42.44 L 24.66 43.23 L 24.41 44.04 L 24.18 44.85 L 23.98 45.67 L 23.80 46.50 L 23.65 47.34 L 23.53 48.19 L 23.43 49.03 L 23.36 49.89 L 23.32 50.75 L 23.30 51.60 L 23.32 52.47 L 23.36 53.33 L 23.43 54.19 L 23.53 55.05 L 23.65 55.91 L 23.80 56.77 L 23.98 57.62 L 24.19 58.47 L 24.43 59.31 L 24.69 60.14 L 24.98 60.97 L 25.30 61.79 L 25.65 62.60 L 26.02 63.40 L 26.42 64.19 L 26.84 64.97 L 27.29 65.74 L 27.77 66.49 L 28.27 67.23 L 28.79 67.95 L 29.34 68.66 L 29.91 69.35 L 30.51 70.02 L 31.12 70.67 L 31.76 71.31 L 32.43 71.92 L 33.11 72.52 L 33.81 73.09 L 34.53 73.64 L 35.27 74.17 L 36.03 74.68 L 36.80 75.16 L 37.60 75.62 L 38.40 76.05 L 39.23 76.46 L 40.06 76.84 L 40.91 77.19 L 41.78 77.52 L 42.65 77.82 L 43.54 78.09 L 44.43 78.34 L 45.33 78.55 L 46.25 78.74 L 47.17 78.89 L 48.09 79.02 L 49.02 79.12 L 49.96 79.19 L 50.90 79.23 L 51.84 79.24 L 52.78 79.21 L 53.73 79.16 L 54.67 79.08 L 55.61 78.96 L 56.55 78.82 L 57.48 78.64 L 58.41 78.44 L 59.34 78.20 L 60.26 77.94 L 61.17 77.64 L 62.07 77.32 L 62.96 76.96 L 63.85 76.58 L 64.72 76.17 L 65.58 75.72 L 66.43 75.25 L 67.26 74.76 L 68.07 74.23 L 68.88 73.68 L 69.66 73.10 L 70.43 72.50 L 71.17 71.87 L 71.90 71.21 L 72.61 70.53 L 73.30 69.83 L 73.96 69.10 L 74.61 68.35 L 75.23 67.58 L 75.82 66.79 L 76.39 65.98 L 76.94 65.15 L 77.46 64.30 L 77.95 63.44 L 78.41 62.55 L 78.85 61.66 L 79.26 60.74 L 79.64 59.81 L 79.99 58.87 L 80.31 57.92 L 80.59 56.95 L 80.85 55.97 L 81.08 54.99 L 81.28 54.00 L 81.44 52.99 L 81.57 51.99 L 81.67 50.97 L 81.74 49.96 L 81.77 48.93 L 81.77 47.91 L 81.74 46.89 L 81.68 45.86 L 81.58 44.84 L 81.45 43.82 L 81.28 42.80 L 81.09 41.79 L 80.86 40.78 L 80.60 39.77 L 80.30 38.78 L 79.97 37.79 L 79.61 36.82 L 79.22 35.85 L 78.80 34.89 L 78.34 33.95 L 77.86 33.02 L 77.34 32.11 L 76.80 31.21 L 76.22 30.33 L 75.62 29.46 L 74.98 28.62 L 74.32 27.79 L 73.63 26.99 L 72.92 26.20 L 72.18 25.44 L 71.41 24.70 L 70.62 23.99 L 69.80 23.29 L 68.97 22.63 L 68.11 21.99 L 67.22 21.38 L 66.32 20.80 L 65.40 20.24 L 64.46 19.71 L 63.50 19.22 L 62.52 18.75 L 61.53 18.32 L 60.52 17.91 L 59.50 17.54 L 58.47 17.20 L 57.42 16.90 L 56.37 16.63 L 55.30 16.39 L 54.22 16.18 L 53.14 16.01 L 52.05 15.88 L 50.96 15.78 L 49.86 15.71 L 48.75 15.68 L 47.65 15.69 L 46.54 15.73 L 45.44 15.81 L 44.33 15.92 L 43.23 16.07 L 42.13 16.25 L 41.04 16.47 L 39.95 16.73 L 38.87 17.02 L 37.80 17.34 L 36.74 17.70 L 35.69 18.10 L 34.65 18.53 L 33.62 18.99 L 32.61 19.49 L 31.61 20.02 L 30.63 20.58 L 29.67 21.17 L 28.72 21.80 L 27.79 22.46 L 26.89 23.15 L 26.00 23.86 L 25.14 24.61 L 24.30 25.39 L 23.48 26.19 L 22.69 27.02 L 21.93 27.88 L 21.19 28.76 L 20.48 29.66 L 19.80 30.59 L 19.14 31.55 L 18.52 32.52 L 17.93 33.52 L 17.37 34.53 L 16.84 35.57 L 16.35 36.62 L 15.89 37.69 L 15.46 38.78 L 15.07 39.88 L 14.71 40.99 L 14.39 42.12 L 14.10 43.26 L 13.85 44.40 L 13.64 45.56 L 13.47 46.73 L 13.33 47.90 L 13.23 49.08 L 13.16 50.26 L 13.14 51.44 L 13.15 52.63 L 13.20 53.82 L 13.29 55.00 L 13.42 56.19 L 13.59 57.37 L 13.79 58.55 L 14.04 59.72 L 14.32 60.88 L 14.64 62.04 L 14.99 63.19 L 15.39 64.32 L 15.82 65.45 L 16.28 66.56 L 16.79 67.66 L 17.32 68.74 L 17.90 69.81 L 18.51 70.86 L 19.15 71.89 L 19.83 72.90 L 20.54 73.89 L 21.28 74.86 L 22.06 75.80 L 22.86 76.72 L 23.70 77.62 L 24.57 78.49 L 25.46 79.33 L 26.38 80.14 L 27.33 80.93 L 28.31 81.68 L 29.31 82.41 L 30.33 83.10 L 31.38 83.76 L 32.45 84.39 L 33.54 84.98 L 34.65 85.54 L 35.78 86.06 L 36.93 86.55 L 38.09 87.00 L 39.27 87.41 L 40.47 87.79 L 41.67 88.12 L 42.89 88.42 L 44.12 88.68 L 45.36 88.90 L 46.61 89.08 L 47.86 89.22 L 49.12 89.32 L 50.38 89.38 L 51.65 89.40 L 52.92 89.38 L 54.19 89.32 L 55.46 89.22 L 56.72 89.07 L 57.98 88.89 L 59.24 88.66 L 60.49 88.40 L 61.73 88.09 L 62.97 87.74 L 64.19 87.35 L 65.40 86.93 L 66.60 86.46 L 67.79 85.96 L 68.96 85.41 L 70.11 84.83 L 71.24 84.21 L 72.36 83.55 L 73.46 82.86 L 74.53 82.13 L 75.58 81.37 L 76.61 80.57 L 77.62 79.74 L 78.59 78.87 L 79.54 77.98 L 80.46 77.05 L 81.36 76.09 L 82.22 75.10 L 83.05 74.08 L 83.85 73.04 L 84.62 71.97 L 85.35 70.87 L 86.05 69.75 L 86.71 68.61 L 87.33 67.44 L 87.92 66.25 L 88.47 65.05 L 88.99 63.82 L 89.46 62.58 L 89.89 61.32 L 90.29 60.04 L 90.64 58.76 L 90.95 57.46 L 91.22 56.15 L 91.45 54.82 L 91.63 53.50 L 91.78 52.16 L 91.88 50.82 L 91.93 49.47 L 91.95 48.12 L 91.92 46.77 L 91.84 45.42 L 91.73 44.08 L 91.56 42.73 L 91.36 41.39 L 91.11 40.05 L 90.82 38.72 L 90.49 37.40 L 90.11 36.09 L 89.69 34.79 L 89.23 33.51 L 88.73 32.23 L 88.19 30.98 L 87.60 29.74 L 86.98 28.51 L 86.31 27.31 L 85.61 26.13 L 84.87 24.96 L 84.09 23.83 L 83.27 22.71 L 82.41 21.62 L 81.52 20.56 L 80.60 19.53 L 79.64 18.52 L 78.65 17.55 L 77.63 16.61 L 76.57 15.69 L 75.49 14.82 L 74.37 13.97 L 73.23 13.17 L 72.06 12.39 L 70.87 11.66 L 69.65 10.96 L 68.41 10.30 L 67.15 9.69 L 65.86 9.11 L 64.56 8.57 L 63.23 8.08 L 61.90 7.62 L 60.54 7.21 L 59.17 6.84 L 57.79 6.52 L 56.40 6.24 L 55.00 6.01 L 53.59 5.82 L 52.17 5.67 L 50.74 5.57 L 49.32 5.52 L 47.89 5.51 L 46.46 5.55 L 45.02 5.64 L 43.59 5.77 L 42.17 5.95 L 40.75 6.17 L 39.33 6.44 L 37.93 6.75 L 36.53 7.11 L 35.14 7.52 L 33.76 7.97 L 32.40 8.46 L 31.06 9.00 L 29.73 9.59 L 28.42 10.21 L 27.12 10.88 L 25.85 11.59 L 24.60 12.34 L 23.37 13.14 L 22.17 13.97 L 21.00 14.84 L 19.85 15.75 L 18.73 16.70 L 17.64 17.68 L 16.58 18.70 L 15.55 19.76 L 14.56 20.85 L 13.60 21.97 L 12.68 23.12 L 11.79 24.31 L 10.94 25.52 L 10.13 26.76 L 9.36 28.03 L 8.63 29.32 L 7.94 30.64 L 7.29 31.98 L 6.68 33.34 L 6.12 34.72 L 5.61 36.12 L 5.13 37.54 L 4.70 38.97 L 4.32 40.42 L 3.99 41.89 L 3.70 43.36 L 3.46 44.85 L 3.27 46.34 L 3.12 47.84 L 3.02 49.34 L 2.97 50.85 L 2.97 52.37 L 3.02 53.88 L 3.12 55.39 L 3.26 56.90 L 3.46 58.41 L 3.70 59.91 L 3.99 61.40 L 4.33 62.89 L 4.72 64.36 L 5.16 65.83 L 5.64 67.28 L 6.17 68.71 L 6.75 70.13 L 7.37 71.53 L 8.04 72.92 L 8.75 74.28 L 9.51 75.62 L 10.31 76.94" fill="none" stroke="#4f66e6" stroke-width="1.1" opacity="0.6"/>
<path d="M 48.80 50.00 L 48.75 50.04 L 48.70 50.08 L 48.65 50.13 L 48.60 50.18 L 48.56 50.23 L 48.52 50.29 L 48.48 50.35 L 48.44 50.41 L 48.40 50.48 L 48.37 50.54 L 48.34 50.61 L 48.31 50.69 L 48.28 50.76 L 48.26 50.84 L 48.24 50.92 L 48.23 51.00 L 48.22 51.08 L 48.21 51.17 L 48.21 51.25 L 48.21 51.34 L 48.21 51.43 L 48.22 51.52 L 48.23 51.61 L 48.24 51.71 L 48.26 51.80 L 48.29 51.89 L 48.31 51.99 L 48.35 52.08 L 48.38 52.17 L 48.42 52.27 L 48.47 52.36 L 48.52 52.45 L 48.57 52.54 L 48.63 52.63 L 48.69 52.72 L 48.76 52.81 L 48.83 52.90 L 48.91 52.98 L 48.99 53.07 L 49.07 53.15 L 49.16 53.23 L 49.25 53.30 L 49.35 53.38 L 49.45 53.45 L 49.56 53.51 L 49.66 53.58 L 49.78 53.64 L 49.89 53.70 L 50.01 53.75 L 50.13 53.80 L 50.26 53.84 L 50.39 53.89 L 50.52 53.92 L 50.65 53.96 L 50.79 53.98 L 50.93 54.01 L 51.07 54.03 L 51.21 54.04 L 51.36 54.05 L 51.51 54.05 L 51.66 54.05 L 51.81 54.04 L 51.96 54.03 L 52.11 54.01 L 52.26 53.98 L 52.42 53.95 L 52.57 53.92 L 52.73 53.88 L 52.88 53.83 L 53.03 53.77 L 53.19 53.71 L 53.34 53.65 L 53.49 53.58 L 53.64 53.50 L 53.79 53.41 L 53.94 53.32 L 54.08 53.23 L 54.23 53.13 L 54.37 53.02 L 54.51 52.90 L 54.64 52.79 L 54.78 52.66 L 54.90 52.53 L 55.03 52.39 L 55.15 52.25 L 55.27 52.10 L 55.38 51.95 L 55.49 51.79 L 55.60 51.63 L 55.70 51.46 L 55.79 51.29 L 55.88 51.11 L 55.97 50.93 L 56.04 50.75 L 56.12 50.56 L 56.18 50.36 L 56.24 50.17 L 56.30 49.96 L 56.35 49.76 L 56.39 49.55 L 56.42 49.34 L 56.45 49.13 L 56.47 48.92 L 56.48 48.70 L 56.49 48.48 L 56.48 48.26 L 56.48 48.04 L 56.46 47.81 L 56.43 47.59 L 56.40 47.36 L 56.36 47.14 L 56.31 46.91 L 56.25 46.69 L 56.19 46.46 L 56.12 46.24 L 56.04 46.01 L 55.95 45.79 L 55.85 45.57 L 55.75 45.35 L 55.63 45.14 L 55.51 44.92 L 55.38 44.71 L 55.25 44.50 L 55.10 44.30 L 54.95 44.10 L 54.79 43.90 L 54.62 43.71 L 54.45 43.52 L 54.27 43.34 L 54.08 43.16 L 53.88 42.99 L 53.68 42.82 L 53.47 42.66 L 53.25 42.50 L 53.03 42.35 L 52.80 42.21 L 52.56 42.08 L 52.32 41.95 L 52.07 41.83 L 51.82 41.71 L 51.56 41.61 L 51.30 41.51 L 51.03 41.42 L 50.76 41.34 L 50.49 41.27 L 50.21 41.21 L 49.93 41.15 L 49.64 41.11 L 49.35 41.07 L 49.06 41.05 L 48.76 41.03 L 48.47 41.02 L 48.17 41.02 L 47.87 41.04 L 47.57 41.06 L 47.27 41.09 L 46.97 41.14 L 46.67 41.19 L 46.37 41.25 L 46.07 41.33 L 45.77 41.41 L 45.47 41.51 L 45.17 41.61 L 44.88 41.73 L 44.59 41.85 L 44.30 41.99 L 44.01 42.13 L 43.73 42.29 L 43.45 42.45 L 43.18 42.63 L 42.91 42.82 L 42.64 43.01 L 42.38 43.22 L 42.13 43.43 L 41.88 43.66 L 41.64 43.89 L 41.40 44.13 L 41.18 44.38 L 40.96 44.64 L 40.74 44.91 L 40.54 45.19 L 40.34 45.47 L 40.15 45.76 L 39.97 46.06 L 39.80 46.37 L 39.64 46.68 L 39.49 47.00 L 39.35 47.33 L 39.22 47.66 L 39.10 48.00 L 38.99 48.34 L 38.89 48.69 L 38.80 49.04 L 38.72 49.40 L 38.66 49.76 L 38.60 50.13 L 38.56 50.50 L 38.53 50.87 L 38.51 51.24 L 38.51 51.62 L 38.51 51.99 L 38.53 52.37 L 38.56 52.75 L 38.61 53.13 L 38.67 53.51 L 38.73 53.89 L 38.82 54.27 L 38.91 54.64 L 39.02 55.02 L 39.14 55.39 L 39.27 55.76 L 39.42 56.13 L 39.58 56.49 L 39.75 56.85 L 39.93 57.21 L 40.12 57.56 L 40.33 57.91 L 40.55 58.25 L 40.78 58.58 L 41.03 58.91 L 41.28 59.23 L 41.55 59.55 L 41.83 59.85 L 42.11 60.15 L 42.41 60.44 L 42.72 60.72 L 43.04 60.99 L 43.37 61.26 L 43.71 61.51 L 44.06 61.75 L 44.42 61.98 L 44.79 62.20 L 45.17 62.41 L 45.55 62.61 L 45.94 62.80 L 46.34 62.97 L 46.75 63.13 L 47.16 63.28 L 47.58 63.42 L 48.00 63.54 L 48.43 63.65 L 48.87 63.74 L 49.30 63.82 L 49.75 63.89 L 50.19 63.94 L 50.64 63.98 L 51.10 64.01 L 51.55 64.02 L 52.01 64.01 L 52.47 63.99 L 52.93 63.95 L 53.38 63.90 L 53.84 63.84 L 54.30 63.76 L 54.76 63.66 L 55.21 63.55 L 55.66 63.42 L 56.11 63.28 L 56.56 63.13 L 57.00 62.95 L 57.44 62.77 L 57.88 62.57 L 58.30 62.35 L 58.73 62.12 L 59.14 61.87 L 59.55 61.61 L 59.96 61.34 L 60.35 61.05 L 60.74 60.75 L 61.11 60.44 L 61.48 60.11 L 61.84 59.77 L 62.19 59.41 L 62.53 59.05 L 62.86 58.67 L 63.17 58.28 L 63.48 57.88 L 63.77 57.47 L 64.05 57.05 L 64.31 56.61 L 64.57 56.17 L 64.80 55.72 L 65.03 55.26 L 65.24 54.79 L 65.44 54.31 L 65.62 53.82 L 65.78 53.33 L 65.93 52.83 L 66.07 52.33 L 66.19 51.82 L 66.29 51.30 L 66.37 50.78 L 66.44 50.25 L 66.49 49.72 L 66.53 49.19 L 66.54 48.66 L 66.54 48.12 L 66.53 47.58 L 66.49 47.04 L 66.44 46.51 L 66.37 45.97 L 66.28 45.43 L 66.18 44.89 L 66.05 44.36 L 65.91 43.83 L 65.75 43.30 L 65.58 42.78 L 65.38 42.26 L 65.17 41.74 L 64.95 41.23 L 64.70 40.73 L 64.44 40.23 L 64.16 39.74 L 63.86 39.26 L 63.55 38.79 L 63.22 38.33 L 62.88 37.87 L 62.52 37.43 L 62.15 36.99 L 61.76 36.57 L 61.35 36.16 L 60.93 35.76 L 60.50 35.38 L 60.05 35.00 L 59.60 34.64 L 59.12 34.30 L 58.64 33.97 L 58.14 33.65 L 57.64 33.35 L 57.12 33.07 L 56.59 32.80 L 56.05 32.55 L 55.50 32.31 L 54.95 32.09 L 54.38 31.89 L 53.81 31.71 L 53.23 31.55 L 52.64 31.40 L 52.05 31.28 L 51.45 31.17 L 50.85 31.08 L 50.24 31.01 L 49.63 30.96 L 49.01 30.93 L 48.40 30.92 L 47.78 30.93 L 47.16 30.96 L 46.54 31.01 L 45.92 31.08 L 45.30 31.17 L 44.69 31.28 L 44.07 31.41 L 43.46 31.56 L 42.86 31.73 L 42.25 31.92 L 41.65 32.13 L 41.06 32.36 L 40.47 32.61 L 39.89 32.88 L 39.32 33.17 L 38.76 33.48 L 38.20 33.81 L 37.66 34.16 L 37.12 34.52 L 36.60 34.90 L 36.08 35.30 L 35.58 35.72 L 35.09 36.16 L 34.62 36.61 L 34.15 37.08 L 33.70 37.56 L 33.27 38.06 L 32.85 38.57 L 32.45 39.10 L 32.07 39.65 L 31.70 40.20 L 31.34 40.77 L 31.01 41.35 L 30.69 41.95 L 30.40 42.55 L 30.12 43.17 L 29.86 43.80 L 29.62 44.43 L 29.40 45.08 L 29.20 45.73 L 29.03 46.39 L 28.87 47.06 L 28.73 47.73 L 28.62 48.42 L 28.53 49.10 L 28.46 49.79 L 28.41 50.48 L 28.39 51.18 L 28.38 51.88 L 28.40 52.58 L 28.45 53.28 L 28.51 53.98 L 28.60 54.67 L 28.71 55.37 L 28.84 56.07 L 29.00 56.76 L 29.18 57.45 L 29.38 58.13 L 29.60 58.81 L 29.85 59.48 L 30.12 60.15 L 30.41 60.81 L 30.72 61.46 L 31.05 62.10 L 31.41 62.73 L 31.79 63.35 L 32.18 63.96 L 32.60 64.56 L 33.04 65.14 L 33.50 65.72 L 33.97 66.28 L 34.47 66.82 L 34.98 67.35 L 35.51 67.86 L 36.06 68.36 L 36.63 68.84 L 37.21 69.30 L 37.81 69.75 L 38.43 70.17 L 39.06 70.58 L 39.70 70.97 L 40.36 71.34 L 41.03 71.68 L 41.71 72.01 L 42.40 72.31 L 43.11 72.60 L 43.82 72.86 L 44.55 73.09 L 45.28 73.31 L 46.03 73.50 L 46.78 73.66 L 47.53 73.81 L 48.29 73.93 L 49.06 74.02 L 49.83 74.09 L 50.61 74.14 L 51.38 74.16 L 52.16 74.15 L 52.94 74.12 L 53.73 74.06 L 54.51 73.98 L 55.28 73.88 L 56.06 73.75 L 56.84 73.59 L 57.61 73.41 L 58.37 73.20 L 59.13 72.97 L 59.88 72.71 L 60.63 72.43 L 61.37 72.12 L 62.10 71.79 L 62.82 71.43 L 63.53 71.06 L 64.23 70.65 L 64.91 70.23 L 65.59 69.78 L 66.25 69.31 L 66.89 68.82 L 67.53 68.30 L 68.14 67.77 L 68.74 67.21 L 69.32 66.63 L 69.89 66.04 L 70.43 65.42 L 70.96 64.79 L 71.47 64.13 L 71.96 63.46 L 72.42 62.78 L 72.87 62.08 L 73.29 61.36 L 73.69 60.63 L 74.07 59.88 L 74.42 59.12 L 74.75 58.35 L 75.05 57.56 L 75.34 56.77 L 75.59 55.96 L 75.82 55.15 L 76.02 54.33 L 76.20 53.50 L 76.35 52.66 L 76.47 51.81 L 76.57 50.97 L 76.64 50.11 L 76.68 49.25 L 76.70 48.40 L 76.68 47.53 L 76.64 46.67 L 76.57 45.81 L 76.47 44.95 L 76.35 44.09 L 76.20 43.23 L 76.02 42.38 L 75.81 41.53 L 75.57 40.69 L 75.31 39.86 L 75.02 39.03 L 74.70 38.21 L 74.35 37.40 L 73.98 36.60 L 73.58 35.81 L 73.16 35.03 L 72.71 34.26 L 72.23 33.51 L 71.73 32.77 L 71.21 32.05 L 70.66 31.34 L 70.09 30.65 L 69.49 29.98 L 68.88 29.33 L 68.24 28.69 L 67.57 28.08 L 66.89 27.48 L 66.19 26.91 L 65.47 26.36 L 64.73 25.83 L 63.97 25.32 L 63.20 24.84 L 62.40 24.38 L 61.60 23.95 L 60.77 23.54 L 59.94 23.16 L 59.09 22.81 L 58.22 22.48 L 57.35 22.18 L 56.46 21.91 L 55.57 21.66 L 54.67 21.45 L 53.75 21.26 L 52.83 21.11 L 51.91 20.98 L 50.98 20.88 L 50.04 20.81 L 49.10 20.77 L 48.16 20.76 L 47.22 20.79 L 46.27 20.84 L 45.33 20.92 L 44.39 21.04 L 43.45 21.18 L 42.52 21.36 L 41.59 21.56 L 40.66 21.80 L 39.74 22.06 L 38.83 22.36 L 37.93 22.68 L 37.04 23.04 L 36.15 23.42 L 35.28 23.83 L 34.42 24.28 L 33.57 24.75 L 32.74 25.24 L 31.93 25.77 L 31.12 26.32 L 30.34 26.90 L 29.57 27.50 L 28.83 28.13 L 28.10 28.79 L 27.39 29.47 L 26.70 30.17 L 26.04 30.90 L 25.39 31.65 L 24.77 32.42 L 24.18 33.21 L 23.61 34.02 L 23.06 34.85 L 22.54 35.70 L 22.05 36.56 L 21.59 37.45 L 21.15 38.34 L 20.74 39.26 L 20.36 40.19 L 20.01 41.13 L 19.69 42.08 L 19.41 43.05 L 19.15 44.03 L 18.92 45.01 L 18.72 46.00 L 18.56 47.01 L 18.43 48.01 L 18.33 49.03 L 18.26 50.04 L 18.23 51.07 L 18.23 52.09 L 18.26 53.11 L 18.32 54.14 L 18.42 55.16 L 18.55 56.18 L 18.72 57.20 L 18.91 58.21 L 19.14 59.22 L 19.40 60.23 L 19.70 61.22 L 20.03 62.21 L 20.39 63.18 L 20.78 64.15 L 21.20 65.11 L 21.66 66.05 L 22.14 66.98 L 22.66 67.89 L 23.20 68.79 L 23.78 69.67 L 24.38 70.54 L 25.02 71.38 L 25.68 72.21 L 26.37 73.01 L 27.08 73.80 L 27.82 74.56 L 28.59 75.30 L 29.38 76.01 L 30.20 76.71 L 31.03 77.37 L 31.89 78.01 L 32.78 78.62 L 33.68 79.20 L 34.60 79.76 L 35.54 80.29 L 36.50 80.78 L 37.48 81.25 L 38.47 81.68 L 39.48 82.09 L 40.50 82.46 L 41.53 82.80 L 42.58 83.10 L 43.63 83.37 L 44.70 83.61 L 45.78 83.82 L 46.86 83.99 L 47.95 84.12 L 49.04 84.22 L 50.14 84.29 L 51.25 84.32 L 52.35 84.31 L 53.46 84.27 L 54.56 84.19 L 55.67 84.08 L 56.77 83.93 L 57.87 83.75 L 58.96 83.53 L 60.05 83.27 L 61.13 82.98 L 62.20 82.66 L 63.26 82.30 L 64.31 81.90 L 65.35 81.47 L 66.38 81.01 L 67.39 80.51 L 68.39 79.98 L 69.37 79.42 L 70.33 78.83 L 71.28 78.20 L 72.21 77.54 L 73.11 76.85 L 74.00 76.14 L 74.86 75.39 L 75.70 74.61 L 76.52 73.81 L 77.31 72.98 L 78.07 72.12 L 78.81 71.24 L 79.52 70.34 L 80.20 69.41 L 80.86 68.45 L 81.48 67.48 L 82.07 66.48 L 82.63 65.47 L 83.16 64.43 L 83.65 63.38 L 84.11 62.31 L 84.54 61.22 L 84.93 60.12 L 85.29 59.01 L 85.61 57.88 L 85.90 56.74 L 86.15 55.60 L 86.36 54.44 L 86.53 53.27 L 86.67 52.10 L 86.77 50.92 L 86.84 49.74 L 86.86 48.56 L 86.85 47.37 L 86.80 46.18 L 86.71 45.00 L 86.58 43.81 L 86.41 42.63 L 86.21 41.45 L 85.96 40.28 L 85.68 39.12 L 85.36 37.96 L 85.01 36.81 L 84.61 35.68 L 84.18 34.55 L 83.72 33.44 L 83.21 32.34 L 82.68 31.26 L 82.10 30.19 L 81.49 29.14 L 80.85 28.11 L 80.17 27.10 L 79.46 26.11 L 78.72 25.14 L 77.94 24.20 L 77.14 23.28 L 76.30 22.38 L 75.43 21.51 L 74.54 20.67 L 73.62 19.86 L 72.67 19.07 L 71.69 18.32 L 70.69 17.59 L 69.67 16.90 L 68.62 16.24 L 67.55 15.61 L 66.46 15.02 L 65.35 14.46 L 64.22 13.94 L 63.07 13.45 L 61.91 13.00 L 60.73 12.59 L 59.53 12.21 L 58.33 11.88 L 57.11 11.58 L 55.88 11.32 L 54.64 11.10 L 53.39 10.92 L 52.14 10.78 L 50.88 10.68 L 49.62 10.62 L 48.35 10.60 L 47.08 10.62 L 45.81 10.68 L 44.54 10.78 L 43.28 10.93 L 42.02 11.11 L 40.76 11.34 L 39.51 11.60 L 38.27 11.91 L 37.03 12.26 L 35.81 12.65 L 34.60 13.07 L 33.40 13.54 L 32.21 14.04 L 31.04 14.59 L 29.89 15.17 L 28.76 15.79 L 27.64 16.45 L 26.54 17.14 L 25.47 17.87 L 24.42 18.63 L 23.39 19.43 L 22.38 20.26 L 21.41 21.13 L 20.46 22.02 L 19.54 22.95 L 18.64 23.91 L 17.78 24.90 L 16.95 25.92 L 16.15 26.96 L 15.38 28.03 L 14.65 29.13 L 13.95 30.25 L 13.29 31.39 L 12.67 32.56 L 12.08 33.75 L 11.53 34.95 L 11.01 36.18 L 10.54 37.42 L 10.11 38.68 L 9.71 39.96 L 9.36 41.24 L 9.05 42.54 L 8.78 43.85 L 8.55 45.18 L 8.37 46.50 L 8.22 47.84 L 8.12 49.18 L 8.07 50.53 L 8.05 51.88 L 8.08 53.23 L 8.16 54.58 L 8.27 55.92 L 8.44 57.27 L 8.64 58.61 L 8.89 59.95 L 9.18 61.28 L 9.51 62.60 L 9.89 63.91 L 10.31 65.21 L 10.77 66.49 L 11.27 67.77 L 11.81 69.02 L 12.40 70.26 L 13.02 71.49 L 13.69 72.69 L 14.39 73.87 L 15.13 75.04 L 15.91 76.17 L 16.73 77.29 L 17.59 78.38 L 18.48 79.44 L 19.40 80.47 L 20.36 81.48 L 21.35 82.45 L 22.37 83.39 L 23.43 84.31 L 24.51 85.18 L 25.63 86.03 L 26.77 86.83 L 27.94 87.61 L 29.13 88.34 L 30.35 89.04 L 31.59 89.70 L 32.85 90.31 L 34.14 90.89 L 35.44 91.43 L 36.77 91.92 L 38.10 92.38 L 39.46 92.79 L 40.83 93.16 L 42.21 93.48 L 43.60 93.76 L 45.00 93.99 L 46.41 94.18 L 47.83 94.33 L 49.26 94.43 L 50.68 94.48 L 52.11 94.49 L 53.54 94.45 L 54.98 94.36 L 56.41 94.23 L 57.83 94.05 L 59.25 93.83 L 60.67 93.56 L 62.07 93.25 L 63.47 92.89 L 64.86 92.48 L 66.24 92.03 L 67.60 91.54 L 68.94 91.00 L 70.27 90.41 L 71.58 89.79 L 72.88 89.12 L 74.15 88.41 L 75.40 87.66 L 76.63 86.86 L 77.83 86.03 L 79.00 85.16 L 80.15 84.25 L 81.27 83.30 L 82.36 82.32 L 83.42 81.30 L 84.45 80.24 L 85.44 79.15 L 86.40 78.03 L 87.32 76.88 L 88.21 75.69 L 89.06 74.48 L 89.87 73.24 L 90.64 71.97 L 91.37 70.68 L 92.06 69.36 L 92.71 68.02 L 93.32 66.66 L 93.88 65.28 L 94.39 63.88 L 94.87 62.46 L 95.30 61.03 L 95.68 59.58 L 96.01 58.11 L 96.30 56.64 L 96.54 55.15 L 96.73 53.66 L 96.88 52.16 L 96.98 50.66 L 97.03 49.15 L 97.03 47.63 L 96.98 46.12 L 96.88 44.61 L 96.74 43.10 L 96.54 41.59 L 96.30 40.09 L 96.01 38.60 L 95.67 37.11 L 95.28 35.64 L 94.84 34.17 L 94.36 32.72 L 93.83 31.29 L 93.25 29.87 L 92.63 28.47 L 91.96 27.08 L 91.25 25.72 L 90.49 24.38 L 89.69 23.06" fill="none" stroke="#4f66e6" stroke-width="1.1" opacity="0.6"/>
<circle cx="50" cy="50" r="8" fill="#4a80d0" opacity="0.35" filter="url(#sb2)"/><circle cx="50" cy="50" r="2.2" fill="#d0a030" opacity="0.9"/></g>
</g>
<g id="ksub">
<rect x="0" y="0" width="100" height="100" fill="#3c3cac"/>
<circle cx="50" cy="50" r="45" fill="#4262d4" filter="url(#speck)"/>
<circle cx="50" cy="50" r="45" fill="url(#gKsub)" opacity="0.6"/>
<ellipse cx="47" cy="54" rx="20" ry="11" transform="rotate(32 47 54)" fill="#5a90e0" opacity="0.8" filter="url(#sb2)"/>
<ellipse cx="48" cy="54" rx="15" ry="5" transform="rotate(32 48 54)" fill="#98c868" opacity="0.65" filter="url(#sb2)"/>
<circle cx="49" cy="55" r="1.8" fill="#f0c040"/>
</g>
<filter id="cb" x="-50%" y="-50%" width="200%" height="200%"><feGaussianBlur stdDeviation="6"/></filter>
<filter id="cb2" x="-50%" y="-50%" width="200%" height="200%"><feGaussianBlur stdDeviation="2.5"/></filter>
<g id="coil1" clip-path="url(#c100)">
<rect x="0" y="0" width="100" height="100" fill="#3a3a3a"/><g filter="url(#cb2)"><path d="M 12 92 C 12 60, 35 28, 72 2 L 104 -4 L 104 104 L 12 104 Z" fill="#9a9a9a"/></g><g filter="url(#cb)"><ellipse cx="48" cy="48" rx="28" ry="22" transform="rotate(-35 48 48)" fill="#eeeeee"/><rect x="-10" y="88" width="120" height="20" fill="#222"/><ellipse cx="98" cy="80" rx="14" ry="30" fill="#555"/><ellipse cx="0" cy="0" rx="30" ry="30" fill="#303030"/></g>
</g>
<g id="coil2" clip-path="url(#c100)">
<rect x="0" y="0" width="100" height="100" fill="#2a2a2a"/><g filter="url(#cb2)"><path d="M 12 80 C 10 50, 30 25, 55 12 C 80 5, 100 20, 100 50 L 100 104 L 40 104 C 25 100, 14 92, 12 80 Z" fill="#5a5a5a"/></g><g filter="url(#cb)"><ellipse cx="40" cy="62" rx="20" ry="28" transform="rotate(20 40 62)" fill="#c8c8c8"/></g><g filter="url(#cb2)"><ellipse cx="24" cy="58" rx="5" ry="14" transform="rotate(15 24 58)" fill="#f4f4f4"/></g>
</g>
<g id="coil3" clip-path="url(#c100)">
<rect x="0" y="0" width="100" height="100" fill="#a8a8a8"/><g filter="url(#cb2)"><path d="M 12 104 C 12 60, 40 25, 62 -4 L 104 -4 L 104 104 Z" fill="#3a3a3a"/></g><g filter="url(#cb)"><ellipse cx="78" cy="72" rx="30" ry="22" transform="rotate(-20 78 72)" fill="#f4f4f4"/><ellipse cx="30" cy="85" rx="16" ry="16" fill="#1a1a1a"/></g>
</g>
<g id="coil4" clip-path="url(#c100)">
<rect x="0" y="0" width="100" height="100" fill="#8a8a8a"/><g filter="url(#cb2)"><path d="M 12 104 C 12 60, 40 25, 62 -4 L 104 -4 L 104 104 Z" fill="#1e1e1e"/></g><g filter="url(#cb)"><ellipse cx="80" cy="22" rx="34" ry="26" transform="rotate(-25 80 22)" fill="#f0f0f0"/><ellipse cx="90" cy="5" rx="20" ry="10" fill="#ffffff"/></g>
</g>
</defs>
<text x="972" y="95.5" font-size="75.2" font-weight="normal" font-style="normal" text-anchor="start" fill="#000" >(A) Neural Network Architecture</text>
<text x="1063.5" y="184.8" font-size="46" font-weight="bold" font-style="normal" text-anchor="start" fill="#000" >Input</text>
<text x="1032.5" y="242" font-size="41.8" font-weight="normal" font-style="normal" text-anchor="start" fill="#000" ><tspan font-style="italic">N</tspan> x <tspan font-style="italic">N</tspan> x <tspan font-style="italic">D</tspan></text>
<text x="1489" y="215.5" font-size="37" font-weight="normal" font-style="normal" text-anchor="start" fill="#000" >Number of filters</text>
<line x1="1481" y1="213" x2="1438" y2="237" stroke="#000" stroke-width="1.6"/>
<polygon points="1428,243 1436,232 1441,241" fill="#000"/>
<g transform="matrix(1.00000 0.55809 0.00000 1.00000 1081.40 270.80)">
<rect x="2.15" y="2.15" width="171.29999999999998" height="198.29999999999998" fill="#fff" stroke="#000" stroke-width="4.3"/>
<rect x="10.8" y="10.8" width="154.0" height="181.0" fill="url(#pnoiseA)" filter="url(#nblur)"/>
</g>
<g transform="matrix(1.00000 0.55809 0.00000 1.00000 1037.70 293.40)">
<rect x="2.15" y="2.15" width="171.29999999999998" height="198.29999999999998" fill="#fff" stroke="#000" stroke-width="4.3"/>
<rect x="10.8" y="10.8" width="154.0" height="181.0" fill="url(#pnoiseA)" filter="url(#nblur)"/>
</g>
<g transform="matrix(1.00000 0.55809 0.00000 1.00000 1009.70 324.60)">
<rect x="2.15" y="2.15" width="171.29999999999998" height="198.29999999999998" fill="#fff" stroke="#000" stroke-width="4.3"/>
<rect x="10.8" y="10.8" width="154.0" height="181.0" fill="url(#pnoiseA)" filter="url(#nblur)"/>
</g>
<rect x="1392.95" y="307.95" width="71.8" height="184" fill="#85ad53" stroke="#000" stroke-width="2.5" />
<rect x="1586.95" y="321.95" width="75.8" height="157" fill="#85ad53" stroke="#000" stroke-width="2.5" />
<rect x="1775.95" y="328.95" width="92.8" height="143" fill="#85ad53" stroke="#000" stroke-width="2.5" />
<rect x="1985.95" y="342.95" width="117.8" height="115" fill="#85ad53" stroke="#000" stroke-width="2.5" />
<rect x="2246.95" y="702.95" width="149.8" height="83" fill="#85ad53" stroke="#000" stroke-width="2.5" />
<rect x="1390.95" y="651.95" width="70.8" height="184" fill="#eebe31" stroke="#000" stroke-width="2.5" />
<rect x="1581.95" y="665.95" width="75.8" height="156" fill="#eebe31" stroke="#000" stroke-width="2.5" />
<rect x="1780.95" y="672.95" width="91.8" height="142" fill="#eebe31" stroke="#000" stroke-width="2.5" />
<rect x="1985.95" y="686.95" width="117.8" height="115" fill="#eebe31" stroke="#000" stroke-width="2.5" />
<rect x="1383.95" y="995.95" width="71.8" height="182" fill="#d80000" stroke="#000" stroke-width="2.5" />
<rect x="1586.95" y="1006.95" width="75.8" height="157" fill="#d80000" stroke="#000" stroke-width="2.5" />
<rect x="1780.95" y="1015.95" width="91.8" height="141" fill="#d80000" stroke="#000" stroke-width="2.5" />
<rect x="1987.95" y="1027.95" width="117.8" height="115" fill="#d80000" stroke="#000" stroke-width="2.5" />
<rect x="1030.95" y="990.95" width="70.8" height="182" fill="#eebe31" stroke="#000" stroke-width="2.5" />
<rect x="1203.95" y="990.95" width="70.8" height="182" fill="#eebe31" stroke="#000" stroke-width="2.5" />
<text x="1426.75" y="293.6" font-size="41" font-weight="normal" font-style="normal" text-anchor="middle" fill="#000" >128</text>
<text x="1624" y="306" font-size="41" font-weight="normal" font-style="normal" text-anchor="middle" fill="#000" >128</text>
<text x="1822.5" y="321" font-size="41" font-weight="normal" font-style="normal" text-anchor="middle" fill="#000" >128</text>
<text x="2043.5" y="332" font-size="41" font-weight="normal" font-style="normal" text-anchor="middle" fill="#000" >128</text>
<text x="2314.5" y="684" font-size="41" font-weight="normal" font-style="normal" text-anchor="middle" fill="#000" >128</text>
<text x="1427" y="644" font-size="41" font-weight="normal" font-style="normal" text-anchor="middle" fill="#000" >4</text>
<text x="1618.5" y="649" font-size="41" font-weight="normal" font-style="normal" text-anchor="middle" fill="#000" >4</text>
<text x="1824.5" y="645" font-size="41" font-weight="normal" font-style="normal" text-anchor="middle" fill="#000" >4</text>
<text x="2042" y="672" font-size="41" font-weight="normal" font-style="normal" text-anchor="middle" fill="#000" >4</text>
<text x="1422" y="987" font-size="41" font-weight="normal" font-style="normal" text-anchor="middle" fill="#000" >128</text>
<text x="1619.5" y="1000" font-size="41" font-weight="normal" font-style="normal" text-anchor="middle" fill="#000" >128</text>
<text x="1826" y="1007" font-size="41" font-weight="normal" font-style="normal" text-anchor="middle" fill="#000" >128</text>
<text x="2045.5" y="1020" font-size="41" font-weight="normal" font-style="normal" text-anchor="middle" fill="#000" >128</text>
<text x="1069" y="981" font-size="41" font-weight="normal" font-style="normal" text-anchor="middle" fill="#000" >300</text>
<text x="1242" y="981" font-size="41" font-weight="normal" font-style="normal" text-anchor="middle" fill="#000" >300</text>
<polygon points="1284,410 1341,410 1341,420.5 1371,405 1341,389.5 1341,400 1284,400" fill="#000"/>
<polygon points="1481,405 1537,405 1537,415.5 1567,400 1537,384.5 1537,395 1481,395" fill="#000"/>
<polygon points="1677,410 1733,410 1733,420.5 1763,405 1733,389.5 1733,400 1677,400" fill="#000"/>
<polygon points="1880,405 1936,405 1936,415.5 1966,400 1936,384.5 1936,395 1880,395" fill="#000"/>
<polygon points="1420,508.5 1420,565 1409.5,565 1425,595 1440.5,565 1430,565 1430,508.5" fill="#000"/>
<polygon points="1621,509 1621,565 1610.5,565 1626,595 1641.5,565 1631,565 1631,509" fill="#000"/>
<polygon points="1821,513 1821,570 1810.5,570 1826,600 1841.5,570 1831,570 1831,513" fill="#000"/>
<polygon points="2041,513 2041,570 2030.5,570 2046,600 2061.5,570 2051,570 2051,513" fill="#000"/>
<polygon points="1417,851 1417,906 1406.5,906 1422,936 1437.5,906 1427,906 1427,851" fill="#000"/>
<polygon points="1616,851 1616,906 1605.5,906 1621,936 1636.5,906 1626,906 1626,851" fill="#000"/>
<polygon points="1816,855 1816,911 1805.5,911 1821,941 1836.5,911 1826,911 1826,855" fill="#000"/>
<polygon points="2039,855 2039,911 2028.5,911 2044,941 2059.5,911 2049,911 2049,855" fill="#000"/>
<polygon points="1971,1080 1915,1080 1915,1069.5 1885,1085 1915,1100.5 1915,1090 1971,1090" fill="#000"/>
<polygon points="1763,1080 1707,1080 1707,1069.5 1677,1085 1707,1100.5 1707,1090 1763,1090" fill="#000"/>
<polygon points="1560,1080 1505,1080 1505,1069.5 1475,1085 1505,1100.5 1505,1090 1560,1090" fill="#000"/>
<polygon points="1371,1080 1316,1080 1316,1069.5 1286,1085 1316,1100.5 1316,1090 1371,1090" fill="#000"/>
<polygon points="1197,1080 1142,1080 1142,1069.5 1112,1085 1142,1100.5 1142,1090 1197,1090" fill="#000"/>
<polygon points="1022,1080 966,1080 966,1069.5 936,1085 966,1100.5 966,1090 1022,1090" fill="#000"/>
<polygon points="2129.47,433.12 2241.33,595.75 2233.09,601.42 2264,619 2258.64,583.85 2250.4,589.52 2138.53,426.88" fill="#000"/>
<polygon points="2282.47,814.88 2170.6,977.52 2162.36,971.85 2157,1007 2187.91,989.42 2179.67,983.75 2291.53,821.12" fill="#000"/>
<rect x="2429" y="243" width="476" height="978.5" rx="80" ry="80" fill="#fff" stroke="#000" stroke-width="2.2"/>
<text x="2590" y="291" font-size="36" font-weight="bold" font-style="normal" text-anchor="start" fill="#000" >Legend</text>
<rect x="2470" y="310" width="42" height="42" fill="#85ad53" stroke="#000" stroke-width="2" />
<rect x="2470" y="649" width="42" height="42" fill="#d80000" stroke="#000" stroke-width="2" />
<rect x="2470" y="1023.5" width="42" height="41.5" fill="#eebe31" stroke="#000" stroke-width="2" />
<text x="2532" y="342" font-size="36.6" font-weight="normal" font-style="italic" text-anchor="start" fill="#000" >Downsampling</text>
<rect x="2532" y="346.2" width="240.5" height="2" fill="#000"/>
<text x="2530" y="681.2" font-size="36.4" font-weight="normal" font-style="italic" text-anchor="start" fill="#000" >Upsampling</text>
<rect x="2528" y="685.8" width="194.5" height="2.2" fill="#000"/>
<text x="2530" y="1057.4" font-size="35.4" font-weight="normal" font-style="italic" text-anchor="start" fill="#000" >Skip</text>
<rect x="2527.5" y="1061.8" width="69.5" height="2.2" fill="#000"/>
<text x="2486" y="392.5" font-size="27.5" font-weight="normal" font-style="normal" text-anchor="start" fill="#000" >2D Conv (3x3 kernel, 2x2 stride)</text>
<text x="2486" y="425" font-size="27.5" font-weight="normal" font-style="normal" text-anchor="start" fill="#000" >Leaky ReLU</text>
<text x="2486" y="457.5" font-size="27.5" font-weight="normal" font-style="normal" text-anchor="start" fill="#000" >Batch Norm</text>
<text x="2486" y="491" font-size="27.5" font-weight="normal" font-style="normal" text-anchor="start" fill="#000" >Dropout</text>
<text x="2486" y="524.5" font-size="27.5" font-weight="normal" font-style="normal" text-anchor="start" fill="#000" >2D Conv (3x3 kernel, 1x1 stride)</text>
<text x="2486" y="557.5" font-size="27.5" font-weight="normal" font-style="normal" text-anchor="start" fill="#000" >Leaky ReLU</text>
<text x="2486" y="590" font-size="27.5" font-weight="normal" font-style="normal" text-anchor="start" fill="#000" >Batch Norm</text>
<text x="2486" y="623.5" font-size="27.5" font-weight="normal" font-style="normal" text-anchor="start" fill="#000" >Dropout</text>
<text x="2486" y="731.3" font-size="27.5" font-weight="normal" font-style="normal" text-anchor="start" fill="#000" >Bilinear interpolation (2x2)</text>
<text x="2486" y="763.8" font-size="27.5" font-weight="normal" font-style="normal" text-anchor="start" fill="#000" >2D Conv (3x3 kernel, 1x1 stride)</text>
<text x="2486" y="795.8" font-size="27.5" font-weight="normal" font-style="normal" text-anchor="start" fill="#000" >Leaky ReLU</text>
<text x="2486" y="829.8" font-size="27.5" font-weight="normal" font-style="normal" text-anchor="start" fill="#000" >Batch Norm</text>
<text x="2486" y="862.3" font-size="27.5" font-weight="normal" font-style="normal" text-anchor="start" fill="#000" >Dropout</text>
<text x="2486" y="897.3" font-size="27.5" font-weight="normal" font-style="normal" text-anchor="start" fill="#000" >2D Conv (1x1 kernel, 1x1 stride)</text>
<text x="2486" y="928.8" font-size="27.5" font-weight="normal" font-style="normal" text-anchor="start" fill="#000" >Leaky ReLU</text>
<text x="2486" y="961.3" font-size="27.5" font-weight="normal" font-style="normal" text-anchor="start" fill="#000" >Batch Norm</text>
<text x="2486" y="995.8" font-size="27.5" font-weight="normal" font-style="normal" text-anchor="start" fill="#000" >Dropout</text>
<text x="2486" y="1104.7" font-size="27.5" font-weight="normal" font-style="normal" text-anchor="start" fill="#000" >2D Conv (1x1 kernel, 1x1 stride)</text>
<text x="2486" y="1137.2" font-size="27.5" font-weight="normal" font-style="normal" text-anchor="start" fill="#000" >Leaky ReLU</text>
<text x="2486" y="1169.7" font-size="27.5" font-weight="normal" font-style="normal" text-anchor="start" fill="#000" >Batch Norm</text>
<text x="2486" y="1204.7" font-size="27.5" font-weight="normal" font-style="normal" text-anchor="start" fill="#000" >Dropout</text>
<text x="412" y="794.3" font-size="46" font-weight="bold" font-style="normal" text-anchor="start" fill="#000" >Output</text>
<text x="285.5" y="850" font-size="41.5" font-weight="normal" font-style="normal" text-anchor="start" fill="#000" >Tissue Property Maps</text>
<text x="407" y="899" font-size="41" font-weight="normal" font-style="italic" text-anchor="start" fill="#000" >N x N x 3</text>
<text x="154" y="965" font-size="30" font-weight="normal" font-style="normal" text-anchor="start" fill="#000" >T1</text>
<text x="456" y="965" font-size="30" font-weight="normal" font-style="normal" text-anchor="start" fill="#000" >T2</text>
<text x="736" y="965" font-size="30" font-weight="normal" font-style="normal" text-anchor="start" fill="#000" >M0</text>
<use href="#t1map" transform="matrix(2.1200 0 0 2.1100 73 974)"/>
<use href="#t2map" transform="matrix(2.1100 0 0 2.1100 369 974)"/>
<use href="#m0map" transform="matrix(2.1200 0 0 2.1400 656 971)"/>
<rect x="293.5" y="995.5" width="16" height="169" fill="url(#gT1)" stroke="#888" stroke-width="1"/>
<rect x="591.5" y="996.5" width="16" height="166" fill="url(#gT2)" stroke="#888" stroke-width="1"/>
<rect x="880.5" y="989.5" width="15" height="185" fill="url(#gM0)" stroke="#888" stroke-width="1"/>
<text x="314" y="1002" font-size="16.5" font-weight="normal" font-style="normal" text-anchor="start" fill="#000" >2000</text>
<text x="314" y="1044" font-size="16.5" font-weight="normal" font-style="normal" text-anchor="start" fill="#000" >1500</text>
<text x="314" y="1086" font-size="16.5" font-weight="normal" font-style="normal" text-anchor="start" fill="#000" >1000</text>
<text x="314" y="1129" font-size="16.5" font-weight="normal" font-style="normal" text-anchor="start" fill="#000" >500</text>
<text x="314" y="1171" font-size="16.5" font-weight="normal" font-style="normal" text-anchor="start" fill="#000" >0</text>
<text x="612" y="1003" font-size="16.5" font-weight="normal" font-style="normal" text-anchor="start" fill="#000" >150</text>
<text x="612" y="1059" font-size="16.5" font-weight="normal" font-style="normal" text-anchor="start" fill="#000" >100</text>
<text x="612" y="1115" font-size="16.5" font-weight="normal" font-style="normal" text-anchor="start" fill="#000" >50</text>
<text x="612" y="1171" font-size="16.5" font-weight="normal" font-style="normal" text-anchor="start" fill="#000" >0</text>
<text x="901" y="996" font-size="16.5" font-weight="normal" font-style="normal" text-anchor="start" fill="#000" >1</text>
<text x="901" y="1033" font-size="16.5" font-weight="normal" font-style="normal" text-anchor="start" fill="#000" >0.8</text>
<text x="901" y="1071" font-size="16.5" font-weight="normal" font-style="normal" text-anchor="start" fill="#000" >0.6</text>
<text x="901" y="1108" font-size="16.5" font-weight="normal" font-style="normal" text-anchor="start" fill="#000" >0.4</text>
<text x="901" y="1145" font-size="16.5" font-weight="normal" font-style="normal" text-anchor="start" fill="#000" >0.2</text>
<text x="901" y="1182" font-size="16.5" font-weight="normal" font-style="normal" text-anchor="start" fill="#000" >0</text>
<text x="1033" y="1328.5" font-size="74.8" font-weight="normal" font-style="normal" text-anchor="start" fill="#000" >(B) Self-Supervised Training</text>
<text x="1567" y="1388" font-size="35" font-weight="bold" font-style="italic" text-anchor="start" fill="#000" >Data Consistency</text>
<text x="24" y="1866" font-size="35" font-weight="bold" font-style="italic" text-anchor="start" fill="#000" >Deep Image Prior Training</text>
<rect x="1563.5" y="1398" width="1435.5" height="311" fill="#faf0cd" stroke="#111" stroke-width="2" stroke-dasharray="1.5 1.5"/>
<rect x="16.5" y="1880" width="2981.5" height="661" fill="#e3e9f5" stroke="#111" stroke-width="2" stroke-dasharray="1.5 1.5"/>
<text x="1729" y="1433.5" font-size="23.4" font-weight="normal" font-style="normal" text-anchor="middle" fill="#000" >Acquired spiral k-space</text>
<text x="1729" y="1462.5" font-size="23.4" font-weight="normal" font-style="normal" text-anchor="middle" fill="#000" >(time domain)</text>
<g transform="matrix(1.26600 0.19300 0.00000 1.34000 1710.60 1469.90)"><use href="#kspiral"/><rect x="0" y="0" width="100" height="100" fill="none" stroke="#000" stroke-width="3.4" vector-effect="non-scaling-stroke"/></g>
<g transform="matrix(1.26600 0.19300 0.00000 1.34000 1690.80 1486.10)"><use href="#kspiral"/><rect x="0" y="0" width="100" height="100" fill="none" stroke="#000" stroke-width="3.4" vector-effect="non-scaling-stroke"/></g>
<g transform="matrix(1.26600 0.19300 0.00000 1.34000 1671.00 1502.30)"><use href="#kspiral"/><rect x="0" y="0" width="100" height="100" fill="none" stroke="#000" stroke-width="3.4" vector-effect="non-scaling-stroke"/></g>
<g transform="matrix(1.26600 0.19300 0.00000 1.34000 1651.20 1518.50)"><use href="#kspiral"/><rect x="0" y="0" width="100" height="100" fill="none" stroke="#000" stroke-width="3.4" vector-effect="non-scaling-stroke"/></g>
<g transform="matrix(1.26600 0.19300 0.00000 1.34000 1631.40 1534.70)"><use href="#kspiral"/><rect x="0" y="0" width="100" height="100" fill="none" stroke="#000" stroke-width="3.4" vector-effect="non-scaling-stroke"/></g>
<g transform="matrix(1.26600 0.19300 0.00000 1.34000 1611.60 1550.90)"><use href="#kspiral"/><rect x="0" y="0" width="100" height="100" fill="none" stroke="#000" stroke-width="3.4" vector-effect="non-scaling-stroke"/></g>
<polygon points="1848,1597.6 1876.5,1597.6 1876.5,1601.75 1888,1596 1876.5,1590.25 1876.5,1594.4 1848,1594.4" fill="#4f71c3"/>
<rect x="1898.75" y="1562.75" width="133.0" height="67.5" rx="0" fill="#5472c4" stroke="#34539a" stroke-width="1.5"/>
<text x="1965.25" y="1589.4" font-size="24" font-weight="normal" font-style="normal" text-anchor="middle" fill="#fff" >Low-Rank</text>
<text x="1965.25" y="1620.4" font-size="24" font-weight="normal" font-style="normal" text-anchor="middle" fill="#fff" >Projection</text>
<text x="1894" y="1656.5" font-size="20.5" font-weight="normal" font-style="italic" text-anchor="start" fill="#000" >Multiply by U<tspan font-size="13" dy="5">K</tspan></text>
<polygon points="2041,1598.6 2070.5,1598.6 2070.5,1602.75 2082,1597 2070.5,1591.25 2070.5,1595.4 2041,1595.4" fill="#4f71c3"/>
<text x="2183" y="1437.5" font-size="23.4" font-weight="normal" font-style="normal" text-anchor="middle" fill="#000" >Spiral k-space</text>
<text x="2183" y="1464.5" font-size="23.4" font-weight="normal" font-style="normal" text-anchor="middle" fill="#000" >(temporal subspace)</text>
<g transform="matrix(1.26000 0.19000 0.00000 1.32000 2139.00 1492.00)"><use href="#ksub"/><rect x="0" y="0" width="100" height="100" fill="none" stroke="#000" stroke-width="3.4" vector-effect="non-scaling-stroke"/></g>
<g transform="matrix(1.26000 0.19000 0.00000 1.32000 2115.00 1510.00)"><use href="#ksub"/><rect x="0" y="0" width="100" height="100" fill="none" stroke="#000" stroke-width="3.4" vector-effect="non-scaling-stroke"/></g>
<g transform="matrix(1.26000 0.19000 0.00000 1.32000 2091.00 1528.00)"><use href="#ksub"/><rect x="0" y="0" width="100" height="100" fill="none" stroke="#000" stroke-width="3.4" vector-effect="non-scaling-stroke"/></g>
<polygon points="2286,1600.6 2314.5,1600.6 2314.5,1604.75 2326,1599 2314.5,1593.25 2314.5,1597.4 2286,1597.4" fill="#4f71c3"/>
<rect x="2336.75" y="1574.75" width="98.5" height="50.5" rx="0" fill="#5472c4" stroke="#34539a" stroke-width="1.5"/>
<text x="2386" y="1608.4" font-size="24" font-weight="normal" font-style="normal" text-anchor="middle" fill="#fff" >NUFFT</text>
<polygon points="2443,1598.6 2471.5,1598.6 2471.5,1602.75 2483,1597 2471.5,1591.25 2471.5,1595.4 2443,1595.4" fill="#4f71c3"/>
<rect x="2487.75" y="1566.75" width="133.5" height="67.5" rx="0" fill="#5472c4" stroke="#34539a" stroke-width="1.5"/>
<text x="2554.5" y="1593.9" font-size="24" font-weight="normal" font-style="normal" text-anchor="middle" fill="#fff" >Coil</text>
<text x="2554.5" y="1623.9" font-size="24" font-weight="normal" font-style="normal" text-anchor="middle" fill="#fff" >Combine</text>
<polygon points="2632,1598.6 2661.5,1598.6 2661.5,1602.75 2673,1597 2661.5,1591.25 2661.5,1595.4 2632,1595.4" fill="#4f71c3"/>
<text x="2807" y="1441.5" font-size="23.4" font-weight="normal" font-style="normal" text-anchor="middle" fill="#000" >Subspace images</text>
<text x="2807" y="1469.5" font-size="23.4" font-weight="normal" font-style="normal" text-anchor="middle" fill="#000" >(acquired)</text>
<use href="#mri2" transform="matrix(1.21000 0.16000 0.00000 1.26000 2853.00 1479.00)"/>
<use href="#mri1" transform="matrix(1.20000 0.18000 0.00000 1.26000 2762.00 1497.00)"/>
<use href="#mri0" transform="matrix(1.20000 0.17000 0.00000 1.26000 2678.00 1530.00)"/>
<polygon points="2842.4,1667 2842.4,1741.5 2838.25,1741.5 2844,1753 2849.75,1741.5 2845.6,1741.5 2845.6,1667" fill="#4f71c3"/>
<rect x="2770.25" y="1765.75" width="158.5" height="71.5" rx="12" fill="#6a31a0" stroke="#4e2390" stroke-width="1.5"/>
<text x="2849.5" y="1794.3" font-size="24.2" font-weight="normal" font-style="normal" text-anchor="middle" fill="#fff" >Normalized</text>
<text x="2848" y="1826.3" font-size="24.5" font-weight="normal" font-style="normal" text-anchor="middle" fill="#fff" ><tspan font-style="italic" font-family="Liberation Serif" font-size="30">l</tspan><tspan font-size="19" dy="6">1</tspan><tspan dy="-6">- </tspan><tspan font-style="italic" font-family="Liberation Serif" font-size="30">l</tspan><tspan font-size="19" dy="6">2</tspan><tspan dy="-6"> loss</tspan></text>
<polygon points="2846.6,1930 2846.6,1857.5 2850.75,1857.5 2845,1846 2839.25,1857.5 2843.4,1857.5 2843.4,1930" fill="#4f71c3"/>
<line x1="2845" y1="1878" x2="2845" y2="1932" stroke="#4f71c3" stroke-width="3.2"/>
<g transform="matrix(1.00000 0.15574 0.00000 1.00000 110.00 2088.00)">
<rect x="0" y="0" width="122" height="127" fill="url(#pnoiseB)" filter="url(#nblur)"/>
<rect x="1.75" y="1.75" width="118.5" height="123.5" fill="none" stroke="#111" stroke-width="3.5"/>
</g>
<g transform="matrix(1.00000 0.15574 0.00000 1.00000 71.50 2118.00)">
<rect x="0" y="0" width="122" height="127" fill="url(#pnoiseB)" filter="url(#nblur)"/>
<rect x="1.75" y="1.75" width="118.5" height="123.5" fill="none" stroke="#111" stroke-width="3.5"/>
</g>
<g transform="matrix(1.00000 0.15574 0.00000 1.00000 39.00 2142.00)">
<rect x="0" y="0" width="122" height="127" fill="url(#pnoiseB)" filter="url(#nblur)"/>
<rect x="1.75" y="1.75" width="118.5" height="123.5" fill="none" stroke="#111" stroke-width="3.5"/>
</g>
<polygon points="236,2192.6 263.5,2192.6 263.5,2196.75 275,2191 263.5,2185.25 263.5,2189.4 236,2189.4" fill="#4f71c3"/>
<rect x="276.75" y="2157.75" width="133.5" height="66.5" rx="0" fill="#5472c4" stroke="#34539a" stroke-width="1.5"/>
<text x="343.5" y="2199.4" font-size="24" font-weight="normal" font-style="normal" text-anchor="middle" fill="#fff" >U-Net</text>
<text x="341" y="2249.5" font-size="20.5" font-weight="normal" font-style="italic" text-anchor="middle" fill="#000" >Deep Image Prior</text>
<polyline points="472,2063 426,2192 476,2326" fill="none" stroke="#4f71c3" stroke-width="3.2"/>
<line x1="426" y1="2192" x2="460" y2="2194" stroke="#4f71c3" stroke-width="3.2"/>
<polygon points="427.51,2192.54 469.64,2074.37 473.55,2075.76 472,2063 462.72,2071.9 466.63,2073.29 424.49,2191.46" fill="#4f71c3"/>
<polygon points="425.88,2193.6 454.41,2195.74 454.1,2199.87 466,2195 454.96,2188.41 454.65,2192.54 426.12,2190.4" fill="#4f71c3"/>
<polygon points="424.5,2192.56 470.48,2315.78 466.59,2317.24 476,2326 477.37,2313.22 473.48,2314.67 427.5,2191.44" fill="#4f71c3"/>
<text x="536" y="1985" font-size="15" font-weight="normal" font-style="normal" text-anchor="middle" fill="#000" >T1</text>
<text x="542" y="2125" font-size="15" font-weight="normal" font-style="normal" text-anchor="middle" fill="#000" >T2</text>
<text x="541" y="2268" font-size="15" font-weight="normal" font-style="normal" text-anchor="middle" fill="#000" >M0</text>
<use href="#t1map" transform="matrix(1.1500 0 0 1.1500 482 1989)"/>
<use href="#t2map" transform="matrix(1.1500 0 0 1.1400 485 2129)"/>
<use href="#m0map" transform="matrix(1.1500 0 0 1.1500 486 2271)"/>
<rect x="598" y="1994" width="35" height="104" fill="#fff"/>
<rect x="602" y="2134" width="31" height="104" fill="#fff"/>
<rect x="603" y="2274" width="32" height="113" fill="#fff"/>
<rect x="602" y="2001" width="8" height="91" fill="url(#gT1)"/>
<rect x="606" y="2141" width="8" height="91" fill="url(#gT2)"/>
<rect x="607" y="2280" width="8" height="100" fill="url(#gM0)"/>
<text x="613" y="2004" font-size="8" font-weight="normal" font-style="normal" text-anchor="start" fill="#000" >2000</text>
<text x="613" y="2027" font-size="8" font-weight="normal" font-style="normal" text-anchor="start" fill="#000" >1500</text>
<text x="613" y="2050" font-size="8" font-weight="normal" font-style="normal" text-anchor="start" fill="#000" >1000</text>
<text x="613" y="2073" font-size="8" font-weight="normal" font-style="normal" text-anchor="start" fill="#000" >500</text>
<text x="613" y="2096" font-size="8" font-weight="normal" font-style="normal" text-anchor="start" fill="#000" >0</text>
<text x="617" y="2144" font-size="8" font-weight="normal" font-style="normal" text-anchor="start" fill="#000" >150</text>
<text x="617" y="2175" font-size="8" font-weight="normal" font-style="normal" text-anchor="start" fill="#000" >100</text>
<text x="617" y="2205" font-size="8" font-weight="normal" font-style="normal" text-anchor="start" fill="#000" >50</text>
<text x="617" y="2235" font-size="8" font-weight="normal" font-style="normal" text-anchor="start" fill="#000" >0</text>
<text x="618" y="2283" font-size="8" font-weight="normal" font-style="normal" text-anchor="start" fill="#000" >1</text>
<text x="618" y="2303" font-size="8" font-weight="normal" font-style="normal" text-anchor="start" fill="#000" >0.8</text>
<text x="618" y="2323" font-size="8" font-weight="normal" font-style="normal" text-anchor="start" fill="#000" >0.6</text>
<text x="618" y="2343" font-size="8" font-weight="normal" font-style="normal" text-anchor="start" fill="#000" >0.4</text>
<text x="618" y="2363" font-size="8" font-weight="normal" font-style="normal" text-anchor="start" fill="#000" >0.2</text>
<text x="618" y="2383" font-size="8" font-weight="normal" font-style="normal" text-anchor="start" fill="#000" >0</text>
<line x1="634" y1="2041" x2="702" y2="2115" stroke="#4f71c3" stroke-width="3.2"/>
<polygon points="632.83,2042.09 699.02,2113.64 695.97,2116.46 708,2121 704.41,2108.65 701.37,2111.47 635.17,2039.91" fill="#4f71c3"/>
<polygon points="634.98,2181.27 699.87,2131.29 702.4,2134.57 708,2123 695.38,2125.46 697.91,2128.75 633.02,2178.73" fill="#4f71c3"/>
<rect x="709.75" y="2066.75" width="181.5" height="112.5" rx="0" fill="#5472c4" stroke="#34539a" stroke-width="1.5"/>
<text x="800.5" y="2100.57" font-size="24.5" font-weight="normal" font-style="normal" text-anchor="middle" fill="#fff" >Fingerprint</text>
<text x="800.5" y="2131.57" font-size="24.5" font-weight="normal" font-style="normal" text-anchor="middle" fill="#fff" >Generator</text>
<text x="800.5" y="2162.57" font-size="24.5" font-weight="normal" font-style="normal" text-anchor="middle" fill="#fff" >Network</text>
<text x="799" y="2204.4" font-size="20.3" font-weight="normal" font-style="italic" text-anchor="middle" fill="#000" >pre-trained using MRF</text>
<text x="799" y="2227.3" font-size="20.5" font-weight="normal" font-style="italic" text-anchor="middle" fill="#000" >signals from Bloch simulation</text>
<text x="802" y="1915.5" font-size="23.5" font-weight="normal" font-style="normal" text-anchor="middle" fill="#000" >Cardiac Rhythm (RR Intervals)</text>
<path d="M 684 1963.5 L 696 1963.5 L 696.2 1922 L 703.5 1981.5 L 709.2 1963.5 L 769.7 1963.5 L 769.9 1922 L 777.9 1981.5 L 783.6 1963.5 L 843.2 1963.5 L 843.4 1922 L 850.6 1981.5 L 856.3 1963.5 L 912 1963.5" fill="none" stroke="#222" stroke-width="1.3"/>
<rect x="737" y="1968" width="24" height="9" fill="#85ad53" stroke="#333" stroke-width="0.8"/>
<rect x="812" y="1968" width="24" height="9" fill="#85ad53" stroke="#333" stroke-width="0.8"/>
<rect x="883" y="1968" width="24" height="9" fill="#85ad53" stroke="#333" stroke-width="0.8"/>
<text x="903" y="1957" font-size="14" font-weight="normal" font-style="normal" text-anchor="middle" fill="#000" >...</text>
<line x1="764" y1="1991" x2="805" y2="1991" stroke="#222" stroke-width="1"/>
<polygon points="760,1991 766,1988.5 766,1993.5" fill="#222"/>
<polygon points="809,1991 803,1988.5 803,1993.5" fill="#222"/>
<text x="784" y="2007.6" font-size="12.3" font-weight="normal" font-style="normal" text-anchor="middle" fill="#000" >RR<tspan font-size="8" dy="2.5">1</tspan></text>
<line x1="841" y1="1991" x2="878" y2="1991" stroke="#222" stroke-width="1"/>
<polygon points="837,1991 843,1988.5 843,1993.5" fill="#222"/>
<polygon points="882,1991 876,1988.5 876,1993.5" fill="#222"/>
<text x="859" y="2007.6" font-size="12.3" font-weight="normal" font-style="normal" text-anchor="middle" fill="#000" >RR<tspan font-size="8" dy="2.5">2</tspan></text>
<polygon points="802.4,2014 802.4,2053.5 798.25,2053.5 804,2065 809.75,2053.5 805.6,2053.5 805.6,2014" fill="#4f71c3"/>
<polygon points="893,2123.6 921.5,2123.6 921.5,2127.75 933,2122 921.5,2116.25 921.5,2120.4 893,2120.4" fill="#4f71c3"/>
<circle cx="969" cy="2125" r="25" fill="#5472c4" stroke="#34539a" stroke-width="1.5"/>
<text x="969" y="2134" font-size="25" font-weight="normal" font-style="normal" text-anchor="middle" fill="#fff" >X</text>
<polygon points="999,2126.6 1034.5,2126.6 1034.5,2130.75 1046,2125 1034.5,2119.25 1034.5,2123.4 999,2123.4" fill="#4f71c3"/>
<polyline points="650,2331 969.5,2327.5 969.5,2170" fill="none" stroke="#4f71c3" stroke-width="3.2"/>
<polygon points="971.1,2200 971.1,2170.5 975.25,2170.5 969.5,2159 963.75,2170.5 967.9,2170.5 967.9,2200" fill="#4f71c3"/>
<use href="#mri2" transform="matrix(1.20000 0.16000 0.00000 1.26000 1191.00 1999.00)"/>
<use href="#mri1" transform="matrix(1.20000 0.18000 0.00000 1.22000 1116.00 2029.00)"/>
<use href="#mri0" transform="matrix(1.18000 0.19000 0.00000 1.26000 1060.00 2070.00)"/>
<text x="1180" y="1958.5" font-size="23.4" font-weight="normal" font-style="normal" text-anchor="middle" fill="#000" >Time Series of</text>
<text x="1180" y="1985.5" font-size="23.4" font-weight="normal" font-style="normal" text-anchor="middle" fill="#000" >MRF Images</text>
<polygon points="1325,2128.6 1353.5,2128.6 1353.5,2132.75 1365,2127 1353.5,2121.25 1353.5,2125.4 1325,2125.4" fill="#4f71c3"/>
<circle cx="1398" cy="2134" r="25" fill="#5472c4" stroke="#34539a" stroke-width="1.5"/>
<text x="1398" y="2143" font-size="25" font-weight="normal" font-style="normal" text-anchor="middle" fill="#fff" >X</text>
<polygon points="1399.6,2202 1399.6,2175.5 1403.75,2175.5 1398,2164 1392.25,2175.5 1396.4,2175.5 1396.4,2202" fill="#4f71c3"/>
<polygon points="1431,2128.6 1459.5,2128.6 1459.5,2132.75 1471,2127 1459.5,2121.25 1459.5,2125.4 1431,2125.4" fill="#4f71c3"/>
<rect x="1477.75" y="2105.75" width="99.5" height="49.5" rx="0" fill="#5472c4" stroke="#34539a" stroke-width="1.5"/>
<text x="1527.5" y="2138.9" font-size="24" font-weight="normal" font-style="normal" text-anchor="middle" fill="#fff" >iNUFFT</text>
<polygon points="1585,2129.6 1613.5,2129.6 1613.5,2133.75 1625,2128 1613.5,2122.25 1613.5,2126.4 1585,2126.4" fill="#4f71c3"/>
<text x="1404" y="2232.5" font-size="23.4" font-weight="normal" font-style="normal" text-anchor="middle" fill="#000" >Coil Sensitivity Maps</text>
<use href="#coil1" transform="matrix(0.9435 0 0 0.9350 1310.00 2239.50)"/>
<use href="#coil2" transform="matrix(0.9435 0 0 0.9350 1404.35 2239.50)"/>
<use href="#coil3" transform="matrix(0.9435 0 0 0.9350 1310.00 2333.00)"/>
<use href="#coil4" transform="matrix(0.9435 0 0 0.9350 1404.35 2333.00)"/>
<text x="1745" y="1958.5" font-size="23.4" font-weight="normal" font-style="normal" text-anchor="middle" fill="#000" >Reconstructed spiral k-space</text>
<text x="1745" y="1985.5" font-size="23.4" font-weight="normal" font-style="normal" text-anchor="middle" fill="#000" >(time domain)</text>
<g transform="matrix(1.28000 0.20000 0.00000 1.33000 1727.00 1996.00)"><use href="#kspiral"/><rect x="0" y="0" width="100" height="100" fill="none" stroke="#000" stroke-width="3.4" vector-effect="non-scaling-stroke"/></g>
<g transform="matrix(1.28000 0.20000 0.00000 1.33000 1706.80 2012.20)"><use href="#kspiral"/><rect x="0" y="0" width="100" height="100" fill="none" stroke="#000" stroke-width="3.4" vector-effect="non-scaling-stroke"/></g>
<g transform="matrix(1.28000 0.20000 0.00000 1.33000 1686.60 2028.40)"><use href="#kspiral"/><rect x="0" y="0" width="100" height="100" fill="none" stroke="#000" stroke-width="3.4" vector-effect="non-scaling-stroke"/></g>
<g transform="matrix(1.28000 0.20000 0.00000 1.33000 1666.40 2044.60)"><use href="#kspiral"/><rect x="0" y="0" width="100" height="100" fill="none" stroke="#000" stroke-width="3.4" vector-effect="non-scaling-stroke"/></g>
<g transform="matrix(1.28000 0.20000 0.00000 1.33000 1646.20 2060.80)"><use href="#kspiral"/><rect x="0" y="0" width="100" height="100" fill="none" stroke="#000" stroke-width="3.4" vector-effect="non-scaling-stroke"/></g>
<g transform="matrix(1.28000 0.20000 0.00000 1.33000 1626.00 2077.00)"><use href="#kspiral"/><rect x="0" y="0" width="100" height="100" fill="none" stroke="#000" stroke-width="3.4" vector-effect="non-scaling-stroke"/></g>
<polygon points="1867,2122.6 1895.5,2122.6 1895.5,2126.75 1907,2121 1895.5,2115.25 1895.5,2119.4 1867,2119.4" fill="#4f71c3"/>
<rect x="1917.75" y="2088.75" width="133.5" height="66.5" rx="0" fill="#5472c4" stroke="#34539a" stroke-width="1.5"/>
<text x="1984.5" y="2115.4" font-size="24" font-weight="normal" font-style="normal" text-anchor="middle" fill="#fff" >Low-Rank</text>
<text x="1984.5" y="2145.4" font-size="24" font-weight="normal" font-style="normal" text-anchor="middle" fill="#fff" >Projection</text>
<text x="1912" y="2181.5" font-size="20.5" font-weight="normal" font-style="italic" text-anchor="start" fill="#000" >Multiply by U<tspan font-size="13" dy="5">K</tspan></text>
<polygon points="2061,2123.6 2089.5,2123.6 2089.5,2127.75 2101,2122 2089.5,2116.25 2089.5,2120.4 2061,2120.4" fill="#4f71c3"/>
<text x="2202" y="1963.5" font-size="23.4" font-weight="normal" font-style="normal" text-anchor="middle" fill="#000" >Spiral k-space</text>
<text x="2202" y="1990.5" font-size="23.4" font-weight="normal" font-style="normal" text-anchor="middle" fill="#000" >(temporal subspace)</text>
<g transform="matrix(1.26000 0.18000 0.00000 1.33000 2158.00 2018.00)"><use href="#ksub"/><rect x="0" y="0" width="100" height="100" fill="none" stroke="#000" stroke-width="3.4" vector-effect="non-scaling-stroke"/></g>
<g transform="matrix(1.26000 0.18000 0.00000 1.33000 2134.00 2036.00)"><use href="#ksub"/><rect x="0" y="0" width="100" height="100" fill="none" stroke="#000" stroke-width="3.4" vector-effect="non-scaling-stroke"/></g>
<g transform="matrix(1.26000 0.18000 0.00000 1.33000 2110.00 2054.00)"><use href="#ksub"/><rect x="0" y="0" width="100" height="100" fill="none" stroke="#000" stroke-width="3.4" vector-effect="non-scaling-stroke"/></g>
<polygon points="2305,2125.6 2333.5,2125.6 2333.5,2129.75 2345,2124 2333.5,2118.25 2333.5,2122.4 2305,2122.4" fill="#4f71c3"/>
<rect x="2355.75" y="2100.75" width="99.5" height="50.5" rx="0" fill="#5472c4" stroke="#34539a" stroke-width="1.5"/>
<text x="2405.5" y="2134.4" font-size="24" font-weight="normal" font-style="normal" text-anchor="middle" fill="#fff" >NUFFT</text>
<polygon points="2462,2123.6 2491.5,2123.6 2491.5,2127.75 2503,2122 2491.5,2116.25 2491.5,2120.4 2462,2120.4" fill="#4f71c3"/>
<rect x="2506.75" y="2091.75" width="133.5" height="67.5" rx="0" fill="#5472c4" stroke="#34539a" stroke-width="1.5"/>
<text x="2573.5" y="2118.9" font-size="24" font-weight="normal" font-style="normal" text-anchor="middle" fill="#fff" >Coil</text>
<text x="2573.5" y="2148.9" font-size="24" font-weight="normal" font-style="normal" text-anchor="middle" fill="#fff" >Combine</text>
<polygon points="2652,2123.6 2680.5,2123.6 2680.5,2127.75 2692,2122 2680.5,2116.25 2680.5,2120.4 2652,2120.4" fill="#4f71c3"/>
<text x="2827" y="1963.5" font-size="23.4" font-weight="normal" font-style="normal" text-anchor="middle" fill="#000" >Subspace images</text>
<text x="2827" y="1991.5" font-size="23.4" font-weight="normal" font-style="normal" text-anchor="middle" fill="#000" >(estimated)</text>
<use href="#mri2" transform="matrix(1.18000 0.17000 0.00000 1.25000 2873.00 2004.00)"/>
<use href="#mri1" transform="matrix(1.20000 0.18000 0.00000 1.24000 2781.00 2023.00)"/>
<use href="#mri0" transform="matrix(1.21000 0.19000 0.00000 1.26000 2697.00 2056.00)"/>
</svg>
</body></html>
